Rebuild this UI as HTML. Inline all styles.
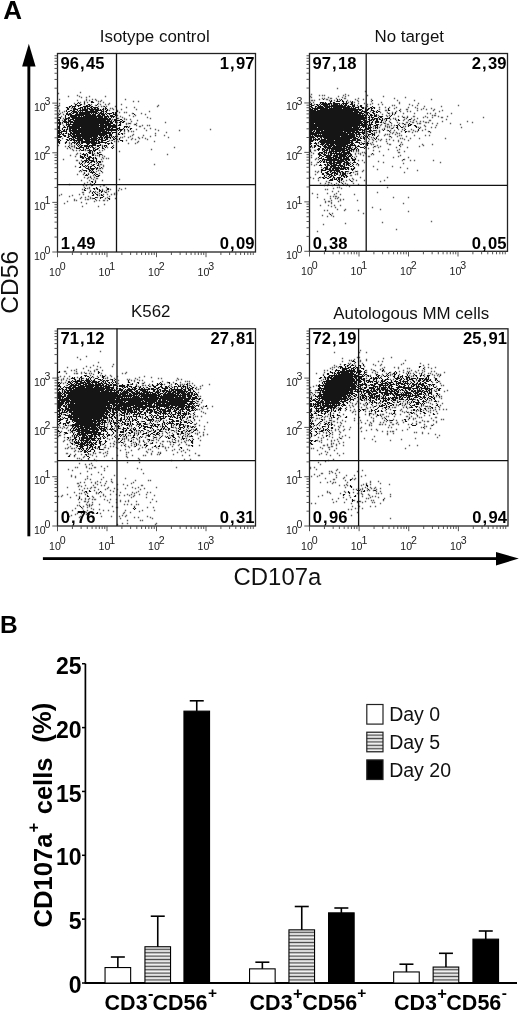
<!DOCTYPE html>
<html><head><meta charset="utf-8"><style>
html,body{margin:0;padding:0;background:#fff;width:520px;height:1013px;overflow:hidden}
svg{display:block;will-change:transform}
text{font-family:"Liberation Sans",sans-serif}
</style></head><body>
<svg width="520" height="1013" viewBox="0 0 520 1013">
<rect width="520" height="1013" fill="#fff"/>
<text x="3.30" y="19.20" font-size="26" font-weight="700" text-anchor="start" fill="#000" >A</text>
<rect x="27.4" y="60" width="2.9" height="476.3" fill="#000"/>
<path d="M28.85 43.8 L35.6 66.5 L22.1 66.5 Z" fill="#000"/>
<rect x="42.9" y="557.2" width="460" height="2.8" fill="#000"/>
<path d="M518.8 558.6 L496 551.9 L496 565.4 Z" fill="#000"/>
<text x="18.20" y="313.80" font-size="24.6" font-weight="400" text-anchor="start" fill="#111" transform="rotate(-90 18.2 313.8)">CD56</text>
<text x="233.60" y="585.00" font-size="23.9" font-weight="400" text-anchor="start" fill="#111" >CD107a</text>
<text x="99.80" y="42.00" font-size="16.9" font-weight="400" text-anchor="start" fill="#111" >Isotype control</text>
<path d="M91.5 101.5h0m1 0h0m-14 1h0m6 0h0m7 0h0m1 0h0m1 0h0m-16 1h0m2 0h0m5 0h0m-9 1h0m1 0h0m4 0h0m1 0h0m7 0h0m1 0h0m8 0h0m-26 1h0m4 0h0m2 0h0m1 0h0m1 0h0m1 0h0m6 0h0m1 0h0m2 0h0m1 0h0m6 0h0m-27 1h0m1 0h0m2 0h0m1 0h0m1 0h0m1 0h0m3 0h0m5 0h0m1 0h0m1 0h0m1 0h0m1 0h0m1 0h0m1 0h0m2 0h0m1 0h0m12 0h0m-38 1h0m1 0h0m2 0h0m3 0h0m2 0h0m6 0h0m1 0h0m1 0h0m2 0h0m1 0h0m2 0h0m3 0h0m1 0h0m2 0h0m1 0h0m1 0h0m1 0h0m1 0h0m8 0h0m-38 1h0m1 0h0m5 0h0m1 0h0m1 0h0m3 0h0m1 0h0m1 0h0m2 0h0m2 0h0m1 0h0m2 0h0m1 0h0m1 0h0m2 0h0m1 0h0m2 0h0m1 0h0m2 0h0m1 0h0m5 0h0m2 0h0m1 0h0m-39 1h0m1 0h0m5 0h0m1 0h0m1 0h0m1 0h0m1 0h0m3 0h0m2 0h0m1 0h0m1 0h0m1 0h0m1 0h0m1 0h0m2 0h0m1 0h0m1 0h0m1 0h0m1 0h0m1 0h0m1 0h0m1 0h0m1 0h0m1 0h0m2 0h0m2 0h0m1 0h0m2 0h0m2 0h0m-41 1h0m4 0h0m1 0h0m2 0h0m1 0h0m3 0h0m2 0h0m1 0h0m1 0h0m1 0h0m1 0h0m1 0h0m1 0h0m1 0h0m1 0h0m3 0h0m1 0h0m1 0h0m1 0h0m2 0h0m1 0h0m1 0h0m1 0h0m1 0h0m1 0h0m1 0h0m2 0h0m3 0h0m1 0h0m-41 1h0m2 0h0m1 0h0m3 0h0m1 0h0m1 0h0m1 0h0m1 0h0m2 0h0m2 0h0m2 0h0m3 0h0m1 0h0m1 0h0m1 0h0m1 0h0m1 0h0m1 0h0m1 0h0m1 0h0m1 0h0m1 0h0m1 0h0m1 0h0m4 0h0m1 0h0m1 0h0m2 0h0m1 0h0m11 0h0m-50 1h0m4 0h0m2 0h0m1 0h0m1 0h0m1 0h0m1 0h0m2 0h0m1 0h0m1 0h0m1 0h0m1 0h0m1 0h0m1 0h0m1 0h0m1 0h0m1 0h0m1 0h0m1 0h0m1 0h0m1 0h0m1 0h0m1 0h0m1 0h0m1 0h0m2 0h0m2 0h0m1 0h0m2 0h0m3 0h0m6 0h0m1 0h0m2 0h0m1 0h0m-50 1h0m1 0h0m2 0h0m1 0h0m2 0h0m1 0h0m3 0h0m1 0h0m2 0h0m1 0h0m1 0h0m1 0h0m1 0h0m1 0h0m1 0h0m1 0h0m1 0h0m1 0h0m1 0h0m2 0h0m2 0h0m2 0h0m1 0h0m1 0h0m2 0h0m1 0h0m1 0h0m1 0h0m1 0h0m2 0h0m2 0h0m1 0h0m1 0h0m1 0h0m1 0h0m2 0h0m2 0h0m18 0h0m-74 1h0m7 0h0m1 0h0m1 0h0m1 0h0m1 0h0m1 0h0m4 0h0m1 0h0m1 0h0m1 0h0m1 0h0m1 0h0m1 0h0m1 0h0m1 0h0m1 0h0m1 0h0m1 0h0m1 0h0m1 0h0m1 0h0m1 0h0m2 0h0m1 0h0m1 0h0m1 0h0m3 0h0m1 0h0m2 0h0m1 0h0m1 0h0m1 0h0m2 0h0m3 0h0m4 0h0m1 0h0m1 0h0m19 0h0m-69 1h0m3 0h0m2 0h0m1 0h0m1 0h0m1 0h0m1 0h0m1 0h0m1 0h0m1 0h0m1 0h0m1 0h0m1 0h0m1 0h0m1 0h0m1 0h0m2 0h0m1 0h0m1 0h0m1 0h0m1 0h0m1 0h0m1 0h0m1 0h0m1 0h0m1 0h0m1 0h0m2 0h0m1 0h0m1 0h0m1 0h0m2 0h0m1 0h0m1 0h0m3 0h0m3 0h0m1 0h0m1 0h0m3 0h0m-50 1h0m5 0h0m1 0h0m1 0h0m1 0h0m1 0h0m1 0h0m1 0h0m2 0h0m1 0h0m2 0h0m2 0h0m1 0h0m1 0h0m1 0h0m1 0h0m1 0h0m1 0h0m1 0h0m1 0h0m1 0h0m1 0h0m1 0h0m1 0h0m1 0h0m1 0h0m1 0h0m1 0h0m1 0h0m1 0h0m1 0h0m2 0h0m1 0h0m1 0h0m1 0h0m1 0h0m2 0h0m1 0h0m1 0h0m1 0h0m1 0h0m-55 1h0m1 0h0m5 0h0m3 0h0m1 0h0m2 0h0m1 0h0m1 0h0m1 0h0m1 0h0m1 0h0m1 0h0m1 0h0m1 0h0m1 0h0m1 0h0m1 0h0m1 0h0m1 0h0m1 0h0m1 0h0m1 0h0m1 0h0m1 0h0m1 0h0m1 0h0m1 0h0m1 0h0m1 0h0m1 0h0m1 0h0m2 0h0m1 0h0m1 0h0m1 0h0m1 0h0m2 0h0m1 0h0m1 0h0m2 0h0m3 0h0m2 0h0m-53 1h0m5 0h0m1 0h0m1 0h0m1 0h0m1 0h0m3 0h0m1 0h0m1 0h0m1 0h0m1 0h0m1 0h0m1 0h0m1 0h0m1 0h0m1 0h0m1 0h0m1 0h0m1 0h0m1 0h0m1 0h0m1 0h0m1 0h0m1 0h0m1 0h0m1 0h0m1 0h0m1 0h0m1 0h0m1 0h0m1 0h0m1 0h0m1 0h0m1 0h0m1 0h0m1 0h0m1 0h0m1 0h0m1 0h0m1 0h0m1 0h0m1 0h0m2 0h0m1 0h0m7 0h0m-59 1h0m1 0h0m5 0h0m1 0h0m1 0h0m2 0h0m2 0h0m1 0h0m1 0h0m1 0h0m2 0h0m1 0h0m1 0h0m1 0h0m1 0h0m1 0h0m1 0h0m1 0h0m1 0h0m1 0h0m1 0h0m1 0h0m1 0h0m1 0h0m1 0h0m1 0h0m1 0h0m1 0h0m1 0h0m1 0h0m1 0h0m1 0h0m1 0h0m1 0h0m1 0h0m1 0h0m1 0h0m1 0h0m1 0h0m1 0h0m1 0h0m1 0h0m1 0h0m1 0h0m1 0h0m1 0h0m4 0h0m1 0h0m1 0h0m4 0h0m1 0h0m-63 1h0m1 0h0m5 0h0m1 0h0m3 0h0m1 0h0m1 0h0m3 0h0m1 0h0m1 0h0m1 0h0m1 0h0m1 0h0m1 0h0m1 0h0m1 0h0m1 0h0m1 0h0m1 0h0m1 0h0m1 0h0m1 0h0m1 0h0m1 0h0m1 0h0m1 0h0m1 0h0m1 0h0m1 0h0m1 0h0m1 0h0m1 0h0m1 0h0m1 0h0m1 0h0m1 0h0m1 0h0m1 0h0m1 0h0m1 0h0m2 0h0m1 0h0m1 0h0m2 0h0m3 0h0m1 0h0m1 0h0m1 0h0m1 0h0m1 0h0m3 0h0m-63 1h0m4 0h0m1 0h0m1 0h0m1 0h0m2 0h0m1 0h0m1 0h0m1 0h0m1 0h0m2 0h0m1 0h0m1 0h0m1 0h0m1 0h0m1 0h0m1 0h0m1 0h0m1 0h0m1 0h0m1 0h0m1 0h0m1 0h0m1 0h0m1 0h0m1 0h0m1 0h0m1 0h0m1 0h0m1 0h0m1 0h0m1 0h0m1 0h0m1 0h0m1 0h0m1 0h0m1 0h0m1 0h0m1 0h0m1 0h0m1 0h0m1 0h0m1 0h0m1 0h0m1 0h0m1 0h0m1 0h0m1 0h0m2 0h0m2 0h0m5 0h0m1 0h0m2 0h0m1 0h0m-66 1h0m1 0h0m1 0h0m2 0h0m2 0h0m1 0h0m1 0h0m1 0h0m1 0h0m2 0h0m1 0h0m1 0h0m1 0h0m1 0h0m1 0h0m1 0h0m1 0h0m1 0h0m1 0h0m1 0h0m1 0h0m1 0h0m1 0h0m1 0h0m1 0h0m1 0h0m1 0h0m1 0h0m1 0h0m1 0h0m1 0h0m1 0h0m1 0h0m1 0h0m1 0h0m1 0h0m1 0h0m1 0h0m1 0h0m1 0h0m1 0h0m1 0h0m1 0h0m1 0h0m1 0h0m1 0h0m1 0h0m1 0h0m2 0h0m1 0h0m1 0h0m3 0h0m4 0h0m1 0h0m2 0h0m1 0h0m-65 1h0m1 0h0m1 0h0m6 0h0m2 0h0m2 0h0m3 0h0m1 0h0m1 0h0m1 0h0m1 0h0m1 0h0m1 0h0m1 0h0m1 0h0m1 0h0m1 0h0m1 0h0m1 0h0m1 0h0m1 0h0m1 0h0m1 0h0m1 0h0m1 0h0m1 0h0m1 0h0m1 0h0m1 0h0m1 0h0m1 0h0m1 0h0m1 0h0m1 0h0m1 0h0m1 0h0m1 0h0m1 0h0m1 0h0m1 0h0m1 0h0m1 0h0m1 0h0m1 0h0m1 0h0m1 0h0m4 0h0m4 0h0m9 0h0m-70 1h0m1 0h0m6 0h0m1 0h0m1 0h0m1 0h0m1 0h0m1 0h0m1 0h0m1 0h0m1 0h0m1 0h0m1 0h0m1 0h0m1 0h0m1 0h0m1 0h0m1 0h0m1 0h0m1 0h0m1 0h0m1 0h0m1 0h0m1 0h0m1 0h0m1 0h0m1 0h0m1 0h0m1 0h0m1 0h0m1 0h0m1 0h0m1 0h0m1 0h0m1 0h0m2 0h0m1 0h0m1 0h0m1 0h0m2 0h0m1 0h0m1 0h0m1 0h0m1 0h0m1 0h0m3 0h0m1 0h0m5 0h0m1 0h0m15 0h0m-76 1h0m7 0h0m2 0h0m1 0h0m3 0h0m1 0h0m1 0h0m1 0h0m1 0h0m1 0h0m1 0h0m1 0h0m1 0h0m1 0h0m1 0h0m1 0h0m1 0h0m1 0h0m1 0h0m1 0h0m1 0h0m1 0h0m1 0h0m1 0h0m1 0h0m1 0h0m1 0h0m1 0h0m1 0h0m1 0h0m1 0h0m1 0h0m1 0h0m1 0h0m1 0h0m1 0h0m1 0h0m1 0h0m1 0h0m1 0h0m1 0h0m1 0h0m1 0h0m1 0h0m1 0h0m1 0h0m1 0h0m1 0h0m1 0h0m2 0h0m1 0h0m1 0h0m-62 1h0m1 0h0m5 0h0m3 0h0m1 0h0m1 0h0m1 0h0m1 0h0m1 0h0m1 0h0m1 0h0m1 0h0m1 0h0m1 0h0m1 0h0m1 0h0m1 0h0m1 0h0m1 0h0m1 0h0m1 0h0m1 0h0m1 0h0m1 0h0m1 0h0m1 0h0m1 0h0m1 0h0m1 0h0m1 0h0m1 0h0m1 0h0m1 0h0m1 0h0m1 0h0m2 0h0m1 0h0m1 0h0m1 0h0m1 0h0m1 0h0m1 0h0m2 0h0m1 0h0m1 0h0m1 0h0m1 0h0m1 0h0m1 0h0m1 0h0m1 0h0m8 0h0m1 0h0m1 0h0m1 0h0m-69 1h0m1 0h0m4 0h0m1 0h0m1 0h0m2 0h0m2 0h0m1 0h0m1 0h0m1 0h0m1 0h0m1 0h0m1 0h0m1 0h0m1 0h0m1 0h0m1 0h0m2 0h0m1 0h0m1 0h0m1 0h0m1 0h0m1 0h0m1 0h0m1 0h0m1 0h0m1 0h0m1 0h0m1 0h0m1 0h0m1 0h0m1 0h0m1 0h0m1 0h0m1 0h0m1 0h0m1 0h0m1 0h0m1 0h0m1 0h0m1 0h0m1 0h0m1 0h0m2 0h0m1 0h0m1 0h0m2 0h0m1 0h0m1 0h0m1 0h0m4 0h0m5 0h0m2 0h0m2 0h0m-70 1h0m1 0h0m3 0h0m5 0h0m2 0h0m1 0h0m1 0h0m1 0h0m1 0h0m1 0h0m1 0h0m1 0h0m1 0h0m1 0h0m1 0h0m1 0h0m1 0h0m1 0h0m1 0h0m1 0h0m1 0h0m1 0h0m1 0h0m1 0h0m1 0h0m1 0h0m1 0h0m1 0h0m1 0h0m1 0h0m1 0h0m1 0h0m1 0h0m1 0h0m1 0h0m1 0h0m1 0h0m1 0h0m1 0h0m2 0h0m1 0h0m1 0h0m1 0h0m1 0h0m2 0h0m1 0h0m4 0h0m1 0h0m1 0h0m1 0h0m4 0h0m7 0h0m1 0h0m-72 1h0m3 0h0m2 0h0m2 0h0m1 0h0m2 0h0m1 0h0m2 0h0m1 0h0m1 0h0m1 0h0m1 0h0m2 0h0m1 0h0m1 0h0m1 0h0m1 0h0m1 0h0m1 0h0m1 0h0m1 0h0m1 0h0m1 0h0m1 0h0m1 0h0m1 0h0m1 0h0m1 0h0m1 0h0m1 0h0m1 0h0m1 0h0m1 0h0m1 0h0m1 0h0m1 0h0m1 0h0m1 0h0m1 0h0m1 0h0m1 0h0m1 0h0m1 0h0m1 0h0m1 0h0m1 0h0m1 0h0m1 0h0m1 0h0m1 0h0m1 0h0m1 0h0m2 0h0m1 0h0m1 0h0m1 0h0m2 0h0m6 0h0m-72 1h0m1 0h0m1 0h0m3 0h0m1 0h0m2 0h0m3 0h0m1 0h0m1 0h0m1 0h0m1 0h0m1 0h0m1 0h0m1 0h0m1 0h0m1 0h0m1 0h0m1 0h0m1 0h0m1 0h0m1 0h0m1 0h0m1 0h0m1 0h0m1 0h0m1 0h0m1 0h0m1 0h0m1 0h0m1 0h0m1 0h0m1 0h0m1 0h0m1 0h0m1 0h0m1 0h0m1 0h0m1 0h0m1 0h0m1 0h0m1 0h0m1 0h0m2 0h0m1 0h0m1 0h0m1 0h0m1 0h0m1 0h0m1 0h0m1 0h0m1 0h0m1 0h0m3 0h0m2 0h0m1 0h0m3 0h0m4 0h0m-70 1h0m1 0h0m2 0h0m1 0h0m1 0h0m1 0h0m1 0h0m1 0h0m3 0h0m1 0h0m2 0h0m1 0h0m1 0h0m1 0h0m1 0h0m1 0h0m1 0h0m1 0h0m1 0h0m1 0h0m1 0h0m1 0h0m1 0h0m1 0h0m1 0h0m1 0h0m1 0h0m1 0h0m1 0h0m1 0h0m1 0h0m1 0h0m1 0h0m1 0h0m1 0h0m1 0h0m1 0h0m1 0h0m1 0h0m1 0h0m1 0h0m1 0h0m1 0h0m1 0h0m1 0h0m2 0h0m3 0h0m5 0h0m4 0h0m-62 1h0m1 0h0m1 0h0m1 0h0m5 0h0m4 0h0m1 0h0m2 0h0m1 0h0m1 0h0m1 0h0m1 0h0m1 0h0m1 0h0m1 0h0m1 0h0m1 0h0m1 0h0m1 0h0m1 0h0m1 0h0m1 0h0m1 0h0m1 0h0m1 0h0m1 0h0m1 0h0m1 0h0m1 0h0m1 0h0m1 0h0m1 0h0m1 0h0m1 0h0m1 0h0m2 0h0m1 0h0m1 0h0m1 0h0m1 0h0m1 0h0m1 0h0m1 0h0m1 0h0m2 0h0m1 0h0m1 0h0m1 0h0m4 0h0m-61 1h0m1 0h0m2 0h0m2 0h0m2 0h0m1 0h0m2 0h0m2 0h0m1 0h0m1 0h0m1 0h0m1 0h0m1 0h0m1 0h0m1 0h0m1 0h0m1 0h0m2 0h0m1 0h0m1 0h0m1 0h0m1 0h0m1 0h0m1 0h0m1 0h0m1 0h0m1 0h0m1 0h0m1 0h0m1 0h0m1 0h0m1 0h0m1 0h0m1 0h0m1 0h0m1 0h0m1 0h0m1 0h0m1 0h0m1 0h0m1 0h0m1 0h0m1 0h0m1 0h0m1 0h0m1 0h0m1 0h0m2 0h0m6 0h0m3 0h0m1 0h0m-63 1h0m1 0h0m2 0h0m1 0h0m5 0h0m1 0h0m1 0h0m2 0h0m1 0h0m1 0h0m2 0h0m1 0h0m1 0h0m1 0h0m1 0h0m1 0h0m1 0h0m1 0h0m1 0h0m1 0h0m1 0h0m1 0h0m1 0h0m1 0h0m1 0h0m1 0h0m1 0h0m1 0h0m1 0h0m1 0h0m1 0h0m1 0h0m1 0h0m1 0h0m1 0h0m1 0h0m1 0h0m1 0h0m1 0h0m1 0h0m1 0h0m3 0h0m1 0h0m1 0h0m7 0h0m1 0h0m3 0h0m-64 1h0m1 0h0m4 0h0m1 0h0m1 0h0m3 0h0m2 0h0m1 0h0m2 0h0m1 0h0m1 0h0m1 0h0m1 0h0m1 0h0m1 0h0m1 0h0m1 0h0m1 0h0m1 0h0m1 0h0m1 0h0m1 0h0m1 0h0m1 0h0m1 0h0m1 0h0m1 0h0m1 0h0m1 0h0m1 0h0m1 0h0m1 0h0m1 0h0m2 0h0m1 0h0m1 0h0m1 0h0m1 0h0m1 0h0m2 0h0m1 0h0m2 0h0m1 0h0m1 0h0m5 0h0m-58 1h0m1 0h0m1 0h0m1 0h0m3 0h0m1 0h0m3 0h0m1 0h0m2 0h0m1 0h0m1 0h0m1 0h0m1 0h0m1 0h0m1 0h0m1 0h0m1 0h0m1 0h0m1 0h0m1 0h0m1 0h0m1 0h0m1 0h0m1 0h0m1 0h0m1 0h0m1 0h0m1 0h0m1 0h0m1 0h0m1 0h0m1 0h0m1 0h0m1 0h0m1 0h0m3 0h0m1 0h0m2 0h0m2 0h0m1 0h0m1 0h0m2 0h0m2 0h0m2 0h0m2 0h0m-57 1h0m1 0h0m1 0h0m7 0h0m1 0h0m4 0h0m1 0h0m1 0h0m1 0h0m2 0h0m1 0h0m1 0h0m1 0h0m2 0h0m1 0h0m1 0h0m1 0h0m1 0h0m1 0h0m1 0h0m1 0h0m1 0h0m1 0h0m2 0h0m1 0h0m1 0h0m1 0h0m2 0h0m1 0h0m1 0h0m1 0h0m1 0h0m2 0h0m1 0h0m1 0h0m1 0h0m1 0h0m1 0h0m1 0h0m2 0h0m2 0h0m-45 1h0m1 0h0m1 0h0m2 0h0m2 0h0m1 0h0m1 0h0m1 0h0m1 0h0m1 0h0m1 0h0m1 0h0m1 0h0m1 0h0m1 0h0m1 0h0m1 0h0m1 0h0m1 0h0m2 0h0m1 0h0m1 0h0m1 0h0m1 0h0m1 0h0m1 0h0m2 0h0m2 0h0m1 0h0m2 0h0m2 0h0m1 0h0m3 0h0m3 0h0m2 0h0m1 0h0m3 0h0m-61 1h0m1 0h0m7 0h0m1 0h0m2 0h0m2 0h0m1 0h0m1 0h0m1 0h0m3 0h0m1 0h0m1 0h0m1 0h0m1 0h0m1 0h0m2 0h0m1 0h0m1 0h0m1 0h0m1 0h0m1 0h0m1 0h0m1 0h0m1 0h0m1 0h0m1 0h0m1 0h0m1 0h0m2 0h0m1 0h0m1 0h0m1 0h0m1 0h0m3 0h0m1 0h0m1 0h0m6 0h0m1 0h0m5 0h0m-61 1h0m2 0h0m7 0h0m1 0h0m2 0h0m1 0h0m2 0h0m1 0h0m1 0h0m1 0h0m1 0h0m1 0h0m1 0h0m1 0h0m1 0h0m1 0h0m3 0h0m1 0h0m1 0h0m1 0h0m1 0h0m2 0h0m1 0h0m1 0h0m1 0h0m1 0h0m1 0h0m1 0h0m1 0h0m3 0h0m1 0h0m1 0h0m1 0h0m1 0h0m7 0h0m8 0h0m1 0h0m1 0h0m-64 1h0m1 0h0m7 0h0m8 0h0m2 0h0m2 0h0m1 0h0m2 0h0m1 0h0m1 0h0m1 0h0m1 0h0m1 0h0m1 0h0m1 0h0m1 0h0m1 0h0m1 0h0m1 0h0m1 0h0m1 0h0m2 0h0m2 0h0m1 0h0m2 0h0m1 0h0m5 0h0m1 0h0m14 0h0m-64 1h0m1 0h0m6 0h0m1 0h0m6 0h0m1 0h0m1 0h0m1 0h0m2 0h0m1 0h0m1 0h0m2 0h0m1 0h0m1 0h0m1 0h0m1 0h0m1 0h0m1 0h0m1 0h0m1 0h0m1 0h0m1 0h0m1 0h0m1 0h0m1 0h0m1 0h0m1 0h0m2 0h0m1 0h0m1 0h0m1 0h0m1 0h0m1 0h0m1 0h0m1 0h0m1 0h0m5 0h0m-52 1h0m6 0h0m6 0h0m3 0h0m2 0h0m1 0h0m2 0h0m2 0h0m1 0h0m4 0h0m1 0h0m1 0h0m1 0h0m2 0h0m1 0h0m1 0h0m1 0h0m1 0h0m1 0h0m1 0h0m1 0h0m1 0h0m6 0h0m2 0h0m1 0h0m1 0h0m2 0h0m1 0h0m-36 1h0m2 0h0m2 0h0m7 0h0m1 0h0m4 0h0m1 0h0m1 0h0m1 0h0m5 0h0m8 0h0m-31 1h0m2 0h0m2 0h0m1 0h0m2 0h0m1 0h0m1 0h0m1 0h0m2 0h0m1 0h0m1 0h0m1 0h0m1 0h0m1 0h0m1 0h0m2 0h0m1 0h0m1 0h0m1 0h0m4 0h0m1 0h0m1 0h0m-38 1h0m6 0h0m4 0h0m2 0h0m1 0h0m3 0h0m1 0h0m1 0h0m1 0h0m1 0h0m1 0h0m2 0h0m1 0h0m5 0h0m1 0h0m4 0h0m2 0h0m2 0h0m6 0h0m-43 1h0m7 0h0m3 0h0m1 0h0m1 0h0m1 0h0m1 0h0m3 0h0m2 0h0m2 0h0m2 0h0m1 0h0m6 0h0m3 0h0m3 0h0m6 0h0m2 0h0m-37 1h0m1 0h0m1 0h0m1 0h0m4 0h0m3 0h0m1 0h0m1 0h0m5 0h0m1 0h0m3 0h0m1 0h0m4 0h0m1 0h0m9 0h0m-32 1h0m3 0h0m2 0h0m4 0h0m4 0h0m2 0h0m1 0h0m1 0h0m-16 1h0m1 0h0m1 0h0m5 0h0m1 0h0m1 0h0m1 0h0m2 0h0m1 0h0m1 0h0m-6 1h0m1 0h0m2 0h0m2 0h0m-6 1h0m1 0h0m1 0h0m2 0h0m5 0h0m2 0h0m-16 1h0m3 0h0m3 0h0m1 0h0m2 0h0m5 0h0m1 0h0m-16 1h0m1 0h0m1 0h0m1 0h0m2 0h0m5 0h0m1 0h0m6 0h0m1 0h0m1 0h0m-21 1h0m4 0h0m1 0h0m2 0h0m5 0h0m1 0h0m6 0h0m-19 1h0m1 0h0m1 0h0m2 0h0m3 0h0m2 0h0m1 0h0m-10 1h0m1 0h0m1 0h0m1 0h0m2 0h0m3 0h0m1 0h0m1 0h0m1 0h0m2 0h0m2 0h0m-13 1h0m1 0h0m3 0h0m1 0h0m1 0h0m1 0h0m3 0h0m1 0h0m2 0h0m1 0h0m-10 1h0m2 0h0m1 0h0m4 0h0m3 0h0m-12 1h0m1 0h0m1 0h0m1 0h0m2 0h0m1 0h0m1 0h0m1 0h0m1 0h0m3 0h0m-14 1h0m1 0h0m2 0h0m1 0h0m2 0h0m3 0h0m1 0h0m1 0h0m1 0h0m2 0h0m2 0h0m1 0h0m1 0h0m-18 1h0m3 0h0m2 0h0m1 0h0m2 0h0m1 0h0m3 0h0m3 0h0m2 0h0m1 0h0m-21 1h0m2 0h0m8 0h0m9 0h0m-18 1h0m2 0h0m6 0h0m5 0h0m1 0h0m4 0h0m-16 1h0m3 0h0m2 0h0m5 0h0m1 0h0m4 0h0m1 0h0m-18 1h0m3 0h0m1 0h0m2 0h0m2 0h0m2 0h0m1 0h0m3 0h0m-15 1h0m1 0h0m5 0h0m3 0h0m2 0h0m5 0h0m2 0h0m4 0h0m-15 1h0m1 0h0m1 0h0m2 0h0m1 0h0m1 0h0m1 0h0m1 0h0m2 0h0m1 0h0m3 0h0m-12 1h0m1 0h0m2 0h0m1 0h0m1 0h0m3 0h0m-16 1h0m3 0h0m1 0h0m1 0h0m1 0h0m3 0h0m1 0h0m2 0h0m-6 1h0m3 0h0m2 0h0m2 0h0m8 0h0m-11 1h0m1 0h0m1 0h0m1 0h0m1 0h0m-10 1h0m8 0h0m3 0h0m-9 1h0m2 0h0m6 0h0m2 0h0m1 0h0m-12 1h0m1 0h0m1 0h0m8 0h0m3 0h0m1 0h0m-3 1h0m1 0h0m1 0h0m-8 1h0m1 4h0m1 0h0m3 0h0m-3 1h0m3 0h0m-1 1h0m-1 1h0m-1 1h0m4 2h0m-11 1h0m8 0h0m1 0h0m2 0h0m1 0h0m10 0h0m1 0h0m-24 1h0m10 0h0m3 0h0m2 0h0m8 0h0m1 0h0m-24 1h0m1 0h0m14 0h0m1 0h0m2 0h0m-12 1h0m3 0h0m6 0h0m2 0h0m1 0h0m-10 1h0m2 0h0m7 0h0m4 0h0m-13 1h0m3 0h0m21 0h0m-23 1h0m3 0h0m1 0h0m4 0h0m-9 1h0m1 0h0m4 0h0m4 0h0m1 0h0m1 1h0m-8 1h0m1 0h0m4 0h0m1 0h0m1 0h0m-9 1h0m1 0h0m6 0h0m8 0h0m1 0h0m-14 1h0m14 0h0" stroke="#151515" stroke-width="1.2" stroke-linecap="square" fill="none"/><path d="M80.5 92.5h0m-22 1h0m19 2h0m-9 1h0m11 0h0m10 0h0m16 0h0m-24 1h0m5 0h0m-27 2h0m27 0h0m6 0h0m3 0h0m30 0h0m-48 1h0m9 0h0m3 0h0m7 0h0m5 0h0m-17 1h0m14 0h0m2 0h0m33 0h0m5 0h0m-58 1h0m7 0h0m16 0h0m-44 1h0m15 0h0m24 0h0m11 0h0m-25 1h0m7 0h0m9 0h0m5 0h0m3 0h0m13 0h0m-62 1h0m36 0h0m63 0h0m-100 1h0m40 0h0m3 0h0m2 0h0m3 0h0m9 0h0m42 0h0m-31 1h0m8 0h0m-76 1h0m13 0h0m39 0h0m2 0h0m1 1h0m8 0h0m15 0h0m-77 1h0m50 0h0m8 0h0m-58 1h0m5 0h0m85 0h0m-87 1h0m57 0h0m5 0h0m2 0h0m-68 1h0m2 0h0m72 0h0m9 0h0m-78 1h0m82 0h0m-87 1h0m59 0h0m12 0h0m6 0h0m-74 1h0m59 0h0m13 0h0m-75 1h0m58 0h0m6 0h0m25 0h0m-84 1h0m55 0h0m6 0h0m26 0h0m-38 1h0m12 0h0m2 0h0m4 0h0m-68 1h0m75 0h0m-6 1h0m-14 1h0m48 0h0m-103 1h0m64 0h0m2 0h0m2 0h0m6 0h0m-10 1h0m8 0h0m-71 1h0m73 0h0m6 0h0m5 0h0m2 0h0m-20 1h0m10 0h0m1 0h0m4 2h0m6 0h0m-23 1h0m9 0h0m19 0h0m55 0h0m-64 1h0m12 0h0m21 0h0m-55 1h0m4 0h0m3 0h0m2 0h0m33 1h0m-42 1h0m31 0h0m-39 1h0m17 0h0m-1 1h0m11 0h0m12 0h0m9 0h0m-47 1h0m7 0h0m6 0h0m20 0h0m-30 1h0m2 0h0m6 0h0m10 0h0m4 0h0m26 0h0m-106 1h0m70 0h0m7 0h0m6 0h0m-28 1h0m14 0h0m4 0h0m12 0h0m-38 1h0m2 0h0m15 0h0m-12 1h0m2 0h0m2 0h0m20 0h0m16 0h0m-85 1h0m68 0h0m-68 1h0m59 0h0m7 0h0m-64 1h0m-13 1h0m11 0h0m5 0h0m28 0h0m11 0h0m-48 1h0m6 0h0m1 0h0m2 1h0m21 0h0m12 0h0m67 0h0m-107 1h0m3 0h0m2 1h0m32 0h0m47 0h0m-78 1h0m3 0h0m3 0h0m6 0h0m2 0h0m12 0h0m3 0h0m17 1h0m-19 1h0m-23 1h0m3 0h0m14 0h0m-18 1h0m91 0h0m-97 1h0m25 0h0m2 0h0m5 0h0m-27 1h0m24 0h0m5 0h0m-2 1h0m1 1h0m3 0h0m2 0h0m-45 1h0m38 0h0m-25 1h0m1 0h0m4 0h0m21 1h0m-23 1h0m5 1h0m12 0h0m-5 1h0m9 0h0m1 0h0m53 0h0m-51 1h0m-28 1h0m24 0h0m4 0h0m-4 2h0m3 0h0m-20 1h0m16 1h0m2 0h0m-21 1h0m2 0h0m15 0h0m-12 1h0m18 0h0m-14 1h0m11 0h0m-22 1h0m6 0h0m10 1h0m-3 1h0m-6 1h0m4 0h0m6 0h0m-7 1h0m4 0h0m5 0h0m1 0h0m-4 1h0m26 0h0m-38 1h0m8 0h0m6 0h0m7 0h0m-15 2h0m-3 1h0m6 0h0m-21 1h0m14 1h0m3 0h0m5 0h0m12 0h0m1 0h0m-4 1h0m-16 1h0m5 0h0m17 0h0m-19 1h0m2 0h0m30 0h0m6 0h0m-43 1h0m20 0h0m8 0h0m11 0h0m-31 1h0m16 0h0m12 0h0m-23 1h0m9 0h0m4 0h0m-26 1h0m1 0h0m6 0h0m8 0h0m9 0h0m10 0h0m-17 1h0m15 0h0m-53 1h0m18 0h0m4 0h0m20 0h0m4 0h0m4 0h0m3 0h0m2 0h0m-57 1h0m13 0h0m27 0h0m-30 1h0m19 0h0m21 0h0m-28 1h0m4 0h0m5 0h0m7 0h0m10 0h0m-27 1h0m10 0h0m2 0h0m13 0h0m10 0h0m-41 1h0m11 0h0m2 0h0m1 0h0m-14 1h0m2 0h0m20 0h0m3 0h0m4 0h0m1 0h0m3 0h0m-40 1h0m27 0h0m-13 1h0m-17 1h0m22 0h0m18 1h0m-22 2h0m16 0h0" stroke="#606060" stroke-width="1.35" stroke-linecap="square" fill="none"/>
<rect x="57.5" y="53.5" width="198.00" height="198.50" fill="none" stroke="#222" stroke-width="1.3"/>
<line x1="116.5" y1="53.5" x2="116.5" y2="252" stroke="#111" stroke-width="1.3"/>
<line x1="57.5" y1="184.7" x2="255.5" y2="184.7" stroke="#111" stroke-width="1.3"/>
<text x="60.50" y="68.60" font-size="16.6" font-weight="700" text-anchor="start" fill="#000" >96<tspan dx="1.1">,</tspan><tspan dx="1.3">45</tspan></text>
<text x="254.50" y="68.60" font-size="16.6" font-weight="700" text-anchor="end" fill="#000" >1<tspan dx="1.1">,</tspan><tspan dx="1.3">97</tspan></text>
<text x="60.70" y="249.40" font-size="16.6" font-weight="700" text-anchor="start" fill="#000" >1<tspan dx="1.1">,</tspan><tspan dx="1.3">49</tspan></text>
<text x="254.50" y="249.40" font-size="16.6" font-weight="700" text-anchor="end" fill="#000" >0<tspan dx="1.1">,</tspan><tspan dx="1.3">09</tspan></text>
<path d="M57.50 252.00v5.2M57.50 252.00h-5.2M72.40 252.00v3.0M57.50 237.06h-3.0M81.12 252.00v3.0M57.50 228.32h-3.0M87.30 252.00v3.0M57.50 222.12h-3.0M92.10 252.00v3.0M57.50 217.31h-3.0M96.02 252.00v3.0M57.50 213.38h-3.0M99.33 252.00v3.0M57.50 210.06h-3.0M102.20 252.00v3.0M57.50 207.18h-3.0M104.74 252.00v3.0M57.50 204.65h-3.0M107.00 252.00v5.2M57.50 202.38h-5.2M121.90 252.00v3.0M57.50 187.44h-3.0M130.62 252.00v3.0M57.50 178.70h-3.0M136.80 252.00v3.0M57.50 172.50h-3.0M141.60 252.00v3.0M57.50 167.69h-3.0M145.52 252.00v3.0M57.50 163.76h-3.0M148.83 252.00v3.0M57.50 160.44h-3.0M151.70 252.00v3.0M57.50 157.56h-3.0M154.24 252.00v3.0M57.50 155.02h-3.0M156.50 252.00v5.2M57.50 152.75h-5.2M171.40 252.00v3.0M57.50 137.81h-3.0M180.12 252.00v3.0M57.50 129.07h-3.0M186.30 252.00v3.0M57.50 122.87h-3.0M191.10 252.00v3.0M57.50 118.06h-3.0M195.02 252.00v3.0M57.50 114.13h-3.0M198.33 252.00v3.0M57.50 110.81h-3.0M201.20 252.00v3.0M57.50 107.93h-3.0M203.74 252.00v3.0M57.50 105.40h-3.0M206.00 252.00v5.2M57.50 103.12h-5.2M220.90 252.00v3.0M57.50 88.19h-3.0M229.62 252.00v3.0M57.50 79.45h-3.0M235.80 252.00v3.0M57.50 73.25h-3.0M240.60 252.00v3.0M57.50 68.44h-3.0M244.52 252.00v3.0M57.50 64.51h-3.0M247.83 252.00v3.0M57.50 61.19h-3.0M250.70 252.00v3.0M57.50 58.31h-3.0M253.24 252.00v3.0M57.50 55.77h-3.0" stroke="#444" stroke-width="0.9" fill="none"/>
<text x="60.90" y="275.50" font-size="10.6" text-anchor="end" fill="#222">10</text>
<text x="59.80" y="269.50" font-size="10.6" fill="#222">0</text>
<text x="45.70" y="259.50" font-size="10.6" text-anchor="end" fill="#222">10</text>
<text x="44.60" y="253.70" font-size="10.6" fill="#222">0</text>
<text x="110.40" y="275.50" font-size="10.6" text-anchor="end" fill="#222">10</text>
<text x="109.30" y="269.50" font-size="10.6" fill="#222">1</text>
<text x="45.70" y="209.88" font-size="10.6" text-anchor="end" fill="#222">10</text>
<text x="44.60" y="204.07" font-size="10.6" fill="#222">1</text>
<text x="159.90" y="275.50" font-size="10.6" text-anchor="end" fill="#222">10</text>
<text x="158.80" y="269.50" font-size="10.6" fill="#222">2</text>
<text x="45.70" y="160.25" font-size="10.6" text-anchor="end" fill="#222">10</text>
<text x="44.60" y="154.45" font-size="10.6" fill="#222">2</text>
<text x="209.40" y="275.50" font-size="10.6" text-anchor="end" fill="#222">10</text>
<text x="208.30" y="269.50" font-size="10.6" fill="#222">3</text>
<text x="45.70" y="110.62" font-size="10.6" text-anchor="end" fill="#222">10</text>
<text x="44.60" y="104.83" font-size="10.6" fill="#222">3</text>
<text x="374.50" y="41.80" font-size="16.9" font-weight="400" text-anchor="start" fill="#111" >No target</text>
<path d="M323.5 99.5h0m14 0h0m4 0h0m-10 1h0m6 0h0m3 0h0m2 0h0m30 0h0m-42 1h0m1 0h0m5 0h0m1 0h0m1 0h0m1 0h0m3 0h0m1 0h0m3 0h0m6 0h0m-32 1h0m1 0h0m1 0h0m1 0h0m2 0h0m5 0h0m3 0h0m1 0h0m9 0h0m3 0h0m5 0h0m1 0h0m-41 1h0m9 0h0m2 0h0m1 0h0m1 0h0m1 0h0m1 0h0m2 0h0m1 0h0m1 0h0m1 0h0m2 0h0m1 0h0m1 0h0m1 0h0m1 0h0m1 0h0m1 0h0m3 0h0m1 0h0m1 0h0m1 0h0m1 0h0m1 0h0m4 0h0m1 0h0m-42 1h0m1 0h0m5 0h0m1 0h0m2 0h0m2 0h0m1 0h0m1 0h0m1 0h0m1 0h0m1 0h0m1 0h0m1 0h0m1 0h0m2 0h0m2 0h0m1 0h0m1 0h0m1 0h0m1 0h0m2 0h0m2 0h0m2 0h0m2 0h0m1 0h0m4 0h0m1 0h0m1 0h0m2 0h0m-43 1h0m1 0h0m1 0h0m4 0h0m1 0h0m2 0h0m3 0h0m1 0h0m1 0h0m1 0h0m1 0h0m2 0h0m2 0h0m1 0h0m1 0h0m1 0h0m1 0h0m1 0h0m1 0h0m1 0h0m1 0h0m1 0h0m1 0h0m1 0h0m2 0h0m1 0h0m1 0h0m2 0h0m4 0h0m1 0h0m1 0h0m6 0h0m1 0h0m5 0h0m-56 1h0m1 0h0m4 0h0m1 0h0m2 0h0m1 0h0m1 0h0m1 0h0m1 0h0m2 0h0m1 0h0m1 0h0m1 0h0m1 0h0m1 0h0m1 0h0m1 0h0m1 0h0m1 0h0m1 0h0m1 0h0m1 0h0m1 0h0m1 0h0m1 0h0m1 0h0m1 0h0m1 0h0m1 0h0m1 0h0m1 0h0m2 0h0m1 0h0m1 0h0m1 0h0m2 0h0m1 0h0m1 0h0m4 0h0m2 0h0m1 0h0m11 0h0m-61 1h0m1 0h0m3 0h0m2 0h0m1 0h0m1 0h0m1 0h0m1 0h0m1 0h0m1 0h0m2 0h0m1 0h0m1 0h0m1 0h0m1 0h0m2 0h0m2 0h0m1 0h0m1 0h0m1 0h0m1 0h0m1 0h0m1 0h0m1 0h0m1 0h0m1 0h0m1 0h0m1 0h0m1 0h0m1 0h0m1 0h0m1 0h0m1 0h0m2 0h0m2 0h0m2 0h0m1 0h0m1 0h0m1 0h0m3 0h0m1 0h0m1 0h0m7 0h0m1 0h0m2 0h0m1 0h0m-64 1h0m2 0h0m1 0h0m1 0h0m1 0h0m1 0h0m1 0h0m1 0h0m1 0h0m1 0h0m1 0h0m1 0h0m1 0h0m1 0h0m1 0h0m1 0h0m1 0h0m2 0h0m1 0h0m1 0h0m1 0h0m1 0h0m1 0h0m1 0h0m1 0h0m1 0h0m1 0h0m1 0h0m1 0h0m1 0h0m2 0h0m1 0h0m1 0h0m1 0h0m1 0h0m1 0h0m1 0h0m1 0h0m1 0h0m1 0h0m1 0h0m1 0h0m1 0h0m3 0h0m4 0h0m1 0h0m2 0h0m3 0h0m1 0h0m2 0h0m1 0h0m2 0h0m14 0h0m-78 1h0m1 0h0m1 0h0m2 0h0m1 0h0m1 0h0m1 0h0m3 0h0m1 0h0m1 0h0m1 0h0m1 0h0m1 0h0m1 0h0m1 0h0m1 0h0m1 0h0m1 0h0m1 0h0m1 0h0m1 0h0m1 0h0m1 0h0m1 0h0m1 0h0m1 0h0m1 0h0m1 0h0m1 0h0m1 0h0m1 0h0m1 0h0m1 0h0m1 0h0m1 0h0m1 0h0m1 0h0m1 0h0m1 0h0m1 0h0m1 0h0m1 0h0m1 0h0m1 0h0m1 0h0m1 0h0m1 0h0m1 0h0m1 0h0m4 0h0m2 0h0m1 0h0m3 0h0m17 0h0m-78 1h0m1 0h0m1 0h0m1 0h0m1 0h0m1 0h0m2 0h0m1 0h0m1 0h0m1 0h0m1 0h0m1 0h0m1 0h0m1 0h0m1 0h0m1 0h0m1 0h0m1 0h0m1 0h0m1 0h0m1 0h0m1 0h0m1 0h0m1 0h0m1 0h0m1 0h0m1 0h0m1 0h0m1 0h0m1 0h0m1 0h0m1 0h0m1 0h0m1 0h0m1 0h0m1 0h0m1 0h0m1 0h0m1 0h0m1 0h0m1 0h0m1 0h0m1 0h0m1 0h0m1 0h0m1 0h0m1 0h0m2 0h0m1 0h0m2 0h0m3 0h0m1 0h0m1 0h0m4 0h0m1 0h0m1 0h0m4 0h0m11 0h0m1 0h0m10 0h0m-89 1h0m1 0h0m1 0h0m1 0h0m1 0h0m1 0h0m1 0h0m1 0h0m1 0h0m1 0h0m1 0h0m1 0h0m1 0h0m1 0h0m1 0h0m1 0h0m1 0h0m1 0h0m1 0h0m1 0h0m1 0h0m1 0h0m1 0h0m1 0h0m1 0h0m1 0h0m1 0h0m1 0h0m1 0h0m1 0h0m1 0h0m1 0h0m1 0h0m1 0h0m1 0h0m1 0h0m1 0h0m1 0h0m1 0h0m1 0h0m1 0h0m1 0h0m1 0h0m2 0h0m1 0h0m1 0h0m1 0h0m1 0h0m3 0h0m1 0h0m1 0h0m1 0h0m1 0h0m1 0h0m7 0h0m1 0h0m2 0h0m2 0h0m1 0h0m-69 1h0m1 0h0m1 0h0m1 0h0m1 0h0m1 0h0m1 0h0m1 0h0m1 0h0m1 0h0m1 0h0m1 0h0m1 0h0m1 0h0m1 0h0m1 0h0m1 0h0m1 0h0m1 0h0m1 0h0m1 0h0m1 0h0m1 0h0m1 0h0m1 0h0m1 0h0m1 0h0m1 0h0m1 0h0m1 0h0m1 0h0m1 0h0m1 0h0m1 0h0m1 0h0m1 0h0m1 0h0m1 0h0m1 0h0m1 0h0m1 0h0m1 0h0m1 0h0m1 0h0m1 0h0m1 0h0m1 0h0m1 0h0m1 0h0m1 0h0m1 0h0m1 0h0m3 0h0m1 0h0m1 0h0m1 0h0m1 0h0m4 0h0m1 0h0m3 0h0m1 0h0m18 0h0m-85 1h0m1 0h0m1 0h0m1 0h0m1 0h0m1 0h0m1 0h0m1 0h0m1 0h0m1 0h0m1 0h0m1 0h0m1 0h0m1 0h0m1 0h0m1 0h0m1 0h0m1 0h0m1 0h0m1 0h0m1 0h0m1 0h0m1 0h0m1 0h0m1 0h0m1 0h0m1 0h0m1 0h0m1 0h0m1 0h0m1 0h0m1 0h0m1 0h0m1 0h0m1 0h0m1 0h0m1 0h0m1 0h0m1 0h0m1 0h0m1 0h0m1 0h0m1 0h0m1 0h0m1 0h0m1 0h0m1 0h0m1 0h0m2 0h0m1 0h0m1 0h0m1 0h0m1 0h0m3 0h0m1 0h0m2 0h0m4 0h0m1 0h0m14 0h0m4 0h0m3 0h0m-85 1h0m1 0h0m1 0h0m1 0h0m1 0h0m1 0h0m1 0h0m1 0h0m1 0h0m1 0h0m1 0h0m1 0h0m1 0h0m1 0h0m1 0h0m1 0h0m1 0h0m1 0h0m1 0h0m1 0h0m1 0h0m1 0h0m1 0h0m1 0h0m1 0h0m1 0h0m1 0h0m1 0h0m1 0h0m1 0h0m1 0h0m1 0h0m1 0h0m1 0h0m1 0h0m1 0h0m1 0h0m1 0h0m1 0h0m1 0h0m1 0h0m1 0h0m1 0h0m1 0h0m1 0h0m1 0h0m1 0h0m1 0h0m1 0h0m1 0h0m1 0h0m2 0h0m2 0h0m3 0h0m3 0h0m1 0h0m3 0h0m2 0h0m16 0h0m-82 1h0m1 0h0m1 0h0m1 0h0m1 0h0m1 0h0m1 0h0m1 0h0m1 0h0m1 0h0m1 0h0m1 0h0m1 0h0m1 0h0m1 0h0m1 0h0m1 0h0m1 0h0m1 0h0m1 0h0m1 0h0m1 0h0m1 0h0m1 0h0m1 0h0m1 0h0m1 0h0m1 0h0m1 0h0m1 0h0m1 0h0m1 0h0m1 0h0m1 0h0m1 0h0m1 0h0m1 0h0m1 0h0m1 0h0m1 0h0m1 0h0m1 0h0m1 0h0m1 0h0m1 0h0m1 0h0m1 0h0m1 0h0m1 0h0m1 0h0m1 0h0m1 0h0m1 0h0m1 0h0m1 0h0m1 0h0m1 0h0m2 0h0m2 0h0m1 0h0m1 0h0m2 0h0m1 0h0m1 0h0m15 0h0m-81 1h0m1 0h0m1 0h0m1 0h0m1 0h0m1 0h0m1 0h0m1 0h0m1 0h0m1 0h0m1 0h0m1 0h0m1 0h0m1 0h0m1 0h0m1 0h0m1 0h0m1 0h0m1 0h0m1 0h0m1 0h0m1 0h0m1 0h0m1 0h0m1 0h0m1 0h0m1 0h0m1 0h0m1 0h0m1 0h0m1 0h0m1 0h0m1 0h0m1 0h0m1 0h0m1 0h0m1 0h0m1 0h0m1 0h0m1 0h0m1 0h0m1 0h0m1 0h0m1 0h0m1 0h0m1 0h0m1 0h0m1 0h0m1 0h0m1 0h0m1 0h0m1 0h0m1 0h0m1 0h0m2 0h0m4 0h0m2 0h0m3 0h0m1 0h0m1 0h0m3 0h0m1 0h0m1 0h0m1 0h0m8 0h0m-80 1h0m1 0h0m1 0h0m1 0h0m1 0h0m1 0h0m1 0h0m1 0h0m1 0h0m1 0h0m1 0h0m1 0h0m1 0h0m1 0h0m1 0h0m1 0h0m1 0h0m1 0h0m1 0h0m1 0h0m1 0h0m1 0h0m1 0h0m1 0h0m1 0h0m1 0h0m1 0h0m1 0h0m1 0h0m1 0h0m1 0h0m1 0h0m1 0h0m1 0h0m1 0h0m1 0h0m1 0h0m1 0h0m1 0h0m1 0h0m1 0h0m1 0h0m1 0h0m1 0h0m1 0h0m1 0h0m1 0h0m1 0h0m1 0h0m1 0h0m1 0h0m1 0h0m1 0h0m1 0h0m1 0h0m1 0h0m1 0h0m2 0h0m1 0h0m2 0h0m1 0h0m1 0h0m5 0h0m2 0h0m1 0h0m8 0h0m14 0h0m4 0h0m-97 1h0m1 0h0m1 0h0m1 0h0m1 0h0m1 0h0m1 0h0m1 0h0m1 0h0m1 0h0m1 0h0m1 0h0m1 0h0m1 0h0m1 0h0m1 0h0m1 0h0m1 0h0m1 0h0m1 0h0m1 0h0m1 0h0m1 0h0m1 0h0m1 0h0m1 0h0m1 0h0m1 0h0m1 0h0m1 0h0m1 0h0m1 0h0m1 0h0m1 0h0m1 0h0m1 0h0m1 0h0m1 0h0m1 0h0m1 0h0m1 0h0m1 0h0m1 0h0m1 0h0m1 0h0m1 0h0m1 0h0m1 0h0m1 0h0m1 0h0m1 0h0m1 0h0m1 0h0m1 0h0m1 0h0m1 0h0m1 0h0m3 0h0m3 0h0m2 0h0m1 0h0m1 0h0m1 0h0m2 0h0m3 0h0m3 0h0m1 0h0m1 0h0m1 0h0m1 0h0m-79 1h0m1 0h0m1 0h0m1 0h0m1 0h0m1 0h0m1 0h0m1 0h0m1 0h0m1 0h0m1 0h0m1 0h0m1 0h0m1 0h0m1 0h0m1 0h0m1 0h0m1 0h0m1 0h0m1 0h0m1 0h0m1 0h0m1 0h0m1 0h0m1 0h0m1 0h0m1 0h0m1 0h0m1 0h0m1 0h0m1 0h0m1 0h0m1 0h0m1 0h0m1 0h0m1 0h0m1 0h0m1 0h0m1 0h0m1 0h0m1 0h0m1 0h0m1 0h0m1 0h0m1 0h0m1 0h0m1 0h0m1 0h0m1 0h0m1 0h0m1 0h0m1 0h0m1 0h0m1 0h0m1 0h0m4 0h0m1 0h0m2 0h0m1 0h0m1 0h0m1 0h0m2 0h0m1 0h0m2 0h0m1 0h0m2 0h0m4 0h0m9 0h0m3 0h0m11 0h0m1 0h0m-100 1h0m1 0h0m1 0h0m1 0h0m1 0h0m1 0h0m1 0h0m1 0h0m1 0h0m1 0h0m1 0h0m1 0h0m1 0h0m1 0h0m1 0h0m1 0h0m1 0h0m1 0h0m1 0h0m1 0h0m1 0h0m1 0h0m1 0h0m1 0h0m1 0h0m1 0h0m1 0h0m1 0h0m1 0h0m1 0h0m1 0h0m1 0h0m1 0h0m1 0h0m1 0h0m1 0h0m1 0h0m1 0h0m1 0h0m1 0h0m1 0h0m1 0h0m1 0h0m1 0h0m1 0h0m1 0h0m1 0h0m1 0h0m1 0h0m1 0h0m1 0h0m3 0h0m1 0h0m1 0h0m1 0h0m3 0h0m1 0h0m1 0h0m2 0h0m3 0h0m1 0h0m4 0h0m1 0h0m4 0h0m12 0h0m1 0h0m-89 1h0m1 0h0m1 0h0m1 0h0m1 0h0m1 0h0m1 0h0m1 0h0m1 0h0m1 0h0m1 0h0m1 0h0m1 0h0m1 0h0m1 0h0m1 0h0m1 0h0m1 0h0m1 0h0m1 0h0m1 0h0m1 0h0m1 0h0m1 0h0m1 0h0m1 0h0m1 0h0m1 0h0m1 0h0m1 0h0m1 0h0m1 0h0m1 0h0m1 0h0m1 0h0m1 0h0m1 0h0m1 0h0m1 0h0m1 0h0m1 0h0m1 0h0m1 0h0m1 0h0m1 0h0m1 0h0m1 0h0m1 0h0m1 0h0m1 0h0m1 0h0m1 0h0m1 0h0m2 0h0m1 0h0m2 0h0m1 0h0m1 0h0m3 0h0m3 0h0m1 0h0m1 0h0m1 0h0m3 0h0m-71 1h0m1 0h0m1 0h0m1 0h0m1 0h0m1 0h0m1 0h0m1 0h0m1 0h0m1 0h0m1 0h0m1 0h0m1 0h0m1 0h0m1 0h0m1 0h0m1 0h0m1 0h0m1 0h0m1 0h0m1 0h0m1 0h0m1 0h0m1 0h0m1 0h0m1 0h0m1 0h0m1 0h0m1 0h0m1 0h0m1 0h0m1 0h0m1 0h0m1 0h0m1 0h0m1 0h0m1 0h0m1 0h0m1 0h0m1 0h0m1 0h0m1 0h0m1 0h0m1 0h0m1 0h0m1 0h0m1 0h0m1 0h0m1 0h0m1 0h0m1 0h0m1 0h0m2 0h0m1 0h0m1 0h0m1 0h0m1 0h0m2 0h0m2 0h0m1 0h0m3 0h0m1 0h0m1 0h0m1 0h0m2 0h0m1 0h0m9 0h0m-80 1h0m1 0h0m1 0h0m1 0h0m2 0h0m1 0h0m1 0h0m1 0h0m1 0h0m1 0h0m1 0h0m1 0h0m1 0h0m1 0h0m1 0h0m1 0h0m1 0h0m1 0h0m1 0h0m1 0h0m1 0h0m1 0h0m1 0h0m1 0h0m1 0h0m1 0h0m1 0h0m1 0h0m1 0h0m1 0h0m1 0h0m1 0h0m1 0h0m1 0h0m1 0h0m1 0h0m1 0h0m1 0h0m1 0h0m1 0h0m1 0h0m1 0h0m1 0h0m1 0h0m1 0h0m1 0h0m1 0h0m1 0h0m1 0h0m1 0h0m1 0h0m1 0h0m2 0h0m1 0h0m1 0h0m3 0h0m2 0h0m4 0h0m9 0h0m19 0h0m6 0h0m-99 1h0m1 0h0m1 0h0m1 0h0m1 0h0m1 0h0m1 0h0m1 0h0m1 0h0m1 0h0m1 0h0m1 0h0m1 0h0m1 0h0m1 0h0m1 0h0m1 0h0m1 0h0m1 0h0m1 0h0m1 0h0m1 0h0m1 0h0m1 0h0m1 0h0m1 0h0m1 0h0m1 0h0m1 0h0m1 0h0m1 0h0m1 0h0m1 0h0m1 0h0m1 0h0m1 0h0m1 0h0m1 0h0m1 0h0m1 0h0m1 0h0m1 0h0m1 0h0m1 0h0m1 0h0m1 0h0m1 0h0m1 0h0m1 0h0m1 0h0m2 0h0m1 0h0m1 0h0m1 0h0m1 0h0m2 0h0m2 0h0m1 0h0m1 0h0m1 0h0m4 0h0m1 0h0m1 0h0m20 0h0m6 0h0m4 0h0m2 0h0m1 0h0m-101 1h0m1 0h0m1 0h0m1 0h0m1 0h0m1 0h0m1 0h0m1 0h0m1 0h0m1 0h0m1 0h0m1 0h0m1 0h0m1 0h0m1 0h0m1 0h0m1 0h0m1 0h0m1 0h0m1 0h0m1 0h0m1 0h0m1 0h0m1 0h0m1 0h0m1 0h0m1 0h0m1 0h0m1 0h0m1 0h0m1 0h0m1 0h0m1 0h0m1 0h0m1 0h0m1 0h0m1 0h0m1 0h0m1 0h0m1 0h0m1 0h0m1 0h0m1 0h0m1 0h0m1 0h0m1 0h0m1 0h0m1 0h0m1 0h0m1 0h0m1 0h0m1 0h0m1 0h0m1 0h0m1 0h0m1 0h0m1 0h0m2 0h0m1 0h0m1 0h0m4 0h0m1 0h0m1 0h0m1 0h0m19 0h0m1 0h0m2 0h0m9 0h0m1 0h0m1 0h0m4 0h0m1 0h0m-105 1h0m1 0h0m1 0h0m1 0h0m1 0h0m1 0h0m1 0h0m1 0h0m1 0h0m1 0h0m1 0h0m1 0h0m1 0h0m1 0h0m1 0h0m1 0h0m1 0h0m1 0h0m1 0h0m1 0h0m1 0h0m1 0h0m1 0h0m1 0h0m1 0h0m1 0h0m1 0h0m1 0h0m1 0h0m1 0h0m1 0h0m1 0h0m1 0h0m1 0h0m1 0h0m1 0h0m1 0h0m1 0h0m1 0h0m1 0h0m1 0h0m1 0h0m1 0h0m1 0h0m1 0h0m1 0h0m1 0h0m1 0h0m2 0h0m3 0h0m1 0h0m1 0h0m1 0h0m1 0h0m2 0h0m2 0h0m5 0h0m2 0h0m20 0h0m3 0h0m8 0h0m7 0h0m1 0h0m-106 1h0m1 0h0m1 0h0m1 0h0m1 0h0m1 0h0m1 0h0m2 0h0m1 0h0m1 0h0m1 0h0m1 0h0m1 0h0m1 0h0m1 0h0m1 0h0m1 0h0m1 0h0m1 0h0m1 0h0m1 0h0m1 0h0m1 0h0m1 0h0m1 0h0m1 0h0m1 0h0m1 0h0m1 0h0m1 0h0m1 0h0m1 0h0m1 0h0m1 0h0m1 0h0m1 0h0m1 0h0m1 0h0m1 0h0m1 0h0m1 0h0m2 0h0m1 0h0m1 0h0m1 0h0m1 0h0m1 0h0m1 0h0m2 0h0m2 0h0m2 0h0m1 0h0m2 0h0m1 0h0m1 0h0m1 0h0m4 0h0m1 0h0m1 0h0m19 0h0m1 0h0m4 0h0m1 0h0m14 0h0m-106 1h0m1 0h0m1 0h0m1 0h0m1 0h0m1 0h0m1 0h0m1 0h0m1 0h0m1 0h0m1 0h0m1 0h0m1 0h0m1 0h0m1 0h0m1 0h0m1 0h0m1 0h0m1 0h0m1 0h0m1 0h0m1 0h0m1 0h0m1 0h0m1 0h0m1 0h0m1 0h0m1 0h0m1 0h0m1 0h0m1 0h0m1 0h0m1 0h0m1 0h0m1 0h0m1 0h0m1 0h0m1 0h0m1 0h0m1 0h0m1 0h0m1 0h0m1 0h0m1 0h0m1 0h0m1 0h0m1 0h0m1 0h0m1 0h0m2 0h0m5 0h0m1 0h0m1 0h0m1 0h0m1 0h0m1 0h0m5 0h0m2 0h0m15 0h0m5 0h0m22 0h0m-109 1h0m1 0h0m1 0h0m1 0h0m1 0h0m1 0h0m1 0h0m1 0h0m1 0h0m1 0h0m1 0h0m1 0h0m1 0h0m1 0h0m1 0h0m1 0h0m1 0h0m1 0h0m1 0h0m1 0h0m1 0h0m1 0h0m1 0h0m1 0h0m1 0h0m1 0h0m1 0h0m1 0h0m1 0h0m1 0h0m1 0h0m1 0h0m1 0h0m1 0h0m1 0h0m1 0h0m1 0h0m1 0h0m1 0h0m1 0h0m1 0h0m1 0h0m1 0h0m1 0h0m1 0h0m1 0h0m1 0h0m1 0h0m1 0h0m1 0h0m1 0h0m1 0h0m1 0h0m2 0h0m1 0h0m2 0h0m1 0h0m2 0h0m14 0h0m21 0h0m13 0h0m-108 1h0m1 0h0m1 0h0m2 0h0m2 0h0m1 0h0m1 0h0m1 0h0m1 0h0m1 0h0m1 0h0m2 0h0m1 0h0m1 0h0m1 0h0m1 0h0m1 0h0m1 0h0m1 0h0m1 0h0m1 0h0m1 0h0m1 0h0m1 0h0m1 0h0m1 0h0m1 0h0m1 0h0m1 0h0m1 0h0m1 0h0m1 0h0m1 0h0m1 0h0m1 0h0m1 0h0m1 0h0m1 0h0m1 0h0m1 0h0m1 0h0m1 0h0m1 0h0m1 0h0m1 0h0m2 0h0m1 0h0m2 0h0m1 0h0m1 0h0m5 0h0m1 0h0m1 0h0m2 0h0m1 0h0m1 0h0m8 0h0m5 0h0m16 0h0m14 0h0m-108 1h0m1 0h0m2 0h0m1 0h0m2 0h0m1 0h0m1 0h0m1 0h0m2 0h0m1 0h0m1 0h0m1 0h0m1 0h0m1 0h0m1 0h0m1 0h0m1 0h0m1 0h0m1 0h0m1 0h0m1 0h0m1 0h0m1 0h0m1 0h0m1 0h0m1 0h0m1 0h0m1 0h0m1 0h0m1 0h0m2 0h0m1 0h0m1 0h0m1 0h0m1 0h0m1 0h0m1 0h0m1 0h0m1 0h0m1 0h0m1 0h0m2 0h0m1 0h0m1 0h0m4 0h0m2 0h0m3 0h0m1 0h0m1 0h0m1 0h0m2 0h0m7 0h0m10 0h0m16 0h0m1 0h0m23 0h0m-119 1h0m1 0h0m1 0h0m1 0h0m2 0h0m1 0h0m1 0h0m1 0h0m1 0h0m1 0h0m1 0h0m1 0h0m1 0h0m1 0h0m1 0h0m1 0h0m1 0h0m1 0h0m1 0h0m1 0h0m1 0h0m1 0h0m1 0h0m1 0h0m1 0h0m1 0h0m1 0h0m1 0h0m1 0h0m1 0h0m1 0h0m1 0h0m1 0h0m1 0h0m1 0h0m2 0h0m1 0h0m1 0h0m1 0h0m2 0h0m1 0h0m1 0h0m1 0h0m1 0h0m1 0h0m1 0h0m1 0h0m1 0h0m1 0h0m1 0h0m1 0h0m1 0h0m5 0h0m1 0h0m35 0h0m-95 1h0m1 0h0m1 0h0m1 0h0m1 0h0m1 0h0m1 0h0m1 0h0m1 0h0m1 0h0m1 0h0m1 0h0m1 0h0m1 0h0m1 0h0m1 0h0m1 0h0m1 0h0m1 0h0m1 0h0m1 0h0m1 0h0m1 0h0m1 0h0m1 0h0m1 0h0m1 0h0m1 0h0m1 0h0m1 0h0m1 0h0m1 0h0m1 0h0m1 0h0m1 0h0m1 0h0m1 0h0m1 0h0m1 0h0m1 0h0m1 0h0m1 0h0m1 0h0m1 0h0m2 0h0m1 0h0m2 0h0m1 0h0m3 0h0m1 0h0m1 0h0m7 0h0m1 0h0m2 0h0m-64 1h0m1 0h0m1 0h0m1 0h0m1 0h0m1 0h0m1 0h0m2 0h0m2 0h0m2 0h0m1 0h0m1 0h0m1 0h0m1 0h0m1 0h0m1 0h0m1 0h0m1 0h0m1 0h0m1 0h0m1 0h0m1 0h0m1 0h0m1 0h0m1 0h0m1 0h0m1 0h0m1 0h0m1 0h0m1 0h0m1 0h0m1 0h0m1 0h0m1 0h0m1 0h0m2 0h0m1 0h0m1 0h0m1 0h0m1 0h0m1 0h0m2 0h0m1 0h0m1 0h0m1 0h0m1 0h0m3 0h0m5 0h0m1 0h0m1 0h0m2 0h0m1 0h0m1 0h0m-64 1h0m2 0h0m2 0h0m1 0h0m1 0h0m1 0h0m1 0h0m1 0h0m1 0h0m1 0h0m1 0h0m1 0h0m1 0h0m1 0h0m1 0h0m1 0h0m1 0h0m1 0h0m1 0h0m1 0h0m1 0h0m1 0h0m1 0h0m1 0h0m1 0h0m1 0h0m1 0h0m1 0h0m1 0h0m1 0h0m1 0h0m1 0h0m1 0h0m1 0h0m1 0h0m1 0h0m1 0h0m1 0h0m1 0h0m1 0h0m1 0h0m1 0h0m1 0h0m2 0h0m3 0h0m5 0h0m2 0h0m2 0h0m4 0h0m2 0h0m-64 1h0m1 0h0m1 0h0m1 0h0m2 0h0m1 0h0m1 0h0m1 0h0m1 0h0m1 0h0m1 0h0m1 0h0m1 0h0m1 0h0m1 0h0m1 0h0m1 0h0m1 0h0m1 0h0m1 0h0m1 0h0m1 0h0m1 0h0m1 0h0m1 0h0m1 0h0m1 0h0m1 0h0m1 0h0m2 0h0m1 0h0m1 0h0m1 0h0m1 0h0m1 0h0m1 0h0m1 0h0m1 0h0m1 0h0m1 0h0m1 0h0m1 0h0m1 0h0m2 0h0m1 0h0m2 0h0m4 0h0m2 0h0m2 0h0m10 0h0m13 0h0m-80 1h0m1 0h0m1 0h0m1 0h0m1 0h0m3 0h0m3 0h0m1 0h0m2 0h0m1 0h0m1 0h0m1 0h0m1 0h0m1 0h0m1 0h0m1 0h0m1 0h0m1 0h0m1 0h0m1 0h0m1 0h0m1 0h0m1 0h0m1 0h0m1 0h0m1 0h0m1 0h0m1 0h0m1 0h0m1 0h0m1 0h0m1 0h0m1 0h0m1 0h0m1 0h0m1 0h0m1 0h0m1 0h0m1 0h0m1 0h0m1 0h0m3 0h0m2 0h0m3 0h0m1 0h0m3 0h0m9 0h0m-66 1h0m1 0h0m2 0h0m2 0h0m3 0h0m1 0h0m2 0h0m3 0h0m1 0h0m1 0h0m1 0h0m1 0h0m1 0h0m1 0h0m1 0h0m1 0h0m1 0h0m1 0h0m1 0h0m1 0h0m1 0h0m1 0h0m1 0h0m1 0h0m1 0h0m1 0h0m1 0h0m1 0h0m1 0h0m1 0h0m1 0h0m1 0h0m1 0h0m1 0h0m1 0h0m2 0h0m1 0h0m1 0h0m1 0h0m1 0h0m3 0h0m1 0h0m2 0h0m1 0h0m4 0h0m6 0h0m2 0h0m-66 1h0m1 0h0m2 0h0m1 0h0m1 0h0m1 0h0m1 0h0m1 0h0m1 0h0m2 0h0m1 0h0m1 0h0m1 0h0m1 0h0m2 0h0m1 0h0m1 0h0m1 0h0m1 0h0m1 0h0m1 0h0m1 0h0m1 0h0m1 0h0m1 0h0m1 0h0m1 0h0m1 0h0m1 0h0m1 0h0m1 0h0m1 0h0m1 0h0m1 0h0m1 0h0m1 0h0m1 0h0m3 0h0m1 0h0m1 0h0m1 0h0m2 0h0m1 0h0m1 0h0m5 0h0m11 0h0m-65 1h0m1 0h0m1 0h0m1 0h0m2 0h0m2 0h0m3 0h0m1 0h0m1 0h0m1 0h0m1 0h0m1 0h0m1 0h0m1 0h0m1 0h0m1 0h0m1 0h0m1 0h0m1 0h0m1 0h0m2 0h0m1 0h0m1 0h0m1 0h0m1 0h0m1 0h0m1 0h0m1 0h0m1 0h0m1 0h0m1 0h0m1 0h0m1 0h0m1 0h0m1 0h0m1 0h0m1 0h0m1 0h0m1 0h0m1 0h0m1 0h0m2 0h0m1 0h0m1 0h0m1 0h0m-50 1h0m1 0h0m1 0h0m7 0h0m1 0h0m1 0h0m1 0h0m1 0h0m1 0h0m1 0h0m1 0h0m1 0h0m1 0h0m1 0h0m1 0h0m1 0h0m1 0h0m1 0h0m1 0h0m1 0h0m1 0h0m1 0h0m1 0h0m1 0h0m1 0h0m1 0h0m1 0h0m1 0h0m1 0h0m1 0h0m1 0h0m1 0h0m1 0h0m1 0h0m2 0h0m1 0h0m4 0h0m1 0h0m-47 1h0m5 0h0m3 0h0m2 0h0m1 0h0m1 0h0m1 0h0m1 0h0m1 0h0m1 0h0m1 0h0m1 0h0m1 0h0m1 0h0m1 0h0m1 0h0m1 0h0m1 0h0m1 0h0m1 0h0m1 0h0m1 0h0m1 0h0m1 0h0m1 0h0m1 0h0m1 0h0m1 0h0m1 0h0m1 0h0m1 0h0m1 0h0m1 0h0m1 0h0m1 0h0m1 0h0m3 0h0m1 0h0m1 0h0m1 0h0m1 0h0m8 0h0m-57 1h0m1 0h0m3 0h0m1 0h0m1 0h0m5 0h0m1 0h0m1 0h0m1 0h0m2 0h0m1 0h0m1 0h0m1 0h0m1 0h0m1 0h0m1 0h0m1 0h0m1 0h0m1 0h0m1 0h0m1 0h0m1 0h0m1 0h0m1 0h0m1 0h0m1 0h0m1 0h0m1 0h0m1 0h0m1 0h0m1 0h0m1 0h0m1 0h0m2 0h0m1 0h0m1 0h0m6 0h0m3 0h0m1 0h0m1 0h0m2 0h0m1 0h0m1 0h0m-58 1h0m6 0h0m4 0h0m1 0h0m1 0h0m1 0h0m2 0h0m1 0h0m1 0h0m1 0h0m2 0h0m1 0h0m1 0h0m1 0h0m2 0h0m1 0h0m1 0h0m1 0h0m1 0h0m1 0h0m1 0h0m1 0h0m1 0h0m1 0h0m1 0h0m1 0h0m1 0h0m3 0h0m1 0h0m1 0h0m2 0h0m6 0h0m1 0h0m2 0h0m3 0h0m1 0h0m-56 1h0m3 0h0m1 0h0m2 0h0m1 0h0m4 0h0m2 0h0m1 0h0m2 0h0m1 0h0m1 0h0m1 0h0m1 0h0m1 0h0m1 0h0m1 0h0m2 0h0m1 0h0m1 0h0m1 0h0m1 0h0m1 0h0m1 0h0m1 0h0m1 0h0m1 0h0m2 0h0m1 0h0m1 0h0m1 0h0m1 0h0m1 0h0m1 0h0m1 0h0m1 0h0m3 0h0m9 0h0m32 0h0m-89 1h0m1 0h0m3 0h0m1 0h0m3 0h0m1 0h0m1 0h0m3 0h0m1 0h0m1 0h0m1 0h0m2 0h0m1 0h0m1 0h0m1 0h0m2 0h0m1 0h0m1 0h0m1 0h0m1 0h0m1 0h0m1 0h0m1 0h0m1 0h0m1 0h0m1 0h0m1 0h0m1 0h0m1 0h0m1 0h0m2 0h0m1 0h0m5 0h0m2 0h0m1 0h0m1 0h0m5 0h0m10 0h0m-64 1h0m4 0h0m6 0h0m4 0h0m1 0h0m1 0h0m1 0h0m1 0h0m1 0h0m1 0h0m2 0h0m1 0h0m1 0h0m1 0h0m1 0h0m1 0h0m1 0h0m1 0h0m1 0h0m1 0h0m2 0h0m1 0h0m2 0h0m1 0h0m1 0h0m1 0h0m1 0h0m5 0h0m1 0h0m4 0h0m1 0h0m1 0h0m1 0h0m2 0h0m-47 1h0m1 0h0m3 0h0m1 0h0m2 0h0m2 0h0m1 0h0m1 0h0m1 0h0m1 0h0m1 0h0m1 0h0m1 0h0m1 0h0m1 0h0m1 0h0m1 0h0m1 0h0m1 0h0m1 0h0m1 0h0m1 0h0m1 0h0m1 0h0m1 0h0m2 0h0m1 0h0m1 0h0m1 0h0m3 0h0m1 0h0m2 0h0m7 0h0m-47 1h0m1 0h0m1 0h0m3 0h0m1 0h0m1 0h0m2 0h0m1 0h0m2 0h0m2 0h0m1 0h0m1 0h0m1 0h0m1 0h0m1 0h0m1 0h0m1 0h0m1 0h0m1 0h0m1 0h0m1 0h0m1 0h0m1 0h0m2 0h0m1 0h0m1 0h0m1 0h0m2 0h0m1 0h0m1 0h0m1 0h0m2 0h0m2 0h0m-48 1h0m8 0h0m4 0h0m2 0h0m1 0h0m1 0h0m1 0h0m2 0h0m2 0h0m1 0h0m1 0h0m2 0h0m1 0h0m1 0h0m1 0h0m1 0h0m1 0h0m1 0h0m1 0h0m1 0h0m1 0h0m1 0h0m1 0h0m1 0h0m2 0h0m1 0h0m1 0h0m2 0h0m3 0h0m2 0h0m-48 1h0m13 0h0m1 0h0m2 0h0m3 0h0m1 0h0m1 0h0m1 0h0m1 0h0m1 0h0m1 0h0m1 0h0m1 0h0m1 0h0m1 0h0m1 0h0m2 0h0m1 0h0m1 0h0m3 0h0m1 0h0m1 0h0m2 0h0m-32 1h0m1 0h0m1 0h0m1 0h0m2 0h0m1 0h0m1 0h0m2 0h0m1 0h0m1 0h0m1 0h0m2 0h0m2 0h0m1 0h0m3 0h0m2 0h0m1 0h0m1 0h0m1 0h0m1 0h0m1 0h0m1 0h0m1 0h0m1 0h0m-31 1h0m1 0h0m2 0h0m1 0h0m2 0h0m2 0h0m2 0h0m2 0h0m1 0h0m1 0h0m1 0h0m1 0h0m1 0h0m1 0h0m1 0h0m1 0h0m1 0h0m1 0h0m1 0h0m2 0h0m1 0h0m1 0h0m1 0h0m1 0h0m1 0h0m1 0h0m1 0h0m22 0h0m-54 1h0m1 0h0m1 0h0m3 0h0m1 0h0m1 0h0m3 0h0m2 0h0m1 0h0m3 0h0m2 0h0m1 0h0m1 0h0m1 0h0m1 0h0m1 0h0m1 0h0m1 0h0m1 0h0m1 0h0m1 0h0m2 0h0m2 0h0m1 0h0m-32 1h0m1 0h0m1 0h0m3 0h0m1 0h0m1 0h0m1 0h0m1 0h0m1 0h0m1 0h0m1 0h0m2 0h0m1 0h0m1 0h0m1 0h0m1 0h0m2 0h0m1 0h0m1 0h0m1 0h0m1 0h0m1 0h0m1 0h0m2 0h0m2 0h0m1 0h0m1 0h0m-32 1h0m3 0h0m1 0h0m3 0h0m1 0h0m1 0h0m1 0h0m1 0h0m3 0h0m1 0h0m1 0h0m1 0h0m1 0h0m2 0h0m1 0h0m1 0h0m1 0h0m1 0h0m1 0h0m1 0h0m1 0h0m2 0h0m1 0h0m1 0h0m2 0h0m-34 1h0m3 0h0m4 0h0m1 0h0m1 0h0m1 0h0m1 0h0m1 0h0m1 0h0m1 0h0m1 0h0m2 0h0m1 0h0m1 0h0m1 0h0m1 0h0m1 0h0m1 0h0m2 0h0m1 0h0m2 0h0m1 0h0m1 0h0m3 0h0m-32 1h0m1 0h0m1 0h0m2 0h0m4 0h0m1 0h0m1 0h0m1 0h0m1 0h0m2 0h0m1 0h0m1 0h0m1 0h0m2 0h0m1 0h0m1 0h0m1 0h0m2 0h0m1 0h0m1 0h0m1 0h0m1 0h0m1 0h0m3 0h0m1 0h0m3 0h0m-33 1h0m1 0h0m1 0h0m1 0h0m1 0h0m1 0h0m1 0h0m1 0h0m1 0h0m1 0h0m1 0h0m1 0h0m1 0h0m1 0h0m1 0h0m1 0h0m1 0h0m2 0h0m1 0h0m1 0h0m1 0h0m1 0h0m1 0h0m1 0h0m1 0h0m1 0h0m1 0h0m3 0h0m1 0h0m1 0h0m1 0h0m48 0h0m-83 1h0m2 0h0m2 0h0m2 0h0m1 0h0m1 0h0m1 0h0m1 0h0m1 0h0m1 0h0m1 0h0m1 0h0m1 0h0m1 0h0m1 0h0m1 0h0m1 0h0m1 0h0m1 0h0m1 0h0m1 0h0m2 0h0m1 0h0m2 0h0m1 0h0m3 0h0m1 0h0m1 0h0m-35 1h0m2 0h0m2 0h0m1 0h0m2 0h0m3 0h0m1 0h0m1 0h0m2 0h0m1 0h0m3 0h0m1 0h0m1 0h0m1 0h0m1 0h0m1 0h0m1 0h0m1 0h0m2 0h0m1 0h0m7 0h0m-36 1h0m2 0h0m3 0h0m1 0h0m2 0h0m1 0h0m1 0h0m1 0h0m1 0h0m1 0h0m2 0h0m1 0h0m1 0h0m1 0h0m1 0h0m1 0h0m1 0h0m1 0h0m1 0h0m3 0h0m1 0h0m1 0h0m1 0h0m1 0h0m5 0h0m1 0h0m1 0h0m-28 1h0m2 0h0m1 0h0m1 0h0m1 0h0m1 0h0m1 0h0m2 0h0m1 0h0m1 0h0m1 0h0m1 0h0m3 0h0m1 0h0m2 0h0m1 0h0m1 0h0m1 0h0m3 0h0m5 0h0m-37 1h0m4 0h0m1 0h0m2 0h0m1 0h0m2 0h0m1 0h0m2 0h0m1 0h0m1 0h0m1 0h0m3 0h0m1 0h0m3 0h0m1 0h0m2 0h0m1 0h0m1 0h0m2 0h0m3 0h0m5 0h0m-39 1h0m1 0h0m1 0h0m4 0h0m2 0h0m1 0h0m1 0h0m2 0h0m1 0h0m1 0h0m1 0h0m1 0h0m1 0h0m1 0h0m1 0h0m1 0h0m1 0h0m1 0h0m1 0h0m2 0h0m2 0h0m2 0h0m1 0h0m3 0h0m-26 1h0m1 0h0m3 0h0m1 0h0m1 0h0m1 0h0m1 0h0m1 0h0m3 0h0m2 0h0m1 0h0m1 0h0m1 0h0m1 0h0m6 0h0m1 0h0m2 0h0m-29 1h0m1 0h0m1 0h0m1 0h0m3 0h0m1 0h0m2 0h0m1 0h0m1 0h0m1 0h0m1 0h0m1 0h0m1 0h0m2 0h0m2 0h0m1 0h0m1 0h0m1 0h0m1 0h0m1 0h0m6 0h0m-31 1h0m2 0h0m1 0h0m1 0h0m2 0h0m1 0h0m2 0h0m1 0h0m1 0h0m1 0h0m1 0h0m1 0h0m1 0h0m1 0h0m1 0h0m1 0h0m1 0h0m1 0h0m1 0h0m1 0h0m2 0h0m1 0h0m3 0h0m2 0h0m1 0h0m-33 1h0m1 0h0m3 0h0m1 0h0m1 0h0m1 0h0m1 0h0m1 0h0m2 0h0m1 0h0m2 0h0m1 0h0m1 0h0m1 0h0m2 0h0m1 0h0m1 0h0m1 0h0m2 0h0m1 0h0m2 0h0m3 0h0m1 0h0m1 0h0m-32 1h0m1 0h0m1 0h0m1 0h0m1 0h0m4 0h0m1 0h0m1 0h0m1 0h0m1 0h0m1 0h0m1 0h0m1 0h0m1 0h0m1 0h0m1 0h0m13 0h0m-31 1h0m6 0h0m1 0h0m2 0h0m1 0h0m3 0h0m2 0h0m1 0h0m1 0h0m1 0h0m2 0h0m1 0h0m3 0h0m1 0h0m1 0h0m9 0h0m-35 1h0m4 0h0m1 0h0m1 0h0m3 0h0m2 0h0m1 0h0m1 0h0m1 0h0m2 0h0m2 0h0m1 0h0m2 0h0m1 0h0m2 0h0m5 0h0m1 0h0m-29 1h0m1 0h0m3 0h0m1 0h0m1 0h0m3 0h0m1 0h0m2 0h0m1 0h0m1 0h0m1 0h0m3 0h0m2 0h0m1 0h0m1 0h0m1 0h0m4 0h0m1 0h0m-28 1h0m1 0h0m4 0h0m1 0h0m1 0h0m1 0h0m1 0h0m3 0h0m2 0h0m1 0h0m3 0h0m2 0h0m1 0h0m1 0h0m1 0h0m-21 1h0m5 0h0m2 0h0m1 0h0m2 0h0m1 0h0m6 0h0m1 0h0m1 0h0m2 0h0m1 0h0m-22 1h0m4 0h0m2 0h0m1 0h0m2 0h0m8 0h0m2 0h0m1 0h0m2 0h0m1 0h0m-28 1h0m3 0h0m1 0h0m2 0h0m1 0h0m3 0h0m1 0h0m3 0h0m1 0h0m3 0h0m1 0h0m1 0h0m1 0h0m4 0h0m2 0h0m-23 1h0m1 0h0m3 0h0m1 0h0m4 0h0m2 0h0m2 0h0m2 0h0m1 0h0m2 0h0m1 0h0m-12 1h0m1 0h0m1 0h0m2 0h0m1 0h0m1 0h0m2 0h0m1 0h0m2 0h0m1 0h0m-13 1h0m1 0h0m1 0h0m1 0h0m5 0h0m2 0h0m2 0h0m9 0h0m-12 1h0m1 0h0m12 0h0m-12 1h0m3 1h0m-8 1h0m0 1h0m1 0h0m-5 29h0" stroke="#151515" stroke-width="1.2" stroke-linecap="square" fill="none"/><path d="M337.5 88.5h0m28 3h0m-54 3h0m34 0h0m-26 1h0m3 0h0m2 0h0m19 0h0m5 0h0m19 0h0m-57 1h0m28 0h0m7 0h0m38 0h0m-72 1h0m17 0h0m14 0h0m63 0h0m-83 1h0m2 0h0m6 0h0m1 0h0m5 0h0m8 0h0m1 0h0m13 0h0m36 0h0m-75 1h0m7 0h0m1 0h0m12 0h0m16 0h0m8 0h0m8 0h0m60 0h0m-120 1h0m1 0h0m2 0h0m15 0h0m5 0h0m13 0h0m10 0h0m40 0h0m17 0h0m-64 1h0m8 0h0m13 0h0m-61 1h0m3 0h0m35 0h0m6 0h0m27 0h0m18 0h0m-41 1h0m6 0h0m8 0h0m27 0h0m19 0h0m-104 1h0m53 0h0m3 0h0m8 0h0m4 0h0m27 0h0m-52 1h0m35 0h0m2 0h0m18 0h0m5 0h0m41 0h0m-91 1h0m57 0h0m17 0h0m-76 1h0m14 0h0m6 0h0m4 0h0m7 0h0m12 0h0m7 0h0m-21 1h0m23 0h0m6 0h0m8 0h0m-52 1h0m21 0h0m6 0h0m1 0h0m14 0h0m5 0h0m8 0h0m-49 1h0m1 0h0m31 0h0m16 0h0m9 0h0m-72 1h0m26 0h0m4 0h0m7 0h0m3 0h0m29 0h0m-59 1h0m7 0h0m5 0h0m-3 1h0m14 0h0m11 0h0m13 0h0m3 0h0m5 0h0m16 0h0m-69 1h0m12 0h0m-16 1h0m8 0h0m3 0h0m43 0h0m2 0h0m1 0h0m-48 1h0m11 0h0m4 0h0m5 0h0m6 0h0m1 0h0m11 0h0m13 0h0m9 0h0m-43 1h0m19 0h0m4 0h0m5 0h0m9 0h0m1 0h0m41 0h0m-90 1h0m2 0h0m11 0h0m5 0h0m6 0h0m-33 1h0m6 0h0m14 0h0m10 0h0m32 0h0m-50 1h0m7 0h0m5 0h0m5 0h0m16 0h0m1 0h0m-45 1h0m4 0h0m21 0h0m6 0h0m4 0h0m3 0h0m19 0h0m25 0h0m-84 1h0m14 0h0m9 0h0m1 0h0m5 0h0m1 0h0m12 0h0m1 0h0m2 0h0m44 0h0m-87 1h0m6 0h0m8 0h0m3 0h0m15 0h0m2 0h0m1 0h0m12 0h0m5 0h0m13 0h0m-69 1h0m6 0h0m1 0h0m17 0h0m55 0h0m-80 1h0m5 0h0m6 0h0m3 0h0m30 0h0m12 0h0m-63 1h0m12 0h0m2 0h0m2 0h0m14 0h0m2 0h0m20 0h0m-46 1h0m8 0h0m2 0h0m4 0h0m25 0h0m2 0h0m11 0h0m4 0h0m26 0h0m-88 1h0m11 0h0m7 0h0m13 0h0m-22 1h0m16 0h0m4 0h0m9 0h0m14 0h0m-49 1h0m3 0h0m8 0h0m3 0h0m4 0h0m19 0h0m9 0h0m-56 1h0m35 0h0m7 0h0m1 0h0m6 0h0m2 0h0m11 0h0m-54 1h0m2 0h0m3 0h0m11 0h0m3 0h0m3 0h0m16 0h0m18 0h0m-63 1h0m25 0h0m5 0h0m2 0h0m-14 1h0m2 0h0m2 0h0m6 0h0m-17 1h0m6 0h0m15 0h0m2 0h0m13 0h0m11 0h0m4 0h0m-68 1h0m8 0h0m20 0h0m8 0h0m9 0h0m-35 1h0m2 0h0m18 0h0m9 1h0m2 0h0m8 0h0m9 0h0m26 0h0m-76 1h0m3 0h0m6 0h0m3 0h0m5 0h0m3 0h0m15 0h0m-31 1h0m7 0h0m13 0h0m5 0h0m10 0h0m-44 1h0m4 0h0m8 0h0m10 0h0m12 0h0m-37 1h0m11 0h0m29 0h0m-83 1h0m52 0h0m17 0h0m-16 1h0m2 0h0m16 0h0m1 0h0m10 0h0m2 0h0m20 0h0m10 0h0m-55 1h0m46 0h0m-48 1h0m5 0h0m20 0h0m19 0h0m-107 1h0m40 0h0m21 0h0m5 0h0m18 0h0m11 0h0m-39 1h0m-58 1h0m78 0h0m11 0h0m-85 1h0m1 0h0m58 0h0m24 0h0m-44 1h0m3 0h0m2 0h0m21 0h0m25 0h0m-93 1h0m51 0h0m2 0h0m34 0h0m1 0h0m-86 1h0m42 0h0m3 0h0m2 0h0m5 0h0m-10 1h0m5 0h0m11 0h0m2 0h0m-62 1h0m52 0h0m20 0h0m17 0h0m-44 1h0m12 0h0m1 0h0m29 0h0m-87 1h0m43 0h0m39 0h0m15 0h0m-92 1h0m-1 1h0m3 0h0m86 0h0m-46 1h0m4 0h0m40 0h0m8 0h0m4 0h0m19 0h0m-55 1h0m-67 1h0m6 0h0m33 0h0m14 0h0m19 0h0m57 0h0m-37 1h0m-92 1h0m5 0h0m40 0h0m-42 1h0m44 0h0m15 1h0m19 0h0m-71 1h0m79 0h0m7 1h0m-30 1h0m-14 1h0m54 0h0m-102 1h0m3 0h0m30 0h0m7 0h0m2 0h0m5 0h0m-45 1h0m36 0h0m51 0h0m-57 1h0m10 0h0m-42 1h0m40 0h0m2 0h0m-31 1h0m13 0h0m11 0h0m1 0h0m-41 2h0m10 0h0m40 0h0m27 0h0m-74 1h0m5 0h0m34 0h0m-3 1h0m4 0h0m-35 1h0m28 0h0m10 0h0m8 0h0m20 0h0m-58 1h0m17 0h0m9 0h0m28 0h0m-52 1h0m1 0h0m12 0h0m-21 1h0m5 0h0m6 0h0m5 0h0m9 0h0m8 0h0m-25 1h0m10 0h0m5 0h0m4 0h0m11 0h0m-34 1h0m3 0h0m5 0h0m7 0h0m7 0h0m3 1h0m-12 1h0m2 0h0m48 0h0m-54 1h0m8 0h0m-16 1h0m2 0h0m5 2h0m6 0h0m39 1h0m-65 1h0m15 0h0m9 0h0m-19 1h0m17 0h0m6 0h0m14 0h0m-24 2h0m3 0h0m2 0h0m1 0h0m-19 1h0m21 0h0m55 0h0m15 0h0m-78 1h0m5 0h0m2 0h0m-13 1h0m16 0h0m3 0h0m-12 1h0m9 0h0m17 0h0m-32 1h0m3 0h0m1 0h0m9 0h0m-13 1h0m6 0h0m0 1h0m72 0h0m-83 2h0m8 0h0m6 0h0m6 0h0m-9 1h0m4 1h0m37 0h0m-35 2h0m8 0h0m35 0h0m-56 1h0m3 0h0m17 0h0m14 0h0m50 1h0m-79 2h0m3 0h0m31 0h0m-41 2h0m9 0h0m-4 1h0m6 0h0m98 5h0m-49 1h0m-37 1h0m-22 1h0m73 5h0m-79 2h0" stroke="#606060" stroke-width="1.35" stroke-linecap="square" fill="none"/>
<rect x="309.5" y="53.5" width="198.00" height="197.80" fill="none" stroke="#222" stroke-width="1.3"/>
<line x1="366.2" y1="53.5" x2="366.2" y2="251.3" stroke="#111" stroke-width="1.3"/>
<line x1="309.5" y1="185.4" x2="507.5" y2="185.4" stroke="#111" stroke-width="1.3"/>
<text x="312.50" y="68.60" font-size="16.6" font-weight="700" text-anchor="start" fill="#000" >97<tspan dx="1.1">,</tspan><tspan dx="1.3">18</tspan></text>
<text x="506.50" y="68.60" font-size="16.6" font-weight="700" text-anchor="end" fill="#000" >2<tspan dx="1.1">,</tspan><tspan dx="1.3">39</tspan></text>
<text x="312.70" y="248.70" font-size="16.6" font-weight="700" text-anchor="start" fill="#000" >0<tspan dx="1.1">,</tspan><tspan dx="1.3">38</tspan></text>
<text x="506.50" y="248.70" font-size="16.6" font-weight="700" text-anchor="end" fill="#000" >0<tspan dx="1.1">,</tspan><tspan dx="1.3">05</tspan></text>
<path d="M309.50 251.30v5.2M309.50 251.30h-5.2M324.40 251.30v3.0M309.50 236.41h-3.0M333.12 251.30v3.0M309.50 227.71h-3.0M339.30 251.30v3.0M309.50 221.53h-3.0M344.10 251.30v3.0M309.50 216.74h-3.0M348.02 251.30v3.0M309.50 212.82h-3.0M351.33 251.30v3.0M309.50 209.51h-3.0M354.20 251.30v3.0M309.50 206.64h-3.0M356.74 251.30v3.0M309.50 204.11h-3.0M359.00 251.30v5.2M309.50 201.85h-5.2M373.90 251.30v3.0M309.50 186.96h-3.0M382.62 251.30v3.0M309.50 178.26h-3.0M388.80 251.30v3.0M309.50 172.08h-3.0M393.60 251.30v3.0M309.50 167.29h-3.0M397.52 251.30v3.0M309.50 163.37h-3.0M400.83 251.30v3.0M309.50 160.06h-3.0M403.70 251.30v3.0M309.50 157.19h-3.0M406.24 251.30v3.0M309.50 154.66h-3.0M408.50 251.30v5.2M309.50 152.40h-5.2M423.40 251.30v3.0M309.50 137.51h-3.0M432.12 251.30v3.0M309.50 128.81h-3.0M438.30 251.30v3.0M309.50 122.63h-3.0M443.10 251.30v3.0M309.50 117.84h-3.0M447.02 251.30v3.0M309.50 113.92h-3.0M450.33 251.30v3.0M309.50 110.61h-3.0M453.20 251.30v3.0M309.50 107.74h-3.0M455.74 251.30v3.0M309.50 105.21h-3.0M458.00 251.30v5.2M309.50 102.95h-5.2M472.90 251.30v3.0M309.50 88.06h-3.0M481.62 251.30v3.0M309.50 79.36h-3.0M487.80 251.30v3.0M309.50 73.18h-3.0M492.60 251.30v3.0M309.50 68.39h-3.0M496.52 251.30v3.0M309.50 64.47h-3.0M499.83 251.30v3.0M309.50 61.16h-3.0M502.70 251.30v3.0M309.50 58.29h-3.0M505.24 251.30v3.0M309.50 55.76h-3.0" stroke="#444" stroke-width="0.9" fill="none"/>
<text x="312.90" y="274.80" font-size="10.6" text-anchor="end" fill="#222">10</text>
<text x="311.80" y="268.80" font-size="10.6" fill="#222">0</text>
<text x="297.70" y="258.80" font-size="10.6" text-anchor="end" fill="#222">10</text>
<text x="296.60" y="253.00" font-size="10.6" fill="#222">0</text>
<text x="362.40" y="274.80" font-size="10.6" text-anchor="end" fill="#222">10</text>
<text x="361.30" y="268.80" font-size="10.6" fill="#222">1</text>
<text x="297.70" y="209.35" font-size="10.6" text-anchor="end" fill="#222">10</text>
<text x="296.60" y="203.55" font-size="10.6" fill="#222">1</text>
<text x="411.90" y="274.80" font-size="10.6" text-anchor="end" fill="#222">10</text>
<text x="410.80" y="268.80" font-size="10.6" fill="#222">2</text>
<text x="297.70" y="159.90" font-size="10.6" text-anchor="end" fill="#222">10</text>
<text x="296.60" y="154.10" font-size="10.6" fill="#222">2</text>
<text x="461.40" y="274.80" font-size="10.6" text-anchor="end" fill="#222">10</text>
<text x="460.30" y="268.80" font-size="10.6" fill="#222">3</text>
<text x="297.70" y="110.45" font-size="10.6" text-anchor="end" fill="#222">10</text>
<text x="296.60" y="104.65" font-size="10.6" fill="#222">3</text>
<text x="131.00" y="317.30" font-size="16.9" font-weight="400" text-anchor="start" fill="#111" >K562</text>
<path d="M59.5 371.5h0m39 0h0m-40 1h0m1 0h0m39 0h0m1 0h0m-14 1h0m13 0h0m-14 2h0m1 0h0m1 0h0m16 0h0m-21 1h0m4 0h0m2 0h0m1 0h0m4 0h0m10 0h0m1 0h0m1 0h0m-32 1h0m2 0h0m6 0h0m1 0h0m8 0h0m2 0h0m7 0h0m4 0h0m1 0h0m-32 1h0m1 0h0m1 0h0m1 0h0m5 0h0m2 0h0m1 0h0m4 0h0m2 0h0m2 0h0m5 0h0m1 0h0m1 0h0m6 0h0m-29 1h0m1 0h0m4 0h0m2 0h0m5 0h0m1 0h0m1 0h0m2 0h0m4 0h0m4 0h0m1 0h0m1 0h0m2 0h0m9 0h0m1 0h0m3 0h0m-43 1h0m3 0h0m2 0h0m1 0h0m1 0h0m2 0h0m1 0h0m1 0h0m2 0h0m1 0h0m1 0h0m1 0h0m1 0h0m2 0h0m2 0h0m1 0h0m6 0h0m1 0h0m2 0h0m1 0h0m2 0h0m1 0h0m1 0h0m4 0h0m2 0h0m14 0h0m-60 1h0m1 0h0m2 0h0m2 0h0m1 0h0m1 0h0m1 0h0m1 0h0m1 0h0m1 0h0m1 0h0m1 0h0m3 0h0m2 0h0m1 0h0m1 0h0m1 0h0m1 0h0m2 0h0m1 0h0m1 0h0m1 0h0m1 0h0m2 0h0m1 0h0m3 0h0m1 0h0m2 0h0m2 0h0m5 0h0m3 0h0m13 0h0m-70 1h0m1 0h0m9 0h0m1 0h0m1 0h0m2 0h0m3 0h0m1 0h0m1 0h0m3 0h0m1 0h0m1 0h0m1 0h0m1 0h0m1 0h0m2 0h0m1 0h0m1 0h0m2 0h0m1 0h0m1 0h0m1 0h0m1 0h0m1 0h0m1 0h0m1 0h0m3 0h0m2 0h0m2 0h0m3 0h0m1 0h0m2 0h0m2 0h0m2 0h0m13 0h0m1 0h0m8 0h0m1 0h0m22 0h0m8 0h0m1 0h0m-111 1h0m2 0h0m7 0h0m3 0h0m1 0h0m3 0h0m2 0h0m1 0h0m1 0h0m1 0h0m1 0h0m1 0h0m1 0h0m1 0h0m2 0h0m1 0h0m1 0h0m1 0h0m1 0h0m1 0h0m2 0h0m3 0h0m1 0h0m2 0h0m1 0h0m1 0h0m1 0h0m1 0h0m2 0h0m1 0h0m1 0h0m3 0h0m3 0h0m4 0h0m16 0h0m6 0h0m5 0h0m14 0h0m2 0h0m2 0h0m8 0h0m6 0h0m1 0h0m11 0h0m-128 1h0m9 0h0m1 0h0m2 0h0m1 0h0m1 0h0m2 0h0m1 0h0m2 0h0m1 0h0m1 0h0m3 0h0m1 0h0m1 0h0m1 0h0m2 0h0m1 0h0m1 0h0m1 0h0m1 0h0m1 0h0m2 0h0m1 0h0m1 0h0m1 0h0m1 0h0m1 0h0m2 0h0m1 0h0m3 0h0m1 0h0m1 0h0m2 0h0m1 0h0m2 0h0m1 0h0m1 0h0m7 0h0m5 0h0m1 0h0m3 0h0m1 0h0m20 0h0m5 0h0m1 0h0m2 0h0m1 0h0m1 0h0m13 0h0m2 0h0m9 0h0m1 0h0m-129 1h0m1 0h0m8 0h0m3 0h0m1 0h0m1 0h0m1 0h0m1 0h0m1 0h0m1 0h0m1 0h0m1 0h0m2 0h0m1 0h0m1 0h0m1 0h0m2 0h0m1 0h0m1 0h0m1 0h0m1 0h0m1 0h0m1 0h0m1 0h0m1 0h0m1 0h0m1 0h0m1 0h0m1 0h0m1 0h0m1 0h0m1 0h0m1 0h0m1 0h0m1 0h0m2 0h0m1 0h0m2 0h0m1 0h0m1 0h0m1 0h0m2 0h0m1 0h0m1 0h0m1 0h0m3 0h0m1 0h0m1 0h0m1 0h0m1 0h0m1 0h0m3 0h0m1 0h0m8 0h0m12 0h0m4 0h0m1 0h0m3 0h0m1 0h0m4 0h0m17 0h0m2 0h0m3 0h0m4 0h0m3 0h0m-132 1h0m1 0h0m1 0h0m4 0h0m5 0h0m1 0h0m1 0h0m2 0h0m1 0h0m1 0h0m3 0h0m1 0h0m1 0h0m1 0h0m1 0h0m1 0h0m1 0h0m1 0h0m1 0h0m1 0h0m1 0h0m1 0h0m1 0h0m1 0h0m1 0h0m1 0h0m2 0h0m1 0h0m1 0h0m1 0h0m2 0h0m1 0h0m2 0h0m1 0h0m1 0h0m1 0h0m1 0h0m1 0h0m1 0h0m4 0h0m4 0h0m2 0h0m1 0h0m1 0h0m1 0h0m1 0h0m1 0h0m2 0h0m1 0h0m2 0h0m1 0h0m1 0h0m4 0h0m1 0h0m4 0h0m9 0h0m4 0h0m1 0h0m1 0h0m5 0h0m1 0h0m4 0h0m1 0h0m2 0h0m6 0h0m1 0h0m1 0h0m2 0h0m1 0h0m1 0h0m2 0h0m1 0h0m1 0h0m1 0h0m2 0h0m4 0h0m-131 1h0m3 0h0m2 0h0m1 0h0m1 0h0m1 0h0m1 0h0m1 0h0m2 0h0m1 0h0m1 0h0m1 0h0m1 0h0m1 0h0m1 0h0m1 0h0m1 0h0m1 0h0m1 0h0m1 0h0m1 0h0m2 0h0m1 0h0m1 0h0m1 0h0m1 0h0m1 0h0m1 0h0m2 0h0m1 0h0m1 0h0m1 0h0m1 0h0m1 0h0m1 0h0m1 0h0m1 0h0m1 0h0m2 0h0m1 0h0m1 0h0m1 0h0m1 0h0m1 0h0m1 0h0m1 0h0m1 0h0m3 0h0m6 0h0m2 0h0m1 0h0m2 0h0m4 0h0m2 0h0m1 0h0m1 0h0m4 0h0m1 0h0m3 0h0m4 0h0m7 0h0m1 0h0m3 0h0m1 0h0m2 0h0m1 0h0m3 0h0m1 0h0m1 0h0m2 0h0m3 0h0m2 0h0m3 0h0m4 0h0m2 0h0m2 0h0m2 0h0m2 0h0m3 0h0m1 0h0m-134 1h0m2 0h0m1 0h0m4 0h0m2 0h0m1 0h0m1 0h0m1 0h0m1 0h0m1 0h0m2 0h0m1 0h0m1 0h0m1 0h0m1 0h0m1 0h0m1 0h0m1 0h0m1 0h0m1 0h0m1 0h0m1 0h0m1 0h0m1 0h0m1 0h0m1 0h0m1 0h0m1 0h0m1 0h0m1 0h0m1 0h0m1 0h0m1 0h0m1 0h0m1 0h0m1 0h0m1 0h0m1 0h0m1 0h0m1 0h0m1 0h0m1 0h0m1 0h0m1 0h0m1 0h0m2 0h0m1 0h0m1 0h0m3 0h0m1 0h0m2 0h0m1 0h0m3 0h0m5 0h0m1 0h0m3 0h0m2 0h0m1 0h0m1 0h0m3 0h0m2 0h0m1 0h0m2 0h0m4 0h0m1 0h0m2 0h0m1 0h0m1 0h0m3 0h0m1 0h0m1 0h0m4 0h0m1 0h0m1 0h0m1 0h0m1 0h0m1 0h0m3 0h0m1 0h0m3 0h0m3 0h0m4 0h0m1 0h0m3 0h0m2 0h0m1 0h0m2 0h0m1 0h0m1 0h0m3 0h0m-137 1h0m1 0h0m1 0h0m2 0h0m1 0h0m2 0h0m1 0h0m3 0h0m1 0h0m1 0h0m2 0h0m1 0h0m1 0h0m1 0h0m1 0h0m1 0h0m1 0h0m1 0h0m1 0h0m1 0h0m1 0h0m1 0h0m1 0h0m1 0h0m1 0h0m1 0h0m1 0h0m1 0h0m1 0h0m1 0h0m1 0h0m1 0h0m1 0h0m1 0h0m1 0h0m1 0h0m1 0h0m1 0h0m1 0h0m1 0h0m1 0h0m1 0h0m2 0h0m1 0h0m1 0h0m1 0h0m1 0h0m1 0h0m1 0h0m2 0h0m2 0h0m3 0h0m1 0h0m1 0h0m1 0h0m3 0h0m2 0h0m1 0h0m1 0h0m1 0h0m1 0h0m1 0h0m1 0h0m1 0h0m1 0h0m3 0h0m1 0h0m1 0h0m1 0h0m1 0h0m1 0h0m1 0h0m1 0h0m1 0h0m1 0h0m1 0h0m1 0h0m2 0h0m1 0h0m1 0h0m1 0h0m1 0h0m2 0h0m2 0h0m1 0h0m4 0h0m1 0h0m4 0h0m2 0h0m1 0h0m1 0h0m1 0h0m1 0h0m1 0h0m1 0h0m1 0h0m1 0h0m1 0h0m1 0h0m2 0h0m1 0h0m1 0h0m3 0h0m1 0h0m1 0h0m2 0h0m-134 1h0m4 0h0m2 0h0m2 0h0m1 0h0m1 0h0m1 0h0m1 0h0m1 0h0m1 0h0m1 0h0m1 0h0m1 0h0m1 0h0m1 0h0m1 0h0m1 0h0m1 0h0m1 0h0m1 0h0m1 0h0m1 0h0m1 0h0m1 0h0m1 0h0m1 0h0m1 0h0m1 0h0m1 0h0m1 0h0m1 0h0m1 0h0m1 0h0m1 0h0m1 0h0m1 0h0m1 0h0m1 0h0m1 0h0m1 0h0m1 0h0m2 0h0m1 0h0m1 0h0m1 0h0m1 0h0m1 0h0m1 0h0m1 0h0m1 0h0m1 0h0m1 0h0m3 0h0m1 0h0m1 0h0m1 0h0m1 0h0m2 0h0m2 0h0m1 0h0m1 0h0m1 0h0m1 0h0m1 0h0m3 0h0m2 0h0m1 0h0m3 0h0m1 0h0m1 0h0m1 0h0m1 0h0m1 0h0m2 0h0m6 0h0m1 0h0m3 0h0m1 0h0m2 0h0m2 0h0m1 0h0m1 0h0m1 0h0m1 0h0m1 0h0m2 0h0m2 0h0m1 0h0m1 0h0m2 0h0m1 0h0m1 0h0m1 0h0m1 0h0m1 0h0m1 0h0m1 0h0m2 0h0m1 0h0m3 0h0m1 0h0m1 0h0m3 0h0m-134 1h0m3 0h0m2 0h0m1 0h0m2 0h0m1 0h0m2 0h0m1 0h0m1 0h0m1 0h0m1 0h0m1 0h0m1 0h0m1 0h0m1 0h0m1 0h0m1 0h0m1 0h0m1 0h0m1 0h0m1 0h0m1 0h0m1 0h0m1 0h0m1 0h0m1 0h0m1 0h0m1 0h0m1 0h0m1 0h0m1 0h0m1 0h0m1 0h0m1 0h0m1 0h0m1 0h0m2 0h0m1 0h0m1 0h0m1 0h0m1 0h0m1 0h0m1 0h0m1 0h0m2 0h0m1 0h0m3 0h0m2 0h0m1 0h0m1 0h0m3 0h0m2 0h0m1 0h0m1 0h0m1 0h0m1 0h0m2 0h0m1 0h0m1 0h0m1 0h0m3 0h0m1 0h0m1 0h0m2 0h0m3 0h0m1 0h0m1 0h0m1 0h0m1 0h0m1 0h0m2 0h0m4 0h0m1 0h0m2 0h0m1 0h0m1 0h0m2 0h0m2 0h0m1 0h0m1 0h0m2 0h0m1 0h0m1 0h0m1 0h0m1 0h0m1 0h0m2 0h0m1 0h0m1 0h0m2 0h0m1 0h0m1 0h0m1 0h0m1 0h0m1 0h0m1 0h0m1 0h0m1 0h0m1 0h0m1 0h0m3 0h0m3 0h0m1 0h0m-136 1h0m1 0h0m1 0h0m2 0h0m2 0h0m1 0h0m1 0h0m1 0h0m1 0h0m1 0h0m1 0h0m1 0h0m1 0h0m1 0h0m1 0h0m1 0h0m1 0h0m1 0h0m1 0h0m1 0h0m1 0h0m1 0h0m1 0h0m1 0h0m1 0h0m1 0h0m1 0h0m1 0h0m1 0h0m1 0h0m1 0h0m1 0h0m1 0h0m1 0h0m1 0h0m1 0h0m1 0h0m1 0h0m1 0h0m1 0h0m1 0h0m1 0h0m1 0h0m1 0h0m1 0h0m1 0h0m1 0h0m1 0h0m1 0h0m1 0h0m1 0h0m1 0h0m1 0h0m1 0h0m1 0h0m1 0h0m1 0h0m1 0h0m1 0h0m2 0h0m2 0h0m1 0h0m1 0h0m1 0h0m1 0h0m1 0h0m1 0h0m3 0h0m1 0h0m1 0h0m1 0h0m2 0h0m1 0h0m1 0h0m1 0h0m2 0h0m2 0h0m1 0h0m1 0h0m1 0h0m1 0h0m1 0h0m1 0h0m1 0h0m1 0h0m1 0h0m3 0h0m1 0h0m1 0h0m1 0h0m1 0h0m4 0h0m2 0h0m1 0h0m2 0h0m1 0h0m1 0h0m2 0h0m1 0h0m1 0h0m1 0h0m2 0h0m1 0h0m1 0h0m1 0h0m1 0h0m1 0h0m1 0h0m1 0h0m2 0h0m2 0h0m1 0h0m1 0h0m1 0h0m1 0h0m3 0h0m-137 1h0m1 0h0m1 0h0m1 0h0m2 0h0m1 0h0m2 0h0m1 0h0m1 0h0m1 0h0m1 0h0m1 0h0m1 0h0m1 0h0m1 0h0m1 0h0m1 0h0m1 0h0m1 0h0m1 0h0m1 0h0m1 0h0m1 0h0m1 0h0m1 0h0m1 0h0m1 0h0m1 0h0m1 0h0m1 0h0m1 0h0m1 0h0m1 0h0m1 0h0m1 0h0m1 0h0m1 0h0m1 0h0m1 0h0m1 0h0m1 0h0m1 0h0m1 0h0m1 0h0m1 0h0m1 0h0m1 0h0m1 0h0m1 0h0m1 0h0m1 0h0m1 0h0m1 0h0m1 0h0m1 0h0m1 0h0m1 0h0m2 0h0m2 0h0m1 0h0m1 0h0m1 0h0m1 0h0m1 0h0m1 0h0m1 0h0m2 0h0m1 0h0m2 0h0m1 0h0m1 0h0m1 0h0m1 0h0m1 0h0m1 0h0m1 0h0m1 0h0m1 0h0m1 0h0m1 0h0m1 0h0m2 0h0m1 0h0m1 0h0m2 0h0m2 0h0m1 0h0m1 0h0m1 0h0m2 0h0m1 0h0m2 0h0m1 0h0m1 0h0m2 0h0m1 0h0m2 0h0m1 0h0m1 0h0m1 0h0m1 0h0m1 0h0m1 0h0m2 0h0m1 0h0m1 0h0m1 0h0m1 0h0m2 0h0m1 0h0m1 0h0m1 0h0m1 0h0m2 0h0m1 0h0m1 0h0m2 0h0m1 0h0m2 0h0m2 0h0m-138 1h0m1 0h0m1 0h0m2 0h0m2 0h0m1 0h0m3 0h0m1 0h0m1 0h0m1 0h0m1 0h0m1 0h0m1 0h0m1 0h0m1 0h0m1 0h0m1 0h0m1 0h0m1 0h0m1 0h0m1 0h0m1 0h0m1 0h0m1 0h0m1 0h0m1 0h0m1 0h0m1 0h0m1 0h0m1 0h0m1 0h0m1 0h0m1 0h0m1 0h0m1 0h0m1 0h0m1 0h0m1 0h0m1 0h0m1 0h0m1 0h0m1 0h0m1 0h0m1 0h0m1 0h0m1 0h0m1 0h0m1 0h0m1 0h0m1 0h0m1 0h0m1 0h0m1 0h0m1 0h0m1 0h0m1 0h0m2 0h0m1 0h0m1 0h0m1 0h0m1 0h0m1 0h0m1 0h0m2 0h0m2 0h0m1 0h0m1 0h0m2 0h0m1 0h0m1 0h0m1 0h0m1 0h0m2 0h0m1 0h0m1 0h0m1 0h0m1 0h0m1 0h0m1 0h0m1 0h0m1 0h0m1 0h0m1 0h0m1 0h0m1 0h0m1 0h0m1 0h0m1 0h0m1 0h0m1 0h0m2 0h0m1 0h0m1 0h0m3 0h0m1 0h0m1 0h0m1 0h0m1 0h0m1 0h0m1 0h0m1 0h0m1 0h0m1 0h0m1 0h0m1 0h0m1 0h0m2 0h0m1 0h0m2 0h0m2 0h0m1 0h0m1 0h0m1 0h0m1 0h0m1 0h0m1 0h0m1 0h0m2 0h0m1 0h0m2 0h0m1 0h0m1 0h0m1 0h0m-139 1h0m1 0h0m1 0h0m1 0h0m3 0h0m1 0h0m2 0h0m1 0h0m1 0h0m1 0h0m1 0h0m1 0h0m1 0h0m1 0h0m1 0h0m1 0h0m1 0h0m1 0h0m1 0h0m1 0h0m1 0h0m1 0h0m1 0h0m1 0h0m1 0h0m1 0h0m1 0h0m1 0h0m1 0h0m1 0h0m1 0h0m1 0h0m1 0h0m1 0h0m1 0h0m1 0h0m1 0h0m1 0h0m1 0h0m1 0h0m1 0h0m1 0h0m1 0h0m1 0h0m1 0h0m1 0h0m1 0h0m1 0h0m1 0h0m1 0h0m1 0h0m1 0h0m1 0h0m1 0h0m1 0h0m1 0h0m1 0h0m1 0h0m1 0h0m1 0h0m2 0h0m1 0h0m1 0h0m1 0h0m1 0h0m1 0h0m1 0h0m1 0h0m1 0h0m1 0h0m1 0h0m1 0h0m1 0h0m2 0h0m2 0h0m1 0h0m2 0h0m1 0h0m1 0h0m1 0h0m1 0h0m1 0h0m1 0h0m1 0h0m1 0h0m1 0h0m1 0h0m1 0h0m1 0h0m1 0h0m1 0h0m1 0h0m1 0h0m1 0h0m1 0h0m2 0h0m2 0h0m1 0h0m1 0h0m1 0h0m1 0h0m1 0h0m1 0h0m1 0h0m1 0h0m1 0h0m1 0h0m1 0h0m1 0h0m1 0h0m1 0h0m1 0h0m1 0h0m1 0h0m1 0h0m1 0h0m1 0h0m1 0h0m1 0h0m2 0h0m1 0h0m1 0h0m1 0h0m1 0h0m2 0h0m1 0h0m3 0h0m-139 1h0m1 0h0m1 0h0m1 0h0m1 0h0m1 0h0m1 0h0m1 0h0m2 0h0m1 0h0m1 0h0m1 0h0m1 0h0m1 0h0m1 0h0m1 0h0m1 0h0m1 0h0m1 0h0m1 0h0m1 0h0m1 0h0m1 0h0m1 0h0m1 0h0m1 0h0m1 0h0m1 0h0m1 0h0m1 0h0m1 0h0m1 0h0m1 0h0m1 0h0m1 0h0m1 0h0m1 0h0m1 0h0m1 0h0m1 0h0m1 0h0m1 0h0m1 0h0m1 0h0m1 0h0m1 0h0m1 0h0m1 0h0m1 0h0m1 0h0m1 0h0m1 0h0m1 0h0m1 0h0m1 0h0m1 0h0m1 0h0m1 0h0m1 0h0m1 0h0m1 0h0m1 0h0m1 0h0m1 0h0m1 0h0m1 0h0m1 0h0m1 0h0m1 0h0m1 0h0m1 0h0m1 0h0m1 0h0m2 0h0m1 0h0m1 0h0m1 0h0m1 0h0m1 0h0m2 0h0m1 0h0m1 0h0m1 0h0m1 0h0m1 0h0m1 0h0m1 0h0m1 0h0m1 0h0m1 0h0m1 0h0m1 0h0m1 0h0m1 0h0m1 0h0m1 0h0m2 0h0m1 0h0m1 0h0m1 0h0m1 0h0m1 0h0m1 0h0m1 0h0m1 0h0m1 0h0m1 0h0m1 0h0m1 0h0m1 0h0m1 0h0m1 0h0m1 0h0m1 0h0m1 0h0m1 0h0m2 0h0m1 0h0m2 0h0m1 0h0m1 0h0m1 0h0m2 0h0m1 0h0m1 0h0m1 0h0m1 0h0m4 0h0m1 0h0m-138 1h0m1 0h0m1 0h0m2 0h0m1 0h0m3 0h0m1 0h0m1 0h0m1 0h0m1 0h0m1 0h0m1 0h0m1 0h0m1 0h0m1 0h0m1 0h0m1 0h0m1 0h0m1 0h0m1 0h0m1 0h0m1 0h0m1 0h0m1 0h0m1 0h0m1 0h0m1 0h0m1 0h0m1 0h0m1 0h0m1 0h0m1 0h0m1 0h0m1 0h0m1 0h0m1 0h0m1 0h0m1 0h0m1 0h0m1 0h0m1 0h0m1 0h0m1 0h0m1 0h0m1 0h0m1 0h0m1 0h0m1 0h0m1 0h0m1 0h0m1 0h0m1 0h0m1 0h0m1 0h0m1 0h0m2 0h0m1 0h0m1 0h0m1 0h0m1 0h0m1 0h0m2 0h0m2 0h0m2 0h0m2 0h0m2 0h0m1 0h0m1 0h0m1 0h0m1 0h0m1 0h0m1 0h0m1 0h0m2 0h0m2 0h0m1 0h0m1 0h0m1 0h0m1 0h0m2 0h0m1 0h0m1 0h0m1 0h0m1 0h0m1 0h0m1 0h0m1 0h0m1 0h0m1 0h0m2 0h0m1 0h0m1 0h0m1 0h0m1 0h0m1 0h0m1 0h0m1 0h0m1 0h0m1 0h0m1 0h0m1 0h0m1 0h0m1 0h0m2 0h0m1 0h0m1 0h0m1 0h0m1 0h0m1 0h0m1 0h0m1 0h0m1 0h0m1 0h0m1 0h0m3 0h0m1 0h0m1 0h0m2 0h0m1 0h0m1 0h0m1 0h0m1 0h0m-138 1h0m1 0h0m1 0h0m2 0h0m2 0h0m1 0h0m1 0h0m1 0h0m1 0h0m1 0h0m1 0h0m1 0h0m1 0h0m1 0h0m1 0h0m1 0h0m1 0h0m1 0h0m1 0h0m1 0h0m1 0h0m1 0h0m1 0h0m1 0h0m1 0h0m1 0h0m1 0h0m1 0h0m1 0h0m1 0h0m1 0h0m1 0h0m1 0h0m1 0h0m1 0h0m1 0h0m1 0h0m1 0h0m1 0h0m1 0h0m1 0h0m1 0h0m1 0h0m1 0h0m1 0h0m1 0h0m1 0h0m1 0h0m1 0h0m1 0h0m1 0h0m1 0h0m1 0h0m1 0h0m1 0h0m1 0h0m1 0h0m1 0h0m1 0h0m1 0h0m2 0h0m1 0h0m1 0h0m1 0h0m1 0h0m1 0h0m1 0h0m1 0h0m1 0h0m1 0h0m1 0h0m1 0h0m1 0h0m1 0h0m1 0h0m1 0h0m1 0h0m1 0h0m1 0h0m1 0h0m1 0h0m1 0h0m1 0h0m1 0h0m1 0h0m1 0h0m1 0h0m1 0h0m1 0h0m1 0h0m1 0h0m1 0h0m1 0h0m1 0h0m1 0h0m1 0h0m1 0h0m1 0h0m1 0h0m1 0h0m1 0h0m1 0h0m1 0h0m1 0h0m1 0h0m1 0h0m1 0h0m1 0h0m1 0h0m1 0h0m1 0h0m1 0h0m1 0h0m1 0h0m1 0h0m1 0h0m1 0h0m1 0h0m1 0h0m1 0h0m1 0h0m1 0h0m1 0h0m1 0h0m1 0h0m1 0h0m1 0h0m1 0h0m1 0h0m1 0h0m2 0h0m1 0h0m1 0h0m1 0h0m1 0h0m1 0h0m2 0h0m1 0h0m-141 1h0m1 0h0m1 0h0m1 0h0m1 0h0m1 0h0m1 0h0m1 0h0m1 0h0m1 0h0m2 0h0m1 0h0m1 0h0m1 0h0m1 0h0m1 0h0m1 0h0m1 0h0m1 0h0m1 0h0m1 0h0m1 0h0m1 0h0m1 0h0m1 0h0m1 0h0m1 0h0m1 0h0m1 0h0m1 0h0m1 0h0m1 0h0m1 0h0m1 0h0m1 0h0m1 0h0m1 0h0m1 0h0m1 0h0m1 0h0m1 0h0m1 0h0m1 0h0m1 0h0m1 0h0m1 0h0m1 0h0m1 0h0m1 0h0m1 0h0m1 0h0m1 0h0m1 0h0m1 0h0m1 0h0m2 0h0m1 0h0m1 0h0m1 0h0m1 0h0m1 0h0m1 0h0m1 0h0m1 0h0m1 0h0m1 0h0m1 0h0m1 0h0m1 0h0m1 0h0m1 0h0m1 0h0m1 0h0m1 0h0m1 0h0m1 0h0m1 0h0m1 0h0m1 0h0m1 0h0m1 0h0m1 0h0m1 0h0m1 0h0m1 0h0m1 0h0m1 0h0m1 0h0m1 0h0m1 0h0m1 0h0m1 0h0m1 0h0m1 0h0m1 0h0m1 0h0m1 0h0m2 0h0m1 0h0m2 0h0m1 0h0m1 0h0m1 0h0m1 0h0m1 0h0m1 0h0m1 0h0m1 0h0m1 0h0m1 0h0m1 0h0m1 0h0m1 0h0m1 0h0m1 0h0m1 0h0m1 0h0m1 0h0m1 0h0m1 0h0m2 0h0m1 0h0m1 0h0m1 0h0m1 0h0m1 0h0m2 0h0m1 0h0m1 0h0m1 0h0m4 0h0m1 0h0m-141 1h0m1 0h0m1 0h0m1 0h0m1 0h0m1 0h0m1 0h0m1 0h0m1 0h0m1 0h0m1 0h0m1 0h0m2 0h0m1 0h0m1 0h0m1 0h0m1 0h0m1 0h0m1 0h0m1 0h0m1 0h0m1 0h0m1 0h0m1 0h0m1 0h0m1 0h0m1 0h0m1 0h0m1 0h0m1 0h0m1 0h0m1 0h0m1 0h0m1 0h0m1 0h0m1 0h0m1 0h0m1 0h0m1 0h0m1 0h0m1 0h0m1 0h0m1 0h0m1 0h0m1 0h0m1 0h0m1 0h0m1 0h0m1 0h0m1 0h0m1 0h0m1 0h0m1 0h0m1 0h0m1 0h0m1 0h0m1 0h0m1 0h0m1 0h0m1 0h0m1 0h0m1 0h0m1 0h0m1 0h0m1 0h0m1 0h0m1 0h0m1 0h0m1 0h0m1 0h0m1 0h0m1 0h0m1 0h0m1 0h0m1 0h0m1 0h0m1 0h0m1 0h0m1 0h0m1 0h0m1 0h0m1 0h0m1 0h0m1 0h0m2 0h0m1 0h0m1 0h0m1 0h0m1 0h0m1 0h0m1 0h0m1 0h0m1 0h0m1 0h0m1 0h0m1 0h0m1 0h0m2 0h0m1 0h0m1 0h0m2 0h0m1 0h0m1 0h0m1 0h0m2 0h0m1 0h0m1 0h0m1 0h0m1 0h0m1 0h0m1 0h0m1 0h0m1 0h0m1 0h0m1 0h0m1 0h0m1 0h0m1 0h0m1 0h0m1 0h0m1 0h0m1 0h0m1 0h0m1 0h0m1 0h0m1 0h0m4 0h0m-134 1h0m1 0h0m2 0h0m1 0h0m1 0h0m1 0h0m2 0h0m1 0h0m1 0h0m1 0h0m1 0h0m1 0h0m1 0h0m1 0h0m1 0h0m1 0h0m1 0h0m1 0h0m1 0h0m1 0h0m1 0h0m1 0h0m1 0h0m1 0h0m1 0h0m1 0h0m1 0h0m1 0h0m1 0h0m1 0h0m1 0h0m1 0h0m1 0h0m1 0h0m1 0h0m1 0h0m1 0h0m1 0h0m1 0h0m1 0h0m1 0h0m1 0h0m1 0h0m1 0h0m1 0h0m1 0h0m1 0h0m1 0h0m2 0h0m1 0h0m1 0h0m1 0h0m1 0h0m1 0h0m1 0h0m1 0h0m1 0h0m1 0h0m1 0h0m1 0h0m1 0h0m1 0h0m2 0h0m1 0h0m3 0h0m1 0h0m1 0h0m1 0h0m1 0h0m1 0h0m1 0h0m1 0h0m1 0h0m1 0h0m1 0h0m1 0h0m1 0h0m2 0h0m1 0h0m2 0h0m1 0h0m1 0h0m1 0h0m1 0h0m1 0h0m1 0h0m1 0h0m1 0h0m1 0h0m1 0h0m1 0h0m2 0h0m1 0h0m1 0h0m1 0h0m1 0h0m1 0h0m1 0h0m1 0h0m1 0h0m1 0h0m2 0h0m1 0h0m1 0h0m1 0h0m1 0h0m1 0h0m1 0h0m1 0h0m1 0h0m1 0h0m1 0h0m1 0h0m1 0h0m1 0h0m1 0h0m1 0h0m1 0h0m1 0h0m1 0h0m1 0h0m1 0h0m1 0h0m1 0h0m1 0h0m1 0h0m1 0h0m3 0h0m-139 1h0m1 0h0m1 0h0m1 0h0m1 0h0m1 0h0m2 0h0m1 0h0m1 0h0m1 0h0m2 0h0m1 0h0m1 0h0m1 0h0m1 0h0m1 0h0m1 0h0m1 0h0m1 0h0m1 0h0m1 0h0m1 0h0m1 0h0m1 0h0m1 0h0m1 0h0m1 0h0m1 0h0m1 0h0m1 0h0m1 0h0m1 0h0m1 0h0m1 0h0m1 0h0m1 0h0m1 0h0m1 0h0m1 0h0m1 0h0m1 0h0m1 0h0m1 0h0m1 0h0m1 0h0m1 0h0m1 0h0m1 0h0m1 0h0m1 0h0m1 0h0m1 0h0m1 0h0m1 0h0m1 0h0m1 0h0m1 0h0m1 0h0m1 0h0m1 0h0m1 0h0m1 0h0m1 0h0m1 0h0m1 0h0m2 0h0m1 0h0m1 0h0m1 0h0m1 0h0m1 0h0m1 0h0m1 0h0m1 0h0m1 0h0m1 0h0m1 0h0m1 0h0m1 0h0m1 0h0m1 0h0m1 0h0m1 0h0m1 0h0m1 0h0m1 0h0m2 0h0m1 0h0m1 0h0m1 0h0m1 0h0m1 0h0m1 0h0m2 0h0m1 0h0m1 0h0m1 0h0m1 0h0m1 0h0m1 0h0m1 0h0m1 0h0m1 0h0m1 0h0m1 0h0m1 0h0m1 0h0m1 0h0m1 0h0m1 0h0m1 0h0m1 0h0m1 0h0m1 0h0m1 0h0m1 0h0m1 0h0m1 0h0m1 0h0m1 0h0m1 0h0m1 0h0m1 0h0m1 0h0m4 0h0m1 0h0m1 0h0m3 0h0m-137 1h0m1 0h0m1 0h0m1 0h0m1 0h0m1 0h0m2 0h0m1 0h0m2 0h0m2 0h0m1 0h0m1 0h0m1 0h0m2 0h0m1 0h0m1 0h0m1 0h0m1 0h0m1 0h0m1 0h0m1 0h0m1 0h0m1 0h0m1 0h0m1 0h0m1 0h0m1 0h0m1 0h0m1 0h0m1 0h0m1 0h0m1 0h0m1 0h0m1 0h0m1 0h0m1 0h0m1 0h0m1 0h0m1 0h0m1 0h0m1 0h0m1 0h0m1 0h0m1 0h0m1 0h0m1 0h0m1 0h0m1 0h0m1 0h0m1 0h0m1 0h0m1 0h0m1 0h0m2 0h0m1 0h0m2 0h0m1 0h0m1 0h0m1 0h0m1 0h0m1 0h0m1 0h0m1 0h0m1 0h0m1 0h0m1 0h0m1 0h0m1 0h0m1 0h0m1 0h0m1 0h0m1 0h0m1 0h0m1 0h0m1 0h0m1 0h0m1 0h0m1 0h0m1 0h0m1 0h0m1 0h0m1 0h0m1 0h0m1 0h0m1 0h0m1 0h0m1 0h0m1 0h0m1 0h0m2 0h0m1 0h0m1 0h0m1 0h0m1 0h0m1 0h0m1 0h0m2 0h0m1 0h0m1 0h0m2 0h0m1 0h0m1 0h0m1 0h0m1 0h0m1 0h0m1 0h0m1 0h0m1 0h0m1 0h0m1 0h0m1 0h0m1 0h0m1 0h0m1 0h0m1 0h0m1 0h0m1 0h0m1 0h0m1 0h0m1 0h0m1 0h0m2 0h0m1 0h0m1 0h0m1 0h0m1 0h0m1 0h0m2 0h0m-138 1h0m1 0h0m1 0h0m1 0h0m1 0h0m3 0h0m2 0h0m1 0h0m1 0h0m1 0h0m1 0h0m1 0h0m1 0h0m1 0h0m1 0h0m1 0h0m1 0h0m1 0h0m1 0h0m1 0h0m1 0h0m1 0h0m1 0h0m1 0h0m1 0h0m1 0h0m1 0h0m1 0h0m1 0h0m1 0h0m1 0h0m1 0h0m1 0h0m1 0h0m1 0h0m1 0h0m1 0h0m1 0h0m1 0h0m1 0h0m1 0h0m1 0h0m1 0h0m1 0h0m1 0h0m1 0h0m1 0h0m1 0h0m1 0h0m3 0h0m1 0h0m1 0h0m1 0h0m1 0h0m2 0h0m1 0h0m1 0h0m1 0h0m1 0h0m1 0h0m1 0h0m1 0h0m1 0h0m1 0h0m1 0h0m1 0h0m1 0h0m1 0h0m1 0h0m1 0h0m1 0h0m1 0h0m1 0h0m1 0h0m1 0h0m1 0h0m1 0h0m1 0h0m1 0h0m1 0h0m1 0h0m1 0h0m1 0h0m2 0h0m1 0h0m1 0h0m1 0h0m3 0h0m2 0h0m1 0h0m1 0h0m1 0h0m1 0h0m1 0h0m1 0h0m1 0h0m1 0h0m1 0h0m1 0h0m1 0h0m1 0h0m1 0h0m1 0h0m1 0h0m1 0h0m1 0h0m1 0h0m1 0h0m1 0h0m1 0h0m1 0h0m1 0h0m1 0h0m1 0h0m1 0h0m1 0h0m1 0h0m3 0h0m1 0h0m1 0h0m1 0h0m1 0h0m2 0h0m-135 1h0m1 0h0m1 0h0m1 0h0m2 0h0m1 0h0m2 0h0m2 0h0m1 0h0m1 0h0m1 0h0m1 0h0m1 0h0m1 0h0m1 0h0m1 0h0m1 0h0m1 0h0m1 0h0m1 0h0m1 0h0m1 0h0m1 0h0m1 0h0m1 0h0m1 0h0m1 0h0m1 0h0m1 0h0m1 0h0m1 0h0m1 0h0m1 0h0m1 0h0m1 0h0m1 0h0m1 0h0m1 0h0m1 0h0m1 0h0m1 0h0m1 0h0m1 0h0m1 0h0m1 0h0m1 0h0m1 0h0m1 0h0m1 0h0m1 0h0m1 0h0m2 0h0m1 0h0m1 0h0m1 0h0m1 0h0m1 0h0m1 0h0m1 0h0m1 0h0m1 0h0m1 0h0m1 0h0m1 0h0m1 0h0m1 0h0m1 0h0m1 0h0m1 0h0m1 0h0m1 0h0m1 0h0m2 0h0m1 0h0m1 0h0m1 0h0m1 0h0m1 0h0m1 0h0m1 0h0m3 0h0m1 0h0m1 0h0m1 0h0m1 0h0m1 0h0m1 0h0m2 0h0m1 0h0m2 0h0m1 0h0m1 0h0m1 0h0m1 0h0m1 0h0m1 0h0m1 0h0m1 0h0m1 0h0m1 0h0m1 0h0m1 0h0m1 0h0m2 0h0m1 0h0m1 0h0m1 0h0m1 0h0m1 0h0m1 0h0m1 0h0m1 0h0m1 0h0m1 0h0m1 0h0m1 0h0m1 0h0m1 0h0m1 0h0m2 0h0m1 0h0m3 0h0m2 0h0m2 0h0m1 0h0m1 0h0m8 0h0m-148 1h0m1 0h0m1 0h0m3 0h0m1 0h0m1 0h0m1 0h0m2 0h0m1 0h0m1 0h0m1 0h0m1 0h0m1 0h0m1 0h0m1 0h0m1 0h0m1 0h0m1 0h0m1 0h0m1 0h0m1 0h0m1 0h0m1 0h0m1 0h0m1 0h0m1 0h0m1 0h0m1 0h0m1 0h0m1 0h0m1 0h0m1 0h0m1 0h0m1 0h0m1 0h0m1 0h0m1 0h0m1 0h0m1 0h0m1 0h0m1 0h0m1 0h0m1 0h0m1 0h0m1 0h0m2 0h0m1 0h0m1 0h0m2 0h0m2 0h0m1 0h0m2 0h0m1 0h0m1 0h0m1 0h0m1 0h0m1 0h0m2 0h0m1 0h0m1 0h0m1 0h0m1 0h0m1 0h0m1 0h0m1 0h0m3 0h0m1 0h0m1 0h0m1 0h0m1 0h0m1 0h0m1 0h0m1 0h0m1 0h0m1 0h0m1 0h0m1 0h0m1 0h0m1 0h0m1 0h0m1 0h0m1 0h0m1 0h0m1 0h0m1 0h0m1 0h0m1 0h0m1 0h0m1 0h0m1 0h0m2 0h0m1 0h0m1 0h0m1 0h0m1 0h0m1 0h0m1 0h0m1 0h0m1 0h0m1 0h0m2 0h0m1 0h0m1 0h0m3 0h0m1 0h0m2 0h0m1 0h0m1 0h0m1 0h0m1 0h0m1 0h0m1 0h0m2 0h0m1 0h0m1 0h0m1 0h0m1 0h0m1 0h0m1 0h0m1 0h0m2 0h0m3 0h0m7 0h0m1 0h0m-148 1h0m1 0h0m1 0h0m5 0h0m1 0h0m2 0h0m1 0h0m1 0h0m1 0h0m1 0h0m1 0h0m1 0h0m1 0h0m1 0h0m1 0h0m1 0h0m1 0h0m1 0h0m1 0h0m1 0h0m1 0h0m1 0h0m1 0h0m1 0h0m1 0h0m1 0h0m1 0h0m1 0h0m1 0h0m1 0h0m1 0h0m1 0h0m1 0h0m1 0h0m1 0h0m1 0h0m1 0h0m1 0h0m1 0h0m1 0h0m1 0h0m1 0h0m1 0h0m1 0h0m1 0h0m1 0h0m1 0h0m1 0h0m1 0h0m2 0h0m2 0h0m1 0h0m1 0h0m1 0h0m1 0h0m2 0h0m1 0h0m1 0h0m1 0h0m1 0h0m1 0h0m2 0h0m2 0h0m1 0h0m1 0h0m1 0h0m1 0h0m1 0h0m1 0h0m2 0h0m1 0h0m1 0h0m1 0h0m1 0h0m1 0h0m1 0h0m1 0h0m1 0h0m3 0h0m1 0h0m1 0h0m1 0h0m1 0h0m1 0h0m2 0h0m1 0h0m1 0h0m1 0h0m5 0h0m2 0h0m1 0h0m1 0h0m1 0h0m1 0h0m1 0h0m1 0h0m1 0h0m1 0h0m1 0h0m2 0h0m1 0h0m1 0h0m1 0h0m1 0h0m1 0h0m1 0h0m2 0h0m1 0h0m1 0h0m1 0h0m1 0h0m2 0h0m1 0h0m1 0h0m1 0h0m-136 1h0m1 0h0m2 0h0m1 0h0m3 0h0m1 0h0m1 0h0m1 0h0m2 0h0m1 0h0m1 0h0m1 0h0m1 0h0m1 0h0m1 0h0m1 0h0m1 0h0m1 0h0m1 0h0m1 0h0m1 0h0m1 0h0m1 0h0m1 0h0m1 0h0m1 0h0m1 0h0m1 0h0m1 0h0m1 0h0m1 0h0m1 0h0m1 0h0m1 0h0m1 0h0m1 0h0m1 0h0m1 0h0m1 0h0m1 0h0m1 0h0m1 0h0m1 0h0m1 0h0m1 0h0m1 0h0m1 0h0m1 0h0m1 0h0m1 0h0m1 0h0m1 0h0m1 0h0m1 0h0m1 0h0m1 0h0m1 0h0m1 0h0m1 0h0m1 0h0m1 0h0m1 0h0m1 0h0m1 0h0m1 0h0m2 0h0m1 0h0m1 0h0m1 0h0m2 0h0m2 0h0m1 0h0m1 0h0m1 0h0m1 0h0m3 0h0m1 0h0m1 0h0m1 0h0m2 0h0m2 0h0m4 0h0m3 0h0m1 0h0m1 0h0m1 0h0m2 0h0m4 0h0m1 0h0m1 0h0m1 0h0m2 0h0m1 0h0m2 0h0m2 0h0m1 0h0m1 0h0m1 0h0m3 0h0m1 0h0m1 0h0m2 0h0m1 0h0m2 0h0m3 0h0m1 0h0m1 0h0m2 0h0m-136 1h0m1 0h0m2 0h0m1 0h0m2 0h0m1 0h0m1 0h0m1 0h0m1 0h0m1 0h0m1 0h0m1 0h0m1 0h0m1 0h0m1 0h0m1 0h0m1 0h0m1 0h0m1 0h0m1 0h0m1 0h0m1 0h0m1 0h0m1 0h0m1 0h0m1 0h0m1 0h0m1 0h0m1 0h0m1 0h0m1 0h0m1 0h0m1 0h0m1 0h0m1 0h0m1 0h0m1 0h0m1 0h0m1 0h0m1 0h0m1 0h0m1 0h0m1 0h0m1 0h0m1 0h0m1 0h0m2 0h0m1 0h0m1 0h0m2 0h0m1 0h0m1 0h0m1 0h0m1 0h0m1 0h0m1 0h0m1 0h0m2 0h0m1 0h0m1 0h0m1 0h0m1 0h0m1 0h0m1 0h0m1 0h0m1 0h0m1 0h0m1 0h0m2 0h0m1 0h0m1 0h0m1 0h0m1 0h0m1 0h0m1 0h0m2 0h0m1 0h0m1 0h0m1 0h0m3 0h0m1 0h0m1 0h0m1 0h0m1 0h0m2 0h0m1 0h0m1 0h0m2 0h0m2 0h0m1 0h0m1 0h0m1 0h0m1 0h0m1 0h0m1 0h0m3 0h0m1 0h0m1 0h0m2 0h0m2 0h0m2 0h0m1 0h0m1 0h0m2 0h0m1 0h0m1 0h0m1 0h0m1 0h0m2 0h0m1 0h0m1 0h0m1 0h0m3 0h0m2 0h0m2 0h0m-138 1h0m1 0h0m1 0h0m2 0h0m2 0h0m1 0h0m2 0h0m1 0h0m1 0h0m1 0h0m1 0h0m1 0h0m1 0h0m1 0h0m1 0h0m1 0h0m1 0h0m1 0h0m1 0h0m1 0h0m1 0h0m1 0h0m1 0h0m1 0h0m1 0h0m1 0h0m1 0h0m1 0h0m1 0h0m1 0h0m1 0h0m1 0h0m1 0h0m1 0h0m1 0h0m1 0h0m1 0h0m1 0h0m1 0h0m1 0h0m1 0h0m1 0h0m1 0h0m1 0h0m1 0h0m1 0h0m1 0h0m2 0h0m1 0h0m2 0h0m1 0h0m2 0h0m1 0h0m2 0h0m1 0h0m1 0h0m2 0h0m1 0h0m1 0h0m1 0h0m2 0h0m1 0h0m1 0h0m1 0h0m1 0h0m1 0h0m2 0h0m2 0h0m2 0h0m1 0h0m4 0h0m3 0h0m1 0h0m1 0h0m1 0h0m1 0h0m1 0h0m1 0h0m2 0h0m3 0h0m1 0h0m2 0h0m2 0h0m1 0h0m1 0h0m1 0h0m2 0h0m1 0h0m1 0h0m1 0h0m4 0h0m1 0h0m1 0h0m3 0h0m1 0h0m2 0h0m5 0h0m1 0h0m1 0h0m2 0h0m1 0h0m1 0h0m2 0h0m-137 1h0m1 0h0m3 0h0m2 0h0m2 0h0m1 0h0m2 0h0m1 0h0m1 0h0m2 0h0m1 0h0m1 0h0m1 0h0m1 0h0m1 0h0m1 0h0m1 0h0m1 0h0m1 0h0m1 0h0m1 0h0m1 0h0m1 0h0m1 0h0m1 0h0m1 0h0m1 0h0m1 0h0m1 0h0m1 0h0m1 0h0m1 0h0m1 0h0m1 0h0m1 0h0m1 0h0m1 0h0m1 0h0m1 0h0m1 0h0m1 0h0m1 0h0m1 0h0m1 0h0m1 0h0m2 0h0m2 0h0m1 0h0m3 0h0m1 0h0m3 0h0m1 0h0m3 0h0m1 0h0m2 0h0m1 0h0m1 0h0m1 0h0m1 0h0m1 0h0m2 0h0m1 0h0m1 0h0m3 0h0m1 0h0m1 0h0m1 0h0m4 0h0m1 0h0m3 0h0m1 0h0m1 0h0m2 0h0m1 0h0m1 0h0m3 0h0m1 0h0m1 0h0m2 0h0m1 0h0m1 0h0m1 0h0m1 0h0m1 0h0m1 0h0m1 0h0m3 0h0m1 0h0m1 0h0m3 0h0m2 0h0m2 0h0m1 0h0m3 0h0m3 0h0m1 0h0m-131 1h0m2 0h0m1 0h0m1 0h0m1 0h0m1 0h0m1 0h0m3 0h0m1 0h0m1 0h0m1 0h0m1 0h0m1 0h0m1 0h0m1 0h0m1 0h0m1 0h0m1 0h0m1 0h0m1 0h0m1 0h0m1 0h0m1 0h0m1 0h0m1 0h0m1 0h0m1 0h0m1 0h0m1 0h0m1 0h0m1 0h0m1 0h0m1 0h0m1 0h0m1 0h0m1 0h0m1 0h0m1 0h0m1 0h0m1 0h0m1 0h0m1 0h0m1 0h0m2 0h0m1 0h0m1 0h0m1 0h0m3 0h0m1 0h0m1 0h0m1 0h0m1 0h0m1 0h0m4 0h0m1 0h0m1 0h0m1 0h0m1 0h0m2 0h0m1 0h0m2 0h0m1 0h0m1 0h0m1 0h0m1 0h0m1 0h0m1 0h0m2 0h0m2 0h0m1 0h0m3 0h0m1 0h0m2 0h0m2 0h0m1 0h0m1 0h0m3 0h0m1 0h0m1 0h0m1 0h0m1 0h0m2 0h0m1 0h0m2 0h0m1 0h0m1 0h0m4 0h0m2 0h0m4 0h0m1 0h0m2 0h0m1 0h0m1 0h0m4 0h0m2 0h0m2 0h0m-129 1h0m1 0h0m1 0h0m10 0h0m1 0h0m1 0h0m1 0h0m1 0h0m1 0h0m1 0h0m1 0h0m1 0h0m1 0h0m1 0h0m1 0h0m1 0h0m1 0h0m1 0h0m1 0h0m1 0h0m1 0h0m1 0h0m1 0h0m1 0h0m1 0h0m1 0h0m1 0h0m1 0h0m1 0h0m1 0h0m1 0h0m1 0h0m1 0h0m1 0h0m1 0h0m1 0h0m1 0h0m1 0h0m1 0h0m1 0h0m3 0h0m3 0h0m1 0h0m2 0h0m6 0h0m1 0h0m1 0h0m2 0h0m1 0h0m2 0h0m2 0h0m3 0h0m3 0h0m1 0h0m1 0h0m1 0h0m4 0h0m1 0h0m4 0h0m1 0h0m5 0h0m1 0h0m2 0h0m1 0h0m1 0h0m2 0h0m1 0h0m1 0h0m1 0h0m1 0h0m2 0h0m1 0h0m2 0h0m4 0h0m2 0h0m1 0h0m1 0h0m1 0h0m2 0h0m1 0h0m1 0h0m1 0h0m1 0h0m2 0h0m1 0h0m4 0h0m-135 1h0m1 0h0m2 0h0m3 0h0m1 0h0m4 0h0m2 0h0m1 0h0m1 0h0m1 0h0m1 0h0m1 0h0m1 0h0m1 0h0m1 0h0m1 0h0m1 0h0m1 0h0m1 0h0m1 0h0m1 0h0m1 0h0m1 0h0m1 0h0m1 0h0m1 0h0m1 0h0m1 0h0m1 0h0m1 0h0m1 0h0m1 0h0m1 0h0m1 0h0m1 0h0m1 0h0m1 0h0m1 0h0m1 0h0m2 0h0m1 0h0m1 0h0m2 0h0m2 0h0m1 0h0m1 0h0m1 0h0m3 0h0m3 0h0m1 0h0m3 0h0m2 0h0m1 0h0m6 0h0m1 0h0m1 0h0m1 0h0m1 0h0m2 0h0m2 0h0m1 0h0m1 0h0m2 0h0m6 0h0m6 0h0m3 0h0m3 0h0m2 0h0m2 0h0m3 0h0m2 0h0m1 0h0m1 0h0m1 0h0m3 0h0m2 0h0m3 0h0m1 0h0m1 0h0m1 0h0m2 0h0m6 0h0m-135 1h0m1 0h0m5 0h0m1 0h0m1 0h0m1 0h0m1 0h0m1 0h0m1 0h0m2 0h0m1 0h0m1 0h0m1 0h0m1 0h0m1 0h0m1 0h0m1 0h0m1 0h0m1 0h0m1 0h0m1 0h0m1 0h0m1 0h0m1 0h0m1 0h0m1 0h0m1 0h0m1 0h0m1 0h0m1 0h0m1 0h0m1 0h0m1 0h0m1 0h0m1 0h0m1 0h0m1 0h0m1 0h0m1 0h0m1 0h0m1 0h0m2 0h0m2 0h0m1 0h0m3 0h0m1 0h0m3 0h0m1 0h0m4 0h0m1 0h0m1 0h0m1 0h0m9 0h0m3 0h0m3 0h0m6 0h0m5 0h0m2 0h0m2 0h0m1 0h0m2 0h0m1 0h0m5 0h0m5 0h0m3 0h0m2 0h0m4 0h0m1 0h0m1 0h0m2 0h0m1 0h0m1 0h0m2 0h0m-127 1h0m1 0h0m1 0h0m8 0h0m1 0h0m1 0h0m1 0h0m1 0h0m1 0h0m1 0h0m1 0h0m1 0h0m1 0h0m1 0h0m1 0h0m1 0h0m1 0h0m1 0h0m1 0h0m1 0h0m1 0h0m1 0h0m1 0h0m1 0h0m1 0h0m1 0h0m1 0h0m1 0h0m1 0h0m1 0h0m1 0h0m1 0h0m1 0h0m1 0h0m1 0h0m1 0h0m1 0h0m1 0h0m1 0h0m1 0h0m1 0h0m1 0h0m3 0h0m2 0h0m1 0h0m2 0h0m3 0h0m7 0h0m4 0h0m2 0h0m1 0h0m2 0h0m1 0h0m1 0h0m1 0h0m2 0h0m1 0h0m1 0h0m6 0h0m1 0h0m4 0h0m2 0h0m3 0h0m3 0h0m1 0h0m1 0h0m1 0h0m1 0h0m2 0h0m1 0h0m2 0h0m1 0h0m1 0h0m1 0h0m2 0h0m1 0h0m3 0h0m3 0h0m2 0h0m2 0h0m5 0h0m1 0h0m-132 1h0m1 0h0m5 0h0m4 0h0m1 0h0m1 0h0m1 0h0m1 0h0m1 0h0m1 0h0m1 0h0m1 0h0m1 0h0m1 0h0m1 0h0m1 0h0m1 0h0m1 0h0m1 0h0m1 0h0m1 0h0m1 0h0m1 0h0m1 0h0m1 0h0m1 0h0m1 0h0m1 0h0m1 0h0m1 0h0m1 0h0m1 0h0m1 0h0m1 0h0m1 0h0m1 0h0m1 0h0m2 0h0m1 0h0m1 0h0m1 0h0m1 0h0m2 0h0m1 0h0m1 0h0m3 0h0m1 0h0m2 0h0m4 0h0m3 0h0m3 0h0m2 0h0m2 0h0m5 0h0m4 0h0m2 0h0m3 0h0m2 0h0m4 0h0m2 0h0m2 0h0m1 0h0m3 0h0m1 0h0m3 0h0m2 0h0m5 0h0m2 0h0m2 0h0m1 0h0m2 0h0m2 0h0m1 0h0m2 0h0m1 0h0m1 0h0m5 0h0m1 0h0m-130 1h0m3 0h0m2 0h0m1 0h0m1 0h0m3 0h0m1 0h0m2 0h0m1 0h0m1 0h0m1 0h0m1 0h0m2 0h0m1 0h0m1 0h0m1 0h0m1 0h0m1 0h0m1 0h0m1 0h0m1 0h0m1 0h0m1 0h0m1 0h0m1 0h0m1 0h0m1 0h0m1 0h0m1 0h0m1 0h0m1 0h0m1 0h0m1 0h0m1 0h0m1 0h0m2 0h0m1 0h0m1 0h0m1 0h0m1 0h0m4 0h0m1 0h0m3 0h0m2 0h0m3 0h0m1 0h0m3 0h0m3 0h0m2 0h0m3 0h0m4 0h0m8 0h0m1 0h0m3 0h0m4 0h0m4 0h0m1 0h0m1 0h0m2 0h0m1 0h0m1 0h0m1 0h0m1 0h0m5 0h0m7 0h0m1 0h0m3 0h0m2 0h0m5 0h0m6 0h0m-135 1h0m1 0h0m1 0h0m1 0h0m1 0h0m5 0h0m3 0h0m1 0h0m1 0h0m1 0h0m1 0h0m1 0h0m1 0h0m1 0h0m1 0h0m1 0h0m1 0h0m1 0h0m1 0h0m1 0h0m1 0h0m1 0h0m1 0h0m1 0h0m1 0h0m1 0h0m1 0h0m1 0h0m2 0h0m1 0h0m1 0h0m1 0h0m1 0h0m1 0h0m1 0h0m2 0h0m1 0h0m1 0h0m4 0h0m5 0h0m5 0h0m3 0h0m1 0h0m2 0h0m1 0h0m2 0h0m2 0h0m1 0h0m3 0h0m2 0h0m1 0h0m2 0h0m9 0h0m2 0h0m1 0h0m1 0h0m1 0h0m1 0h0m1 0h0m7 0h0m1 0h0m8 0h0m1 0h0m1 0h0m1 0h0m8 0h0m1 0h0m13 0h0m-135 1h0m1 0h0m6 0h0m1 0h0m5 0h0m1 0h0m1 0h0m1 0h0m1 0h0m1 0h0m1 0h0m1 0h0m1 0h0m1 0h0m1 0h0m1 0h0m1 0h0m1 0h0m1 0h0m1 0h0m1 0h0m1 0h0m1 0h0m1 0h0m1 0h0m1 0h0m1 0h0m1 0h0m2 0h0m1 0h0m1 0h0m1 0h0m1 0h0m1 0h0m1 0h0m1 0h0m1 0h0m4 0h0m2 0h0m2 0h0m3 0h0m2 0h0m1 0h0m1 0h0m1 0h0m4 0h0m4 0h0m3 0h0m1 0h0m2 0h0m1 0h0m11 0h0m1 0h0m1 0h0m1 0h0m1 0h0m2 0h0m7 0h0m12 0h0m1 0h0m3 0h0m1 0h0m1 0h0m3 0h0m-123 1h0m1 0h0m7 0h0m3 0h0m3 0h0m2 0h0m1 0h0m1 0h0m1 0h0m1 0h0m1 0h0m1 0h0m1 0h0m1 0h0m1 0h0m1 0h0m1 0h0m1 0h0m1 0h0m1 0h0m1 0h0m1 0h0m1 0h0m1 0h0m1 0h0m1 0h0m1 0h0m1 0h0m1 0h0m1 0h0m1 0h0m1 0h0m2 0h0m2 0h0m1 0h0m4 0h0m2 0h0m2 0h0m4 0h0m3 0h0m2 0h0m3 0h0m3 0h0m2 0h0m2 0h0m5 0h0m1 0h0m4 0h0m1 0h0m1 0h0m6 0h0m2 0h0m7 0h0m4 0h0m6 0h0m2 0h0m1 0h0m1 0h0m1 0h0m2 0h0m1 0h0m1 0h0m2 0h0m4 0h0m1 0h0m1 0h0m5 0h0m-131 1h0m6 0h0m1 0h0m1 0h0m1 0h0m4 0h0m3 0h0m1 0h0m1 0h0m1 0h0m1 0h0m1 0h0m1 0h0m1 0h0m1 0h0m1 0h0m1 0h0m1 0h0m1 0h0m1 0h0m1 0h0m1 0h0m1 0h0m2 0h0m1 0h0m1 0h0m2 0h0m1 0h0m2 0h0m1 0h0m1 0h0m1 0h0m1 0h0m1 0h0m4 0h0m3 0h0m1 0h0m1 0h0m3 0h0m4 0h0m1 0h0m1 0h0m6 0h0m6 0h0m2 0h0m7 0h0m5 0h0m13 0h0m1 0h0m3 0h0m2 0h0m1 0h0m2 0h0m8 0h0m1 0h0m3 0h0m1 0h0m1 0h0m2 0h0m1 0h0m3 0h0m-133 1h0m1 0h0m3 0h0m1 0h0m1 0h0m2 0h0m1 0h0m7 0h0m1 0h0m1 0h0m1 0h0m1 0h0m1 0h0m1 0h0m1 0h0m1 0h0m1 0h0m1 0h0m1 0h0m1 0h0m1 0h0m1 0h0m1 0h0m1 0h0m1 0h0m1 0h0m1 0h0m1 0h0m2 0h0m1 0h0m1 0h0m1 0h0m2 0h0m2 0h0m6 0h0m1 0h0m3 0h0m1 0h0m1 0h0m1 0h0m4 0h0m3 0h0m1 0h0m2 0h0m1 0h0m2 0h0m2 0h0m5 0h0m2 0h0m1 0h0m3 0h0m1 0h0m1 0h0m6 0h0m2 0h0m9 0h0m2 0h0m2 0h0m2 0h0m1 0h0m1 0h0m1 0h0m1 0h0m1 0h0m3 0h0m1 0h0m1 0h0m2 0h0m7 0h0m3 0h0m1 0h0m-133 1h0m5 0h0m2 0h0m7 0h0m1 0h0m1 0h0m1 0h0m1 0h0m1 0h0m1 0h0m1 0h0m1 0h0m1 0h0m1 0h0m1 0h0m1 0h0m1 0h0m1 0h0m1 0h0m1 0h0m1 0h0m1 0h0m1 0h0m1 0h0m1 0h0m1 0h0m1 0h0m1 0h0m1 0h0m1 0h0m1 0h0m2 0h0m1 0h0m2 0h0m6 0h0m4 0h0m8 0h0m2 0h0m1 0h0m2 0h0m1 0h0m2 0h0m2 0h0m1 0h0m4 0h0m1 0h0m1 0h0m1 0h0m4 0h0m1 0h0m1 0h0m6 0h0m2 0h0m1 0h0m2 0h0m1 0h0m1 0h0m3 0h0m2 0h0m3 0h0m4 0h0m3 0h0m2 0h0m1 0h0m2 0h0m1 0h0m1 0h0m1 0h0m1 0h0m12 0h0m-130 1h0m1 0h0m5 0h0m1 0h0m1 0h0m1 0h0m1 0h0m1 0h0m1 0h0m1 0h0m2 0h0m1 0h0m1 0h0m1 0h0m1 0h0m1 0h0m1 0h0m1 0h0m1 0h0m1 0h0m1 0h0m1 0h0m1 0h0m1 0h0m1 0h0m1 0h0m1 0h0m1 0h0m1 0h0m1 0h0m5 0h0m7 0h0m4 0h0m3 0h0m8 0h0m1 0h0m2 0h0m2 0h0m8 0h0m2 0h0m2 0h0m7 0h0m1 0h0m1 0h0m2 0h0m1 0h0m3 0h0m4 0h0m3 0h0m6 0h0m5 0h0m3 0h0m1 0h0m3 0h0m4 0h0m1 0h0m-116 1h0m1 0h0m2 0h0m1 0h0m1 0h0m1 0h0m1 0h0m1 0h0m1 0h0m1 0h0m2 0h0m1 0h0m1 0h0m1 0h0m1 0h0m1 0h0m1 0h0m1 0h0m1 0h0m1 0h0m1 0h0m1 0h0m2 0h0m2 0h0m1 0h0m1 0h0m1 0h0m1 0h0m1 0h0m7 0h0m1 0h0m5 0h0m1 0h0m1 0h0m19 0h0m3 0h0m2 0h0m1 0h0m1 0h0m1 0h0m1 0h0m4 0h0m2 0h0m2 0h0m1 0h0m1 0h0m5 0h0m1 0h0m2 0h0m1 0h0m5 0h0m8 0h0m4 0h0m1 0h0m3 0h0m1 0h0m4 0h0m1 0h0m-121 1h0m2 0h0m1 0h0m2 0h0m1 0h0m2 0h0m1 0h0m1 0h0m1 0h0m1 0h0m1 0h0m1 0h0m1 0h0m1 0h0m1 0h0m2 0h0m1 0h0m1 0h0m1 0h0m1 0h0m1 0h0m2 0h0m1 0h0m2 0h0m3 0h0m1 0h0m1 0h0m5 0h0m7 0h0m5 0h0m4 0h0m7 0h0m5 0h0m1 0h0m4 0h0m1 0h0m2 0h0m1 0h0m1 0h0m1 0h0m1 0h0m6 0h0m5 0h0m2 0h0m3 0h0m4 0h0m1 0h0m7 0h0m1 0h0m1 0h0m1 0h0m2 0h0m3 0h0m4 0h0m1 0h0m2 0h0m-123 1h0m2 0h0m1 0h0m2 0h0m2 0h0m1 0h0m1 0h0m1 0h0m1 0h0m1 0h0m2 0h0m1 0h0m1 0h0m1 0h0m1 0h0m1 0h0m1 0h0m1 0h0m1 0h0m1 0h0m1 0h0m1 0h0m1 0h0m2 0h0m1 0h0m1 0h0m1 0h0m1 0h0m1 0h0m2 0h0m4 0h0m2 0h0m6 0h0m1 0h0m4 0h0m1 0h0m1 0h0m2 0h0m1 0h0m5 0h0m2 0h0m4 0h0m4 0h0m1 0h0m6 0h0m2 0h0m9 0h0m2 0h0m1 0h0m4 0h0m1 0h0m9 0h0m2 0h0m3 0h0m13 0h0m-126 1h0m3 0h0m2 0h0m1 0h0m1 0h0m1 0h0m1 0h0m2 0h0m1 0h0m1 0h0m1 0h0m1 0h0m1 0h0m1 0h0m2 0h0m1 0h0m1 0h0m1 0h0m1 0h0m1 0h0m1 0h0m1 0h0m1 0h0m1 0h0m2 0h0m1 0h0m2 0h0m1 0h0m1 0h0m4 0h0m1 0h0m1 0h0m1 0h0m1 0h0m4 0h0m5 0h0m1 0h0m3 0h0m4 0h0m3 0h0m1 0h0m1 0h0m9 0h0m1 0h0m8 0h0m5 0h0m2 0h0m1 0h0m2 0h0m2 0h0m3 0h0m1 0h0m10 0h0m1 0h0m15 0h0m1 0h0m-138 1h0m12 0h0m2 0h0m1 0h0m1 0h0m1 0h0m2 0h0m1 0h0m1 0h0m1 0h0m1 0h0m1 0h0m1 0h0m1 0h0m1 0h0m1 0h0m1 0h0m1 0h0m1 0h0m3 0h0m1 0h0m1 0h0m2 0h0m1 0h0m1 0h0m3 0h0m1 0h0m1 0h0m1 0h0m1 0h0m6 0h0m3 0h0m1 0h0m8 0h0m2 0h0m1 0h0m3 0h0m1 0h0m1 0h0m3 0h0m2 0h0m3 0h0m2 0h0m1 0h0m6 0h0m5 0h0m2 0h0m4 0h0m1 0h0m8 0h0m4 0h0m1 0h0m5 0h0m5 0h0m4 0h0m2 0h0m1 0h0m4 0h0m1 0h0m-137 1h0m1 0h0m12 0h0m1 0h0m4 0h0m1 0h0m1 0h0m1 0h0m2 0h0m1 0h0m1 0h0m1 0h0m1 0h0m1 0h0m1 0h0m1 0h0m1 0h0m1 0h0m1 0h0m1 0h0m1 0h0m1 0h0m1 0h0m1 0h0m1 0h0m4 0h0m2 0h0m2 0h0m1 0h0m6 0h0m3 0h0m5 0h0m1 0h0m1 0h0m1 0h0m2 0h0m6 0h0m1 0h0m8 0h0m9 0h0m1 0h0m4 0h0m1 0h0m4 0h0m1 0h0m1 0h0m17 0h0m1 0h0m2 0h0m1 0h0m4 0h0m2 0h0m1 0h0m4 0h0m-133 1h0m4 0h0m1 0h0m1 0h0m6 0h0m6 0h0m1 0h0m1 0h0m1 0h0m1 0h0m1 0h0m2 0h0m1 0h0m1 0h0m1 0h0m1 0h0m1 0h0m1 0h0m1 0h0m1 0h0m1 0h0m1 0h0m1 0h0m1 0h0m1 0h0m1 0h0m1 0h0m7 0h0m6 0h0m7 0h0m1 0h0m1 0h0m1 0h0m5 0h0m1 0h0m2 0h0m1 0h0m14 0h0m7 0h0m1 0h0m3 0h0m1 0h0m8 0h0m15 0h0m1 0h0m10 0h0m-127 1h0m1 0h0m1 0h0m6 0h0m4 0h0m1 0h0m1 0h0m2 0h0m1 0h0m1 0h0m1 0h0m1 0h0m1 0h0m1 0h0m1 0h0m1 0h0m1 0h0m1 0h0m2 0h0m1 0h0m1 0h0m1 0h0m2 0h0m1 0h0m1 0h0m3 0h0m4 0h0m6 0h0m16 0h0m1 0h0m4 0h0m4 0h0m5 0h0m1 0h0m1 0h0m1 0h0m5 0h0m1 0h0m4 0h0m1 0h0m2 0h0m18 0h0m1 0h0m3 0h0m1 0h0m1 0h0m-110 1h0m2 0h0m2 0h0m1 0h0m1 0h0m1 0h0m1 0h0m1 0h0m1 0h0m1 0h0m1 0h0m2 0h0m4 0h0m1 0h0m1 0h0m1 0h0m1 0h0m1 0h0m1 0h0m1 0h0m1 0h0m1 0h0m1 0h0m1 0h0m1 0h0m3 0h0m2 0h0m1 0h0m3 0h0m7 0h0m1 0h0m2 0h0m3 0h0m9 0h0m4 0h0m4 0h0m1 0h0m5 0h0m2 0h0m3 0h0m1 0h0m2 0h0m1 0h0m1 0h0m15 0h0m4 0h0m1 0h0m10 0h0m-129 1h0m13 0h0m2 0h0m2 0h0m1 0h0m2 0h0m1 0h0m2 0h0m1 0h0m1 0h0m1 0h0m1 0h0m2 0h0m1 0h0m1 0h0m1 0h0m1 0h0m2 0h0m1 0h0m3 0h0m1 0h0m4 0h0m4 0h0m1 0h0m1 0h0m10 0h0m2 0h0m4 0h0m8 0h0m1 0h0m13 0h0m1 0h0m1 0h0m6 0h0m16 0h0m1 0h0m1 0h0m14 0h0m4 0h0m-117 1h0m2 0h0m2 0h0m4 0h0m1 0h0m1 0h0m2 0h0m1 0h0m2 0h0m1 0h0m1 0h0m1 0h0m2 0h0m1 0h0m1 0h0m3 0h0m3 0h0m2 0h0m3 0h0m7 0h0m6 0h0m4 0h0m2 0h0m7 0h0m7 0h0m8 0h0m1 0h0m12 0h0m6 0h0m5 0h0m1 0h0m9 0h0m8 0h0m1 0h0m1 0h0m-125 1h0m1 0h0m6 0h0m1 0h0m1 0h0m3 0h0m2 0h0m1 0h0m1 0h0m1 0h0m1 0h0m1 0h0m1 0h0m2 0h0m1 0h0m1 0h0m3 0h0m2 0h0m4 0h0m3 0h0m2 0h0m10 0h0m11 0h0m6 0h0m1 0h0m1 0h0m5 0h0m2 0h0m13 0h0m1 0h0m5 0h0m6 0h0m2 0h0m5 0h0m1 0h0m8 0h0m-114 1h0m6 0h0m1 0h0m4 0h0m2 0h0m1 0h0m1 0h0m1 0h0m1 0h0m1 0h0m1 0h0m1 0h0m1 0h0m1 0h0m1 0h0m1 0h0m1 0h0m1 0h0m1 0h0m2 0h0m1 0h0m1 0h0m1 0h0m3 0h0m1 0h0m14 0h0m1 0h0m49 0h0m1 0h0m6 0h0m7 0h0m1 0h0m1 0h0m-112 1h0m1 0h0m2 0h0m1 0h0m3 0h0m2 0h0m1 0h0m1 0h0m3 0h0m1 0h0m1 0h0m1 0h0m2 0h0m1 0h0m1 0h0m1 0h0m4 0h0m2 0h0m18 0h0m4 0h0m26 0h0m1 0h0m25 0h0m9 0h0m6 0h0m4 0h0m-121 1h0m3 0h0m3 0h0m2 0h0m1 0h0m1 0h0m1 0h0m1 0h0m1 0h0m1 0h0m1 0h0m1 0h0m2 0h0m2 0h0m1 0h0m1 0h0m1 0h0m2 0h0m2 0h0m6 0h0m16 0h0m10 0h0m18 0h0m3 0h0m38 0h0m2 0h0m-118 1h0m2 0h0m2 0h0m3 0h0m2 0h0m2 0h0m1 0h0m1 0h0m2 0h0m1 0h0m6 0h0m3 0h0m1 0h0m1 0h0m4 0h0m1 0h0m14 0h0m10 0h0m1 0h0m8 0h0m4 0h0m48 0h0m1 0h0m-118 1h0m1 0h0m1 0h0m1 0h0m1 0h0m1 0h0m2 0h0m1 0h0m2 0h0m1 0h0m1 0h0m1 0h0m1 0h0m1 0h0m1 0h0m1 0h0m2 0h0m2 0h0m1 0h0m3 0h0m1 0h0m5 0h0m14 0h0m2 0h0m1 0h0m30 0h0m21 0h0m1 0h0m17 0h0m1 0h0m-121 1h0m1 0h0m3 0h0m1 0h0m1 0h0m1 0h0m2 0h0m1 0h0m1 0h0m1 0h0m1 0h0m1 0h0m2 0h0m2 0h0m2 0h0m1 0h0m2 0h0m1 0h0m4 0h0m1 0h0m4 0h0m32 0h0m15 0h0m1 0h0m40 0h0m-120 1h0m6 0h0m1 0h0m1 0h0m1 0h0m1 0h0m1 0h0m1 0h0m2 0h0m1 0h0m1 0h0m2 0h0m1 0h0m1 0h0m1 0h0m2 0h0m1 0h0m4 0h0m3 0h0m33 0h0m8 0h0m1 0h0m-69 1h0m1 0h0m3 0h0m1 0h0m1 0h0m2 0h0m1 0h0m1 0h0m1 0h0m2 0h0m1 0h0m1 0h0m2 0h0m7 0h0m24 0h0m12 0h0m8 0h0m2 0h0m1 0h0m8 0h0m4 0h0m32 0h0m1 0h0m-115 1h0m2 0h0m1 0h0m1 0h0m1 0h0m1 0h0m4 0h0m3 0h0m1 0h0m1 0h0m3 0h0m3 0h0m1 0h0m36 0h0m11 0h0m8 0h0m1 0h0m3 0h0m1 0h0m33 0h0m-112 1h0m1 0h0m1 0h0m5 0h0m2 0h0m1 0h0m2 0h0m2 0h0m1 0h0m3 0h0m1 0h0m81 0h0m1 0h0m-103 1h0m1 0h0m1 0h0m2 0h0m1 0h0m3 0h0m1 0h0m2 0h0m3 0h0m3 0h0m4 0h0m82 0h0m-102 1h0m2 0h0m2 0h0m3 0h0m2 0h0m3 0h0m1 0h0m1 0h0m6 0h0m1 0h0m1 0h0m1 0h0m-20 1h0m2 0h0m1 0h0m2 0h0m3 0h0m4 0h0m-13 1h0m3 0h0m1 0h0m1 0h0m2 0h0m1 0h0m1 0h0m4 0h0m-10 1h0m1 0h0m2 0h0m6 0h0m-5 1h0m72 0h0m-75 1h0m1 0h0m-17 1h0m5 0h0m12 0h0m-18 1h0m1 0h0m18 0h0m1 0h0m1 1h0m-1 1h0m1 32h0m-4 1h0m1 0h0m3 0h0m1 0h0m10 0h0m-14 1h0m13 0h0m-12 3h0m0 1h0m1 0h0m-9 1h0m0 1h0m10 7h0m-9 1h0m1 1h0m53 0h0m-1 1h0m2 0h0m-1 1h0m-37 3h0m-10 1h0m9 0h0m1 0h0" stroke="#151515" stroke-width="1.2" stroke-linecap="square" fill="none"/><path d="M100.5 351.5h0m-14 5h0m-9 1h0m3 2h0m18 3h0m15 2h0m-20 1h0m-7 1h0m11 0h0m15 0h0m-45 1h0m23 0h0m10 0h0m-17 1h0m-7 1h0m20 0h0m1 0h0m-26 1h0m3 0h0m14 0h0m6 0h0m8 0h0m-38 1h0m1 0h0m11 0h0m14 0h0m4 0h0m-13 1h0m3 0h0m42 0h0m-60 1h0m8 0h0m2 0h0m1 0h0m4 0h0m5 0h0m3 0h0m2 0h0m10 0h0m21 0h0m3 0h0m-32 1h0m-3 1h0m10 0h0m5 0h0m5 0h0m-50 1h0m4 0h0m5 0h0m28 0h0m14 0h0m6 0h0m27 0h0m-86 1h0m19 0h0m16 0h0m14 0h0m32 0h0m12 0h0m-88 1h0m4 0h0m16 0h0m22 0h0m2 0h0m7 0h0m21 0h0m23 0h0m3 0h0m16 0h0m-119 1h0m3 0h0m2 0h0m6 0h0m41 0h0m17 0h0m2 0h0m8 0h0m41 0h0m3 0h0m-120 1h0m5 0h0m52 0h0m13 0h0m3 0h0m5 0h0m3 0h0m34 0h0m-42 1h0m18 0h0m10 0h0m23 0h0m2 0h0m2 0h0m-128 1h0m4 0h0m79 0h0m23 0h0m6 0h0m7 0h0m-117 1h0m55 0h0m24 0h0m47 0h0m3 0h0m-62 1h0m6 0h0m13 0h0m15 0h0m7 0h0m9 0h0m2 0h0m2 0h0m25 0h0m-143 1h0m76 0h0m1 0h0m2 0h0m24 0h0m20 0h0m5 0h0m8 0h0m-64 1h0m12 0h0m21 0h0m29 0h0m-54 1h0m50 0h0m4 1h0m-4 1h0m2 0h0m0 3h0m0 4h0m2 0h0m-4 4h0m6 0h0m-4 1h0m3 1h0m-4 1h0m2 1h0m4 2h0m9 0h0m-11 1h0m1 1h0m5 0h0m-10 1h0m2 0h0m2 2h0m-7 1h0m9 0h0m-136 1h0m52 0h0m86 0h0m-142 1h0m66 0h0m61 0h0m-71 1h0m30 0h0m44 0h0m-67 1h0m16 0h0m53 0h0m2 0h0m4 0h0m-139 1h0m125 0h0m6 0h0m-51 1h0m-33 1h0m77 0h0m-79 1h0m49 0h0m2 0h0m5 0h0m3 0h0m17 0h0m5 0h0m2 0h0m4 0h0m5 0h0m-72 1h0m14 0h0m14 0h0m-47 1h0m49 0h0m50 0h0m-88 1h0m30 0h0m47 0h0m-89 1h0m40 0h0m47 0h0m-135 1h0m9 0h0m2 0h0m51 0h0m15 0h0m37 0h0m12 0h0m14 0h0m-136 1h0m44 0h0m8 0h0m14 0h0m2 0h0m29 0h0m30 0h0m5 0h0m9 0h0m-146 1h0m2 0h0m4 0h0m3 0h0m106 0h0m2 0h0m-113 1h0m4 0h0m48 0h0m6 0h0m11 0h0m45 0h0m12 0h0m-81 1h0m50 0h0m9 0h0m20 0h0m5 0h0m2 0h0m11 0h0m-136 1h0m49 0h0m21 0h0m9 0h0m4 0h0m20 0h0m5 0h0m8 0h0m13 0h0m-136 1h0m75 0h0m7 0h0m19 0h0m3 0h0m9 0h0m-104 1h0m4 0h0m43 0h0m17 0h0m4 0h0m2 0h0m8 0h0m21 0h0m7 0h0m9 0h0m6 0h0m8 0h0m4 0h0m-144 1h0m67 0h0m10 0h0m26 0h0m5 0h0m5 0h0m15 0h0m2 0h0m6 0h0m2 0h0m-133 1h0m59 0h0m57 0h0m5 0h0m12 0h0m6 0h0m4 0h0m-147 1h0m51 0h0m4 0h0m13 0h0m2 0h0m7 0h0m9 0h0m13 0h0m3 0h0m7 0h0m14 0h0m20 0h0m-145 1h0m14 0h0m45 0h0m6 0h0m19 0h0m11 0h0m12 0h0m13 0h0m7 0h0m2 0h0m2 0h0m11 0h0m-136 1h0m6 0h0m75 0h0m11 0h0m14 0h0m9 0h0m-72 1h0m5 0h0m4 0h0m6 0h0m2 0h0m2 0h0m5 0h0m5 0h0m3 0h0m14 0h0m6 0h0m27 0h0m6 0h0m6 0h0m-131 1h0m3 0h0m39 0h0m15 0h0m4 0h0m5 0h0m4 0h0m10 0h0m9 0h0m16 0h0m9 0h0m-117 1h0m5 0h0m48 0h0m11 0h0m11 0h0m4 0h0m8 0h0m2 0h0m5 0h0m17 0h0m3 0h0m8 0h0m2 0h0m12 0h0m-137 1h0m9 0h0m42 0h0m10 0h0m24 0h0m14 0h0m1 0h0m4 0h0m2 0h0m3 0h0m6 0h0m6 0h0m-114 1h0m46 0h0m2 0h0m15 0h0m2 0h0m4 0h0m5 0h0m12 0h0m14 0h0m5 0h0m6 0h0m4 0h0m-75 1h0m3 0h0m10 0h0m8 0h0m15 0h0m4 0h0m10 0h0m-93 1h0m7 0h0m28 0h0m12 0h0m11 0h0m9 0h0m4 0h0m24 0h0m8 0h0m3 0h0m6 0h0m7 0h0m-81 1h0m16 0h0m10 0h0m9 0h0m38 0h0m10 0h0m1 0h0m10 0h0m-129 1h0m40 0h0m3 0h0m12 0h0m3 0h0m6 0h0m28 0h0m1 0h0m9 0h0m-104 1h0m8 0h0m28 0h0m1 0h0m11 0h0m13 0h0m13 0h0m3 0h0m7 0h0m4 0h0m9 0h0m3 0h0m-103 1h0m2 0h0m4 0h0m1 0h0m2 0h0m23 0h0m11 0h0m9 0h0m22 0h0m19 0h0m7 0h0m-62 1h0m22 0h0m13 0h0m10 0h0m2 0h0m24 0h0m5 0h0m8 0h0m-112 1h0m45 0h0m11 0h0m35 0h0m6 0h0m11 0h0m6 0h0m-115 1h0m4 0h0m2 0h0m27 0h0m39 0h0m6 0h0m29 0h0m-82 1h0m1 0h0m5 0h0m21 0h0m2 0h0m19 0h0m11 0h0m2 0h0m17 0h0m8 0h0m-119 1h0m1 0h0m26 0h0m2 0h0m8 0h0m4 0h0m44 0h0m44 0h0m-125 1h0m5 0h0m6 0h0m7 0h0m2 0h0m36 0h0m25 0h0m6 0h0m2 0h0m14 0h0m-81 1h0m14 0h0m11 0h0m15 0h0m11 0h0m2 0h0m37 0h0m7 0h0m9 0h0m1 0h0m-125 1h0m10 0h0m12 0h0m8 0h0m22 0h0m-43 1h0m44 0h0m-50 1h0m2 0h0m33 0h0m26 0h0m-57 1h0m7 0h0m6 0h0m45 0h0m45 0h0m6 0h0m-94 1h0m75 0h0m-44 2h0m12 0h0m-60 1h0m12 0h0m-6 1h0m4 0h0m3 1h0m-6 1h0m15 0h0m6 0h0m-32 1h0m2 0h0m9 0h0m8 0h0m1 0h0m81 0h0m-87 1h0m2 0h0m13 0h0m33 0h0m-69 1h0m73 0h0m-69 1h0m32 0h0m-17 1h0m11 1h0m-18 1h0m63 0h0m-52 1h0m10 0h0m-30 1h0m43 0h0m-43 1h0m4 0h0m12 0h0m-12 1h0m28 0h0m-16 1h0m38 0h0m-40 1h0m5 0h0m11 0h0m10 0h0m24 1h0m13 0h0m2 0h0m-53 1h0m9 0h0m5 0h0m-31 1h0m4 0h0m7 0h0m4 0h0m5 0h0m12 0h0m21 0h0m-56 1h0m1 0h0m17 0h0m10 0h0m26 0h0m-34 1h0m20 0h0m6 0h0m-44 1h0m6 0h0m8 0h0m8 0h0m3 0h0m23 0h0m14 0h0m1 0h0m-64 1h0m3 0h0m-14 1h0m24 0h0m3 0h0m1 0h0m13 0h0m24 0h0m6 0h0m18 0h0m-72 1h0m3 0h0m3 0h0m17 0h0m7 0h0m11 0h0m10 0h0m9 0h0m-65 1h0m19 0h0m7 0h0m12 0h0m23 0h0m-58 1h0m12 0h0m16 0h0m3 1h0m25 0h0m-64 1h0m10 0h0m12 0h0m5 0h0m19 0h0m12 0h0m4 0h0m11 0h0m3 0h0m-71 1h0m2 0h0m6 0h0m9 0h0m2 0h0m36 0h0m-67 1h0m18 0h0m18 0h0m7 0h0m6 0h0m11 0h0m4 0h0m8 0h0m7 0h0m-84 1h0m14 0h0m27 0h0m16 0h0m5 0h0m5 0h0m5 0h0m20 0h0m-96 1h0m3 0h0m18 0h0m13 0h0m8 0h0m5 0h0m28 0h0m-63 1h0m23 0h0m38 0h0m15 0h0m-61 1h0m4 0h0m-11 1h0m3 0h0m4 0h0m3 0h0m4 0h0m2 0h0m1 0h0m9 0h0m6 0h0m6 0h0m36 0h0m-45 1h0m13 0h0m8 0h0m-44 1h0m1 0h0m3 0h0m32 0h0m5 0h0m3 0h0m8 0h0m20 0h0m-77 1h0m8 0h0m5 0h0m17 0h0m7 0h0m34 0h0m-64 2h0m3 0h0m3 0h0m7 0h0m25 0h0m3 0h0m4 0h0m5 0h0m2 0h0m-61 1h0m2 0h0m8 0h0m4 0h0m-8 1h0m6 0h0m23 0h0m22 0h0m-47 1h0m29 0h0m1 0h0m30 0h0m6 0h0m-78 1h0m7 0h0m9 0h0m2 1h0m6 0h0m-27 1h0m11 0h0m4 0h0m16 0h0m5 0h0m17 0h0m17 0h0m12 0h0m-88 1h0m47 0h0m26 0h0m-53 1h0m5 0h0m33 0h0m6 0h0m-53 1h0m4 0h0m19 0h0m23 0h0m-48 1h0m11 0h0m3 0h0m-18 1h0m51 0h0m4 0h0m-57 1h0m11 0h0m21 0h0m10 0h0m8 0h0m6 0h0m22 0h0m-68 1h0m55 0h0m4 0h0m12 0h0m-63 1h0m33 0h0m32 0h0m-25 2h0m13 0h0m2 0h0m-20 3h0m5 0h0m29 0h0m-39 1h0m38 0h0" stroke="#606060" stroke-width="1.35" stroke-linecap="square" fill="none"/>
<rect x="57.5" y="328.8" width="198.00" height="197.20" fill="none" stroke="#222" stroke-width="1.3"/>
<line x1="117" y1="328.8" x2="117" y2="526" stroke="#111" stroke-width="1.3"/>
<line x1="57.5" y1="460.7" x2="255.5" y2="460.7" stroke="#111" stroke-width="1.3"/>
<text x="60.50" y="343.90" font-size="16.6" font-weight="700" text-anchor="start" fill="#000" >71<tspan dx="1.1">,</tspan><tspan dx="1.3">12</tspan></text>
<text x="254.50" y="343.90" font-size="16.6" font-weight="700" text-anchor="end" fill="#000" >27<tspan dx="1.1">,</tspan><tspan dx="1.3">81</tspan></text>
<text x="60.70" y="523.40" font-size="16.6" font-weight="700" text-anchor="start" fill="#000" >0<tspan dx="1.1">,</tspan><tspan dx="1.3">76</tspan></text>
<text x="254.50" y="523.40" font-size="16.6" font-weight="700" text-anchor="end" fill="#000" >0<tspan dx="1.1">,</tspan><tspan dx="1.3">31</tspan></text>
<path d="M57.50 526.00v5.2M57.50 526.00h-5.2M72.40 526.00v3.0M57.50 511.16h-3.0M81.12 526.00v3.0M57.50 502.48h-3.0M87.30 526.00v3.0M57.50 496.32h-3.0M92.10 526.00v3.0M57.50 491.54h-3.0M96.02 526.00v3.0M57.50 487.64h-3.0M99.33 526.00v3.0M57.50 484.34h-3.0M102.20 526.00v3.0M57.50 481.48h-3.0M104.74 526.00v3.0M57.50 478.96h-3.0M107.00 526.00v5.2M57.50 476.70h-5.2M121.90 526.00v3.0M57.50 461.86h-3.0M130.62 526.00v3.0M57.50 453.18h-3.0M136.80 526.00v3.0M57.50 447.02h-3.0M141.60 526.00v3.0M57.50 442.24h-3.0M145.52 526.00v3.0M57.50 438.34h-3.0M148.83 526.00v3.0M57.50 435.04h-3.0M151.70 526.00v3.0M57.50 432.18h-3.0M154.24 526.00v3.0M57.50 429.66h-3.0M156.50 526.00v5.2M57.50 427.40h-5.2M171.40 526.00v3.0M57.50 412.56h-3.0M180.12 526.00v3.0M57.50 403.88h-3.0M186.30 526.00v3.0M57.50 397.72h-3.0M191.10 526.00v3.0M57.50 392.94h-3.0M195.02 526.00v3.0M57.50 389.04h-3.0M198.33 526.00v3.0M57.50 385.74h-3.0M201.20 526.00v3.0M57.50 382.88h-3.0M203.74 526.00v3.0M57.50 380.36h-3.0M206.00 526.00v5.2M57.50 378.10h-5.2M220.90 526.00v3.0M57.50 363.26h-3.0M229.62 526.00v3.0M57.50 354.58h-3.0M235.80 526.00v3.0M57.50 348.42h-3.0M240.60 526.00v3.0M57.50 343.64h-3.0M244.52 526.00v3.0M57.50 339.74h-3.0M247.83 526.00v3.0M57.50 336.44h-3.0M250.70 526.00v3.0M57.50 333.58h-3.0M253.24 526.00v3.0M57.50 331.06h-3.0" stroke="#444" stroke-width="0.9" fill="none"/>
<text x="60.90" y="549.50" font-size="10.6" text-anchor="end" fill="#222">10</text>
<text x="59.80" y="543.50" font-size="10.6" fill="#222">0</text>
<text x="45.70" y="533.50" font-size="10.6" text-anchor="end" fill="#222">10</text>
<text x="44.60" y="527.70" font-size="10.6" fill="#222">0</text>
<text x="110.40" y="549.50" font-size="10.6" text-anchor="end" fill="#222">10</text>
<text x="109.30" y="543.50" font-size="10.6" fill="#222">1</text>
<text x="45.70" y="484.20" font-size="10.6" text-anchor="end" fill="#222">10</text>
<text x="44.60" y="478.40" font-size="10.6" fill="#222">1</text>
<text x="159.90" y="549.50" font-size="10.6" text-anchor="end" fill="#222">10</text>
<text x="158.80" y="543.50" font-size="10.6" fill="#222">2</text>
<text x="45.70" y="434.90" font-size="10.6" text-anchor="end" fill="#222">10</text>
<text x="44.60" y="429.10" font-size="10.6" fill="#222">2</text>
<text x="209.40" y="549.50" font-size="10.6" text-anchor="end" fill="#222">10</text>
<text x="208.30" y="543.50" font-size="10.6" fill="#222">3</text>
<text x="45.70" y="385.60" font-size="10.6" text-anchor="end" fill="#222">10</text>
<text x="44.60" y="379.80" font-size="10.6" fill="#222">3</text>
<text x="333.30" y="318.50" font-size="16.9" font-weight="400" text-anchor="start" fill="#111" >Autologous MM cells</text>
<path d="M353.5 360.5h0m-1 1h0m1 0h0m1 0h0m1 1h0m-11 2h0m1 0h0m4 0h0m3 0h0m11 0h0m-19 1h0m3 0h0m1 0h0m3 0h0m1 0h0m1 0h0m6 0h0m1 0h0m3 0h0m-24 1h0m1 0h0m1 0h0m4 0h0m2 0h0m3 0h0m5 0h0m5 0h0m59 0h0m1 0h0m-80 1h0m1 0h0m1 0h0m3 0h0m3 0h0m1 0h0m1 0h0m3 0h0m1 0h0m2 0h0m1 0h0m1 0h0m2 0h0m59 0h0m-79 1h0m2 0h0m1 0h0m1 0h0m1 0h0m1 0h0m1 0h0m1 0h0m3 0h0m1 0h0m1 0h0m2 0h0m2 0h0m1 0h0m3 0h0m1 0h0m1 0h0m60 0h0m-87 1h0m6 0h0m1 0h0m1 0h0m1 0h0m1 0h0m3 0h0m2 0h0m2 0h0m1 0h0m3 0h0m1 0h0m5 0h0m20 0h0m-48 1h0m1 0h0m1 0h0m1 0h0m1 0h0m3 0h0m1 0h0m1 0h0m2 0h0m1 0h0m1 0h0m1 0h0m1 0h0m1 0h0m1 0h0m1 0h0m1 0h0m3 0h0m1 0h0m1 0h0m1 0h0m5 0h0m9 0h0m8 0h0m1 0h0m-53 1h0m5 0h0m3 0h0m2 0h0m1 0h0m1 0h0m1 0h0m1 0h0m1 0h0m1 0h0m1 0h0m1 0h0m1 0h0m1 0h0m1 0h0m1 0h0m1 0h0m1 0h0m1 0h0m2 0h0m1 0h0m1 0h0m1 0h0m1 0h0m3 0h0m18 0h0m13 0h0m-65 1h0m1 0h0m1 0h0m2 0h0m3 0h0m1 0h0m1 0h0m1 0h0m1 0h0m1 0h0m1 0h0m1 0h0m1 0h0m1 0h0m1 0h0m1 0h0m2 0h0m1 0h0m1 0h0m2 0h0m2 0h0m1 0h0m1 0h0m1 0h0m1 0h0m4 0h0m1 0h0m24 0h0m5 0h0m2 0h0m12 0h0m-81 1h0m1 0h0m4 0h0m2 0h0m1 0h0m2 0h0m1 0h0m1 0h0m2 0h0m1 0h0m1 0h0m1 0h0m1 0h0m1 0h0m1 0h0m1 0h0m1 0h0m1 0h0m1 0h0m1 0h0m1 0h0m3 0h0m2 0h0m1 0h0m5 0h0m24 0h0m5 0h0m1 0h0m2 0h0m12 0h0m13 0h0m-94 1h0m1 0h0m6 0h0m2 0h0m2 0h0m1 0h0m1 0h0m1 0h0m1 0h0m1 0h0m1 0h0m1 0h0m1 0h0m1 0h0m1 0h0m1 0h0m1 0h0m1 0h0m1 0h0m1 0h0m1 0h0m1 0h0m3 0h0m1 0h0m1 0h0m1 0h0m2 0h0m2 0h0m1 0h0m10 0h0m1 0h0m10 0h0m7 0h0m1 0h0m12 0h0m7 0h0m7 0h0m-98 1h0m6 0h0m1 0h0m1 0h0m1 0h0m1 0h0m1 0h0m1 0h0m1 0h0m1 0h0m1 0h0m1 0h0m1 0h0m1 0h0m1 0h0m1 0h0m1 0h0m1 0h0m1 0h0m1 0h0m1 0h0m1 0h0m1 0h0m1 0h0m1 0h0m2 0h0m1 0h0m1 0h0m1 0h0m5 0h0m2 0h0m3 0h0m1 0h0m8 0h0m2 0h0m1 0h0m4 0h0m3 0h0m2 0h0m6 0h0m4 0h0m4 0h0m5 0h0m6 0h0m2 0h0m1 0h0m4 0h0m1 0h0m2 0h0m4 0h0m1 0h0m1 0h0m11 0h0m-116 1h0m4 0h0m1 0h0m2 0h0m1 0h0m2 0h0m1 0h0m1 0h0m1 0h0m1 0h0m1 0h0m1 0h0m1 0h0m1 0h0m1 0h0m1 0h0m1 0h0m1 0h0m1 0h0m1 0h0m1 0h0m1 0h0m1 0h0m1 0h0m1 0h0m1 0h0m1 0h0m1 0h0m1 0h0m2 0h0m1 0h0m1 0h0m1 0h0m1 0h0m5 0h0m2 0h0m7 0h0m1 0h0m6 0h0m1 0h0m2 0h0m6 0h0m1 0h0m4 0h0m2 0h0m1 0h0m1 0h0m3 0h0m1 0h0m2 0h0m8 0h0m4 0h0m7 0h0m1 0h0m-108 1h0m1 0h0m3 0h0m1 0h0m2 0h0m1 0h0m1 0h0m1 0h0m1 0h0m2 0h0m1 0h0m1 0h0m1 0h0m1 0h0m1 0h0m1 0h0m1 0h0m1 0h0m1 0h0m1 0h0m1 0h0m1 0h0m1 0h0m1 0h0m1 0h0m1 0h0m1 0h0m1 0h0m1 0h0m2 0h0m1 0h0m1 0h0m2 0h0m1 0h0m1 0h0m1 0h0m10 0h0m2 0h0m2 0h0m1 0h0m2 0h0m2 0h0m8 0h0m6 0h0m3 0h0m1 0h0m2 0h0m2 0h0m4 0h0m1 0h0m1 0h0m1 0h0m8 0h0m9 0h0m2 0h0m-109 1h0m1 0h0m5 0h0m2 0h0m1 0h0m2 0h0m1 0h0m1 0h0m1 0h0m1 0h0m1 0h0m1 0h0m1 0h0m1 0h0m1 0h0m1 0h0m1 0h0m1 0h0m1 0h0m1 0h0m1 0h0m1 0h0m1 0h0m1 0h0m1 0h0m1 0h0m1 0h0m1 0h0m1 0h0m2 0h0m1 0h0m2 0h0m1 0h0m1 0h0m1 0h0m2 0h0m1 0h0m6 0h0m1 0h0m2 0h0m1 0h0m1 0h0m1 0h0m1 0h0m2 0h0m2 0h0m6 0h0m8 0h0m1 0h0m1 0h0m1 0h0m1 0h0m2 0h0m2 0h0m3 0h0m1 0h0m2 0h0m2 0h0m1 0h0m1 0h0m1 0h0m1 0h0m2 0h0m2 0h0m1 0h0m1 0h0m1 0h0m1 0h0m2 0h0m1 0h0m2 0h0m7 0h0m1 0h0m-111 1h0m2 0h0m1 0h0m3 0h0m1 0h0m1 0h0m1 0h0m1 0h0m1 0h0m1 0h0m1 0h0m1 0h0m1 0h0m1 0h0m1 0h0m1 0h0m1 0h0m1 0h0m1 0h0m1 0h0m1 0h0m1 0h0m1 0h0m1 0h0m1 0h0m1 0h0m1 0h0m2 0h0m1 0h0m1 0h0m1 0h0m2 0h0m1 0h0m1 0h0m1 0h0m5 0h0m4 0h0m1 0h0m2 0h0m6 0h0m3 0h0m1 0h0m1 0h0m1 0h0m8 0h0m1 0h0m3 0h0m1 0h0m3 0h0m2 0h0m1 0h0m2 0h0m1 0h0m1 0h0m1 0h0m4 0h0m3 0h0m1 0h0m2 0h0m2 0h0m1 0h0m1 0h0m1 0h0m1 0h0m2 0h0m5 0h0m1 0h0m-110 1h0m1 0h0m1 0h0m1 0h0m1 0h0m1 0h0m1 0h0m1 0h0m1 0h0m1 0h0m1 0h0m1 0h0m1 0h0m1 0h0m1 0h0m1 0h0m1 0h0m1 0h0m1 0h0m1 0h0m1 0h0m1 0h0m1 0h0m1 0h0m1 0h0m1 0h0m1 0h0m1 0h0m1 0h0m2 0h0m1 0h0m2 0h0m1 0h0m3 0h0m1 0h0m2 0h0m1 0h0m1 0h0m1 0h0m4 0h0m3 0h0m5 0h0m1 0h0m2 0h0m1 0h0m6 0h0m4 0h0m4 0h0m1 0h0m3 0h0m4 0h0m1 0h0m4 0h0m1 0h0m5 0h0m1 0h0m1 0h0m3 0h0m1 0h0m2 0h0m1 0h0m2 0h0m1 0h0m5 0h0m2 0h0m-114 1h0m1 0h0m1 0h0m1 0h0m1 0h0m1 0h0m1 0h0m1 0h0m1 0h0m1 0h0m1 0h0m1 0h0m1 0h0m1 0h0m1 0h0m1 0h0m1 0h0m1 0h0m1 0h0m1 0h0m1 0h0m1 0h0m1 0h0m1 0h0m1 0h0m1 0h0m1 0h0m1 0h0m1 0h0m1 0h0m1 0h0m1 0h0m1 0h0m1 0h0m3 0h0m1 0h0m1 0h0m3 0h0m2 0h0m2 0h0m1 0h0m1 0h0m1 0h0m1 0h0m2 0h0m1 0h0m1 0h0m5 0h0m1 0h0m1 0h0m1 0h0m3 0h0m4 0h0m3 0h0m1 0h0m1 0h0m1 0h0m3 0h0m2 0h0m1 0h0m1 0h0m1 0h0m1 0h0m1 0h0m6 0h0m1 0h0m4 0h0m1 0h0m3 0h0m1 0h0m3 0h0m1 0h0m1 0h0m3 0h0m7 0h0m-116 1h0m2 0h0m2 0h0m1 0h0m1 0h0m1 0h0m1 0h0m1 0h0m1 0h0m1 0h0m1 0h0m1 0h0m1 0h0m1 0h0m1 0h0m1 0h0m1 0h0m1 0h0m1 0h0m1 0h0m1 0h0m1 0h0m1 0h0m1 0h0m1 0h0m1 0h0m1 0h0m1 0h0m1 0h0m2 0h0m1 0h0m1 0h0m2 0h0m1 0h0m1 0h0m4 0h0m3 0h0m1 0h0m2 0h0m2 0h0m4 0h0m1 0h0m3 0h0m2 0h0m3 0h0m1 0h0m2 0h0m1 0h0m1 0h0m1 0h0m1 0h0m4 0h0m2 0h0m1 0h0m1 0h0m3 0h0m2 0h0m2 0h0m4 0h0m3 0h0m3 0h0m3 0h0m4 0h0m1 0h0m12 0h0m-115 1h0m2 0h0m1 0h0m1 0h0m1 0h0m1 0h0m1 0h0m1 0h0m1 0h0m1 0h0m1 0h0m1 0h0m1 0h0m1 0h0m1 0h0m1 0h0m1 0h0m1 0h0m1 0h0m1 0h0m1 0h0m1 0h0m1 0h0m1 0h0m1 0h0m1 0h0m1 0h0m1 0h0m1 0h0m1 0h0m1 0h0m1 0h0m1 0h0m1 0h0m2 0h0m4 0h0m2 0h0m1 0h0m9 0h0m1 0h0m1 0h0m1 0h0m4 0h0m1 0h0m1 0h0m1 0h0m1 0h0m1 0h0m1 0h0m2 0h0m1 0h0m3 0h0m3 0h0m1 0h0m1 0h0m1 0h0m1 0h0m1 0h0m1 0h0m2 0h0m1 0h0m1 0h0m1 0h0m1 0h0m2 0h0m2 0h0m1 0h0m3 0h0m1 0h0m2 0h0m1 0h0m2 0h0m1 0h0m2 0h0m1 0h0m-107 1h0m4 0h0m2 0h0m1 0h0m1 0h0m1 0h0m1 0h0m1 0h0m1 0h0m1 0h0m1 0h0m1 0h0m1 0h0m1 0h0m1 0h0m1 0h0m1 0h0m1 0h0m1 0h0m1 0h0m1 0h0m1 0h0m1 0h0m1 0h0m1 0h0m1 0h0m1 0h0m1 0h0m1 0h0m1 0h0m1 0h0m1 0h0m2 0h0m2 0h0m1 0h0m1 0h0m1 0h0m1 0h0m1 0h0m1 0h0m1 0h0m1 0h0m4 0h0m1 0h0m1 0h0m2 0h0m1 0h0m3 0h0m1 0h0m1 0h0m1 0h0m1 0h0m3 0h0m2 0h0m1 0h0m2 0h0m1 0h0m1 0h0m1 0h0m1 0h0m2 0h0m2 0h0m3 0h0m1 0h0m1 0h0m1 0h0m3 0h0m2 0h0m3 0h0m1 0h0m1 0h0m1 0h0m1 0h0m2 0h0m1 0h0m1 0h0m1 0h0m1 0h0m1 0h0m5 0h0m1 0h0m1 0h0m2 0h0m1 0h0m1 0h0m-116 1h0m1 0h0m1 0h0m1 0h0m1 0h0m1 0h0m1 0h0m1 0h0m1 0h0m1 0h0m1 0h0m1 0h0m1 0h0m1 0h0m1 0h0m1 0h0m1 0h0m1 0h0m1 0h0m1 0h0m1 0h0m1 0h0m1 0h0m1 0h0m1 0h0m1 0h0m1 0h0m1 0h0m1 0h0m1 0h0m1 0h0m1 0h0m1 0h0m1 0h0m1 0h0m1 0h0m1 0h0m1 0h0m2 0h0m1 0h0m2 0h0m1 0h0m1 0h0m3 0h0m1 0h0m3 0h0m2 0h0m1 0h0m1 0h0m1 0h0m5 0h0m1 0h0m1 0h0m1 0h0m1 0h0m1 0h0m1 0h0m1 0h0m1 0h0m2 0h0m1 0h0m1 0h0m5 0h0m1 0h0m2 0h0m5 0h0m1 0h0m3 0h0m3 0h0m2 0h0m1 0h0m2 0h0m2 0h0m3 0h0m1 0h0m1 0h0m1 0h0m2 0h0m3 0h0m2 0h0m2 0h0m-115 1h0m1 0h0m3 0h0m2 0h0m1 0h0m1 0h0m1 0h0m1 0h0m1 0h0m1 0h0m1 0h0m1 0h0m1 0h0m1 0h0m1 0h0m1 0h0m1 0h0m1 0h0m1 0h0m1 0h0m1 0h0m1 0h0m1 0h0m1 0h0m1 0h0m1 0h0m1 0h0m1 0h0m1 0h0m1 0h0m1 0h0m1 0h0m1 0h0m1 0h0m1 0h0m1 0h0m2 0h0m1 0h0m1 0h0m6 0h0m7 0h0m1 0h0m1 0h0m1 0h0m1 0h0m2 0h0m1 0h0m3 0h0m2 0h0m3 0h0m1 0h0m2 0h0m1 0h0m6 0h0m1 0h0m1 0h0m1 0h0m2 0h0m1 0h0m4 0h0m3 0h0m1 0h0m1 0h0m3 0h0m1 0h0m1 0h0m1 0h0m3 0h0m2 0h0m1 0h0m2 0h0m6 0h0m-114 1h0m1 0h0m4 0h0m1 0h0m1 0h0m1 0h0m1 0h0m1 0h0m1 0h0m1 0h0m1 0h0m1 0h0m1 0h0m1 0h0m1 0h0m1 0h0m1 0h0m1 0h0m1 0h0m1 0h0m1 0h0m1 0h0m1 0h0m1 0h0m1 0h0m1 0h0m1 0h0m1 0h0m2 0h0m1 0h0m1 0h0m1 0h0m1 0h0m2 0h0m1 0h0m2 0h0m4 0h0m1 0h0m1 0h0m3 0h0m1 0h0m1 0h0m1 0h0m1 0h0m2 0h0m2 0h0m2 0h0m2 0h0m1 0h0m1 0h0m1 0h0m1 0h0m1 0h0m2 0h0m1 0h0m2 0h0m5 0h0m1 0h0m1 0h0m1 0h0m1 0h0m1 0h0m1 0h0m1 0h0m1 0h0m1 0h0m1 0h0m1 0h0m1 0h0m1 0h0m1 0h0m1 0h0m5 0h0m1 0h0m1 0h0m2 0h0m1 0h0m3 0h0m1 0h0m2 0h0m7 0h0m1 0h0m-117 1h0m1 0h0m1 0h0m1 0h0m1 0h0m1 0h0m1 0h0m1 0h0m1 0h0m1 0h0m1 0h0m1 0h0m1 0h0m1 0h0m1 0h0m1 0h0m1 0h0m1 0h0m1 0h0m1 0h0m1 0h0m1 0h0m1 0h0m1 0h0m1 0h0m1 0h0m1 0h0m1 0h0m1 0h0m1 0h0m1 0h0m1 0h0m1 0h0m1 0h0m1 0h0m1 0h0m1 0h0m1 0h0m4 0h0m1 0h0m1 0h0m3 0h0m1 0h0m4 0h0m1 0h0m1 0h0m1 0h0m1 0h0m1 0h0m3 0h0m1 0h0m1 0h0m2 0h0m1 0h0m1 0h0m1 0h0m1 0h0m2 0h0m2 0h0m1 0h0m1 0h0m1 0h0m1 0h0m4 0h0m1 0h0m5 0h0m1 0h0m1 0h0m1 0h0m1 0h0m1 0h0m1 0h0m1 0h0m2 0h0m1 0h0m1 0h0m1 0h0m1 0h0m1 0h0m2 0h0m2 0h0m1 0h0m1 0h0m1 0h0m1 0h0m1 0h0m1 0h0m1 0h0m1 0h0m2 0h0m1 0h0m5 0h0m2 0h0m1 0h0m-122 1h0m1 0h0m2 0h0m2 0h0m1 0h0m1 0h0m1 0h0m1 0h0m1 0h0m1 0h0m1 0h0m1 0h0m1 0h0m1 0h0m1 0h0m1 0h0m1 0h0m1 0h0m1 0h0m1 0h0m1 0h0m1 0h0m1 0h0m1 0h0m1 0h0m1 0h0m1 0h0m1 0h0m1 0h0m1 0h0m1 0h0m1 0h0m1 0h0m1 0h0m1 0h0m1 0h0m1 0h0m1 0h0m3 0h0m1 0h0m1 0h0m1 0h0m4 0h0m1 0h0m3 0h0m2 0h0m1 0h0m2 0h0m1 0h0m1 0h0m1 0h0m2 0h0m1 0h0m1 0h0m1 0h0m1 0h0m1 0h0m1 0h0m3 0h0m1 0h0m2 0h0m1 0h0m1 0h0m1 0h0m1 0h0m2 0h0m2 0h0m1 0h0m3 0h0m3 0h0m1 0h0m1 0h0m3 0h0m4 0h0m2 0h0m2 0h0m4 0h0m1 0h0m1 0h0m2 0h0m1 0h0m1 0h0m7 0h0m1 0h0m-123 1h0m1 0h0m1 0h0m1 0h0m1 0h0m1 0h0m1 0h0m1 0h0m2 0h0m1 0h0m1 0h0m1 0h0m1 0h0m1 0h0m1 0h0m1 0h0m1 0h0m1 0h0m1 0h0m1 0h0m1 0h0m1 0h0m1 0h0m1 0h0m1 0h0m1 0h0m1 0h0m1 0h0m1 0h0m1 0h0m1 0h0m1 0h0m1 0h0m1 0h0m1 0h0m1 0h0m3 0h0m2 0h0m3 0h0m3 0h0m1 0h0m1 0h0m1 0h0m1 0h0m1 0h0m2 0h0m1 0h0m2 0h0m1 0h0m1 0h0m2 0h0m2 0h0m1 0h0m2 0h0m1 0h0m2 0h0m1 0h0m1 0h0m1 0h0m1 0h0m2 0h0m1 0h0m2 0h0m1 0h0m1 0h0m2 0h0m2 0h0m2 0h0m1 0h0m2 0h0m1 0h0m3 0h0m2 0h0m1 0h0m2 0h0m1 0h0m2 0h0m1 0h0m1 0h0m1 0h0m2 0h0m1 0h0m3 0h0m2 0h0m1 0h0m2 0h0m7 0h0m1 0h0m-119 1h0m2 0h0m1 0h0m1 0h0m1 0h0m1 0h0m1 0h0m1 0h0m1 0h0m1 0h0m1 0h0m1 0h0m1 0h0m1 0h0m1 0h0m1 0h0m1 0h0m1 0h0m1 0h0m1 0h0m1 0h0m1 0h0m1 0h0m1 0h0m1 0h0m1 0h0m1 0h0m1 0h0m2 0h0m1 0h0m1 0h0m2 0h0m1 0h0m1 0h0m1 0h0m1 0h0m1 0h0m1 0h0m1 0h0m2 0h0m1 0h0m2 0h0m1 0h0m1 0h0m1 0h0m2 0h0m1 0h0m1 0h0m1 0h0m1 0h0m1 0h0m3 0h0m1 0h0m5 0h0m1 0h0m1 0h0m2 0h0m1 0h0m1 0h0m1 0h0m1 0h0m1 0h0m2 0h0m1 0h0m1 0h0m6 0h0m2 0h0m1 0h0m4 0h0m1 0h0m1 0h0m1 0h0m1 0h0m2 0h0m1 0h0m1 0h0m1 0h0m1 0h0m1 0h0m2 0h0m1 0h0m1 0h0m1 0h0m2 0h0m2 0h0m4 0h0m-124 1h0m7 0h0m1 0h0m1 0h0m2 0h0m1 0h0m1 0h0m1 0h0m1 0h0m1 0h0m1 0h0m1 0h0m1 0h0m1 0h0m1 0h0m1 0h0m1 0h0m1 0h0m1 0h0m1 0h0m1 0h0m1 0h0m1 0h0m1 0h0m1 0h0m1 0h0m1 0h0m1 0h0m1 0h0m1 0h0m1 0h0m1 0h0m1 0h0m1 0h0m1 0h0m5 0h0m1 0h0m3 0h0m2 0h0m3 0h0m1 0h0m1 0h0m1 0h0m1 0h0m2 0h0m4 0h0m1 0h0m2 0h0m1 0h0m1 0h0m1 0h0m1 0h0m1 0h0m1 0h0m1 0h0m1 0h0m3 0h0m1 0h0m3 0h0m1 0h0m2 0h0m1 0h0m4 0h0m2 0h0m1 0h0m1 0h0m1 0h0m1 0h0m1 0h0m1 0h0m3 0h0m2 0h0m1 0h0m1 0h0m1 0h0m3 0h0m2 0h0m1 0h0m3 0h0m2 0h0m1 0h0m1 0h0m-112 1h0m1 0h0m3 0h0m1 0h0m1 0h0m1 0h0m1 0h0m1 0h0m1 0h0m1 0h0m1 0h0m1 0h0m1 0h0m1 0h0m1 0h0m1 0h0m1 0h0m1 0h0m1 0h0m1 0h0m1 0h0m1 0h0m1 0h0m1 0h0m1 0h0m1 0h0m1 0h0m1 0h0m1 0h0m1 0h0m1 0h0m1 0h0m1 0h0m1 0h0m7 0h0m3 0h0m1 0h0m3 0h0m1 0h0m1 0h0m1 0h0m2 0h0m1 0h0m1 0h0m1 0h0m1 0h0m4 0h0m1 0h0m2 0h0m1 0h0m1 0h0m1 0h0m1 0h0m1 0h0m1 0h0m1 0h0m1 0h0m2 0h0m1 0h0m1 0h0m1 0h0m4 0h0m2 0h0m2 0h0m1 0h0m1 0h0m1 0h0m1 0h0m1 0h0m1 0h0m3 0h0m1 0h0m1 0h0m1 0h0m2 0h0m1 0h0m1 0h0m3 0h0m1 0h0m3 0h0m1 0h0m1 0h0m1 0h0m5 0h0m1 0h0m-123 1h0m5 0h0m1 0h0m1 0h0m1 0h0m1 0h0m1 0h0m1 0h0m1 0h0m1 0h0m1 0h0m1 0h0m1 0h0m1 0h0m1 0h0m1 0h0m1 0h0m1 0h0m1 0h0m1 0h0m1 0h0m1 0h0m1 0h0m1 0h0m1 0h0m1 0h0m1 0h0m1 0h0m1 0h0m1 0h0m2 0h0m2 0h0m1 0h0m3 0h0m1 0h0m4 0h0m2 0h0m2 0h0m4 0h0m1 0h0m2 0h0m1 0h0m1 0h0m1 0h0m1 0h0m4 0h0m3 0h0m2 0h0m1 0h0m1 0h0m1 0h0m1 0h0m2 0h0m2 0h0m1 0h0m2 0h0m1 0h0m1 0h0m1 0h0m1 0h0m1 0h0m1 0h0m1 0h0m1 0h0m1 0h0m1 0h0m1 0h0m2 0h0m2 0h0m2 0h0m3 0h0m2 0h0m1 0h0m1 0h0m1 0h0m1 0h0m2 0h0m2 0h0m3 0h0m3 0h0m6 0h0m-122 1h0m3 0h0m1 0h0m1 0h0m1 0h0m2 0h0m1 0h0m1 0h0m1 0h0m1 0h0m1 0h0m1 0h0m1 0h0m1 0h0m1 0h0m1 0h0m1 0h0m1 0h0m1 0h0m1 0h0m1 0h0m1 0h0m1 0h0m1 0h0m1 0h0m1 0h0m1 0h0m1 0h0m2 0h0m1 0h0m1 0h0m1 0h0m3 0h0m1 0h0m2 0h0m5 0h0m1 0h0m1 0h0m1 0h0m1 0h0m4 0h0m1 0h0m1 0h0m1 0h0m2 0h0m2 0h0m1 0h0m1 0h0m1 0h0m4 0h0m1 0h0m2 0h0m1 0h0m1 0h0m5 0h0m1 0h0m2 0h0m1 0h0m1 0h0m1 0h0m2 0h0m1 0h0m1 0h0m1 0h0m1 0h0m1 0h0m1 0h0m1 0h0m1 0h0m1 0h0m2 0h0m1 0h0m1 0h0m1 0h0m1 0h0m1 0h0m1 0h0m6 0h0m4 0h0m8 0h0m2 0h0m-123 1h0m1 0h0m1 0h0m1 0h0m1 0h0m1 0h0m1 0h0m1 0h0m1 0h0m1 0h0m1 0h0m1 0h0m1 0h0m1 0h0m1 0h0m1 0h0m1 0h0m1 0h0m1 0h0m1 0h0m1 0h0m1 0h0m1 0h0m1 0h0m1 0h0m1 0h0m1 0h0m1 0h0m1 0h0m1 0h0m1 0h0m1 0h0m2 0h0m1 0h0m2 0h0m3 0h0m1 0h0m5 0h0m2 0h0m1 0h0m2 0h0m1 0h0m2 0h0m2 0h0m1 0h0m1 0h0m2 0h0m1 0h0m1 0h0m1 0h0m1 0h0m1 0h0m4 0h0m2 0h0m9 0h0m2 0h0m3 0h0m1 0h0m1 0h0m2 0h0m3 0h0m2 0h0m1 0h0m1 0h0m1 0h0m1 0h0m3 0h0m1 0h0m2 0h0m1 0h0m1 0h0m3 0h0m1 0h0m5 0h0m1 0h0m1 0h0m2 0h0m6 0h0m-128 1h0m6 0h0m2 0h0m2 0h0m1 0h0m1 0h0m1 0h0m1 0h0m1 0h0m1 0h0m1 0h0m1 0h0m1 0h0m1 0h0m1 0h0m1 0h0m1 0h0m1 0h0m1 0h0m1 0h0m1 0h0m1 0h0m1 0h0m1 0h0m2 0h0m1 0h0m1 0h0m1 0h0m2 0h0m2 0h0m7 0h0m3 0h0m2 0h0m1 0h0m1 0h0m2 0h0m3 0h0m1 0h0m1 0h0m1 0h0m1 0h0m1 0h0m2 0h0m1 0h0m2 0h0m3 0h0m1 0h0m2 0h0m3 0h0m2 0h0m2 0h0m1 0h0m1 0h0m1 0h0m1 0h0m1 0h0m2 0h0m1 0h0m2 0h0m2 0h0m1 0h0m2 0h0m1 0h0m1 0h0m5 0h0m1 0h0m1 0h0m1 0h0m3 0h0m1 0h0m2 0h0m1 0h0m1 0h0m3 0h0m3 0h0m1 0h0m2 0h0m-124 1h0m1 0h0m4 0h0m3 0h0m1 0h0m1 0h0m1 0h0m1 0h0m1 0h0m1 0h0m1 0h0m1 0h0m1 0h0m1 0h0m1 0h0m1 0h0m1 0h0m1 0h0m1 0h0m1 0h0m1 0h0m1 0h0m1 0h0m1 0h0m1 0h0m1 0h0m1 0h0m1 0h0m1 0h0m1 0h0m1 0h0m1 0h0m1 0h0m2 0h0m1 0h0m4 0h0m4 0h0m2 0h0m2 0h0m1 0h0m2 0h0m1 0h0m3 0h0m1 0h0m2 0h0m1 0h0m1 0h0m2 0h0m2 0h0m1 0h0m2 0h0m1 0h0m1 0h0m1 0h0m1 0h0m1 0h0m2 0h0m1 0h0m2 0h0m1 0h0m1 0h0m2 0h0m1 0h0m1 0h0m2 0h0m2 0h0m1 0h0m5 0h0m2 0h0m2 0h0m2 0h0m6 0h0m3 0h0m2 0h0m3 0h0m2 0h0m1 0h0m3 0h0m1 0h0m-123 1h0m2 0h0m1 0h0m2 0h0m1 0h0m2 0h0m3 0h0m1 0h0m1 0h0m1 0h0m1 0h0m1 0h0m1 0h0m1 0h0m1 0h0m1 0h0m1 0h0m1 0h0m1 0h0m1 0h0m1 0h0m1 0h0m1 0h0m1 0h0m1 0h0m1 0h0m1 0h0m1 0h0m1 0h0m1 0h0m2 0h0m1 0h0m2 0h0m1 0h0m1 0h0m1 0h0m7 0h0m1 0h0m3 0h0m2 0h0m2 0h0m2 0h0m5 0h0m1 0h0m2 0h0m1 0h0m4 0h0m2 0h0m2 0h0m1 0h0m1 0h0m3 0h0m1 0h0m1 0h0m1 0h0m4 0h0m1 0h0m1 0h0m1 0h0m1 0h0m3 0h0m1 0h0m2 0h0m1 0h0m1 0h0m1 0h0m1 0h0m1 0h0m3 0h0m3 0h0m1 0h0m4 0h0m2 0h0m4 0h0m3 0h0m-124 1h0m2 0h0m1 0h0m1 0h0m1 0h0m3 0h0m1 0h0m2 0h0m1 0h0m2 0h0m1 0h0m1 0h0m1 0h0m1 0h0m1 0h0m1 0h0m1 0h0m1 0h0m1 0h0m1 0h0m1 0h0m1 0h0m1 0h0m1 0h0m1 0h0m2 0h0m3 0h0m1 0h0m1 0h0m1 0h0m3 0h0m3 0h0m8 0h0m1 0h0m7 0h0m1 0h0m2 0h0m1 0h0m3 0h0m4 0h0m3 0h0m1 0h0m1 0h0m1 0h0m2 0h0m3 0h0m2 0h0m1 0h0m1 0h0m13 0h0m4 0h0m5 0h0m1 0h0m5 0h0m3 0h0m9 0h0m-125 1h0m1 0h0m4 0h0m1 0h0m1 0h0m1 0h0m2 0h0m1 0h0m1 0h0m1 0h0m2 0h0m1 0h0m1 0h0m1 0h0m1 0h0m2 0h0m1 0h0m1 0h0m1 0h0m1 0h0m1 0h0m1 0h0m1 0h0m2 0h0m1 0h0m1 0h0m1 0h0m1 0h0m1 0h0m4 0h0m21 0h0m2 0h0m2 0h0m6 0h0m2 0h0m1 0h0m2 0h0m1 0h0m6 0h0m5 0h0m2 0h0m8 0h0m4 0h0m2 0h0m1 0h0m4 0h0m4 0h0m1 0h0m1 0h0m1 0h0m9 0h0m1 0h0m1 0h0m-120 1h0m1 0h0m1 0h0m1 0h0m1 0h0m1 0h0m1 0h0m1 0h0m2 0h0m1 0h0m1 0h0m1 0h0m1 0h0m1 0h0m1 0h0m1 0h0m1 0h0m1 0h0m1 0h0m1 0h0m1 0h0m1 0h0m1 0h0m3 0h0m1 0h0m3 0h0m1 0h0m19 0h0m5 0h0m1 0h0m2 0h0m1 0h0m1 0h0m3 0h0m3 0h0m5 0h0m1 0h0m1 0h0m4 0h0m4 0h0m1 0h0m9 0h0m4 0h0m2 0h0m2 0h0m1 0h0m1 0h0m1 0h0m1 0h0m4 0h0m-113 1h0m1 0h0m2 0h0m2 0h0m2 0h0m1 0h0m1 0h0m1 0h0m2 0h0m1 0h0m1 0h0m1 0h0m1 0h0m1 0h0m1 0h0m1 0h0m1 0h0m1 0h0m1 0h0m1 0h0m1 0h0m1 0h0m1 0h0m1 0h0m1 0h0m1 0h0m1 0h0m3 0h0m4 0h0m20 0h0m5 0h0m4 0h0m8 0h0m1 0h0m2 0h0m2 0h0m1 0h0m1 0h0m9 0h0m10 0h0m6 0h0m1 0h0m1 0h0m2 0h0m2 0h0m2 0h0m-114 1h0m1 0h0m2 0h0m1 0h0m1 0h0m1 0h0m1 0h0m1 0h0m2 0h0m2 0h0m1 0h0m2 0h0m1 0h0m1 0h0m1 0h0m2 0h0m2 0h0m1 0h0m1 0h0m2 0h0m2 0h0m1 0h0m3 0h0m1 0h0m1 0h0m23 0h0m4 0h0m11 0h0m3 0h0m3 0h0m4 0h0m1 0h0m6 0h0m1 0h0m5 0h0m4 0h0m5 0h0m2 0h0m1 0h0m1 0h0m3 0h0m2 0h0m14 0h0m-127 1h0m1 0h0m2 0h0m2 0h0m2 0h0m1 0h0m1 0h0m1 0h0m2 0h0m1 0h0m1 0h0m1 0h0m1 0h0m1 0h0m1 0h0m1 0h0m1 0h0m1 0h0m1 0h0m1 0h0m1 0h0m1 0h0m1 0h0m1 0h0m1 0h0m1 0h0m2 0h0m2 0h0m1 0h0m1 0h0m34 0h0m2 0h0m1 0h0m1 0h0m1 0h0m2 0h0m4 0h0m1 0h0m2 0h0m17 0h0m2 0h0m1 0h0m1 0h0m7 0h0m15 0h0m1 0h0m-127 1h0m1 0h0m1 0h0m2 0h0m1 0h0m1 0h0m1 0h0m1 0h0m2 0h0m1 0h0m2 0h0m1 0h0m1 0h0m1 0h0m1 0h0m1 0h0m1 0h0m1 0h0m1 0h0m1 0h0m2 0h0m1 0h0m1 0h0m6 0h0m32 0h0m1 0h0m4 0h0m1 0h0m1 0h0m1 0h0m4 0h0m2 0h0m1 0h0m22 0h0m4 0h0m1 0h0m1 0h0m9 0h0m4 0h0m8 0h0m-124 1h0m2 0h0m4 0h0m1 0h0m1 0h0m1 0h0m1 0h0m3 0h0m1 0h0m1 0h0m1 0h0m1 0h0m1 0h0m1 0h0m1 0h0m1 0h0m5 0h0m38 0h0m6 0h0m1 0h0m1 0h0m3 0h0m17 0h0m4 0h0m1 0h0m1 0h0m4 0h0m15 0h0m1 0h0m-121 1h0m4 0h0m1 0h0m1 0h0m1 0h0m1 0h0m1 0h0m1 0h0m1 0h0m1 0h0m3 0h0m1 0h0m1 0h0m2 0h0m1 0h0m2 0h0m1 0h0m5 0h0m1 0h0m1 0h0m4 0h0m32 0h0m8 0h0m35 0h0m4 0h0m1 0h0m7 0h0m-122 1h0m1 0h0m5 0h0m2 0h0m3 0h0m1 0h0m1 0h0m1 0h0m1 0h0m1 0h0m1 0h0m4 0h0m2 0h0m5 0h0m1 0h0m1 0h0m6 0h0m13 0h0m3 0h0m1 0h0m1 0h0m7 0h0m4 0h0m1 0h0m10 0h0m27 0h0m1 0h0m3 0h0m3 0h0m1 0h0m4 0h0m-115 1h0m1 0h0m5 0h0m1 0h0m1 0h0m2 0h0m1 0h0m1 0h0m1 0h0m4 0h0m1 0h0m1 0h0m2 0h0m2 0h0m2 0h0m3 0h0m2 0h0m18 0h0m2 0h0m3 0h0m8 0h0m1 0h0m2 0h0m4 0h0m3 0h0m12 0h0m1 0h0m1 0h0m18 0h0m1 0h0m2 0h0m4 0h0m-110 1h0m1 0h0m5 0h0m1 0h0m1 0h0m1 0h0m2 0h0m1 0h0m2 0h0m1 0h0m1 0h0m1 0h0m1 0h0m3 0h0m3 0h0m1 0h0m24 0h0m12 0h0m4 0h0m2 0h0m1 0h0m3 0h0m1 0h0m12 0h0m26 0h0m1 0h0m-111 1h0m5 0h0m3 0h0m3 0h0m4 0h0m2 0h0m3 0h0m45 0h0m19 0h0m13 0h0m3 0h0m1 0h0m2 0h0m10 0h0m1 0h0m-113 1h0m3 0h0m1 0h0m1 0h0m5 0h0m1 0h0m2 0h0m1 0h0m5 0h0m39 0h0m1 0h0m23 0h0m1 0h0m17 0h0m1 0h0m12 0h0m1 0h0m8 0h0m-122 1h0m1 0h0m6 0h0m6 0h0m6 0h0m7 0h0m32 0h0m8 0h0m15 0h0m41 0h0m1 0h0m-124 1h0m1 0h0m1 0h0m6 0h0m1 0h0m1 0h0m1 0h0m9 0h0m2 0h0m1 0h0m4 0h0m1 0h0m1 0h0m38 0h0m1 0h0m2 0h0m37 0h0m-106 1h0m11 0h0m8 0h0m3 0h0m13 0h0m-36 1h0m1 0h0m1 0h0m19 0h0m2 0h0m1 0h0m11 0h0m1 0h0m-35 1h0m26 0h0m48 0h0m24 0h0m-99 1h0m11 0h0m1 0h0m64 0h0m18 0h0m1 0h0m-95 1h0m12 0h0m8 0h0m57 0h0m3 0h0m1 0h0m1 0h0m13 0h0m-95 1h0m2 0h0m8 0h0m1 0h0m84 0h0m1 0h0m-95 1h0m8 0h0m9 0h0m1 0h0m-19 1h0m1 0h0m1 0h0m1 0h0m5 0h0m7 0h0m1 0h0m2 0h0m3 0h0m-20 1h0m2 0h0m4 0h0m7 0h0m1 0h0m2 0h0m2 0h0m2 0h0m1 0h0m79 0h0m5 0h0m-106 1h0m4 0h0m14 0h0m3 0h0m81 0h0m1 0h0m1 0h0m1 0h0m17 0h0m-122 1h0m1 0h0m11 0h0m1 0h0m1 0h0m4 0h0m-18 1h0m1 0h0m6 0h0m5 0h0m6 0h0m3 0h0m1 0h0m91 0h0m-111 1h0m3 0h0m2 0h0m1 0h0m5 0h0m4 0h0m4 0h0m1 0h0m-21 1h0m5 0h0m3 0h0m4 0h0m2 0h0m1 0h0m2 0h0m-18 1h0m11 0h0m1 0h0m1 0h0m2 0h0m2 0h0m2 0h0m-18 1h0m4 0h0m1 0h0m4 0h0m1 0h0m1 0h0m6 0h0m-18 1h0m6 0h0m13 0h0m-19 1h0m1 0h0m6 0h0m13 0h0m-19 1h0m5 0h0m-5 1h0m4 0h0m11 0h0m1 0h0m-16 1h0m15 0h0m14 2h0m-30 2h0m1 0h0m1 0h0m3 0h0m1 0h0m-5 1h0m3 0h0m1 0h0m-5 1h0m0 1h0m1 0h0m0 1h0m1 0h0m38 35h0m1 0h0m-1 1h0m16 4h0m-16 1h0m16 0h0m1 0h0m-17 1h0m1 0h0m16 0h0m-16 1h0m17 2h0m-11 1h0m1 0h0m1 0h0m5 0h0m10 0h0m1 0h0m-27 1h0m15 0h0m1 0h0m-16 1h0m1 0h0m0 1h0m-6 1h0m1 0h0m-1 1h0m12 0h0m-1 1h0m1 0h0m-3 3h0m31 0h0m-31 1h0m1 0h0m5 0h0m-6 1h0m5 0h0m2 0h0" stroke="#151515" stroke-width="1.2" stroke-linecap="square" fill="none"/><path d="M360.5 350.5h0m-26 2h0m25 0h0m7 0h0m-9 5h0m2 0h0m32 0h0m-49 1h0m41 0h0m-29 1h0m12 0h0m-17 1h0m2 0h0m9 0h0m6 0h0m39 0h0m-63 1h0m16 0h0m2 0h0m18 0h0m4 0h0m-34 2h0m2 0h0m4 0h0m8 0h0m41 0h0m17 0h0m-80 1h0m33 0h0m8 0h0m20 0h0m27 0h0m-94 1h0m21 0h0m20 0h0m5 0h0m43 0h0m-87 1h0m28 0h0m-32 1h0m2 0h0m4 0h0m46 0h0m10 0h0m4 0h0m26 0h0m4 0h0m7 0h0m-105 1h0m52 0h0m16 0h0m9 0h0m2 0h0m22 0h0m-99 1h0m39 0h0m9 0h0m44 0h0m-100 1h0m3 0h0m39 0h0m7 0h0m30 0h0m8 0h0m7 0h0m4 0h0m-47 1h0m9 0h0m15 0h0m8 0h0m2 0h0m6 0h0m9 0h0m7 0h0m3 0h0m-110 1h0m42 0h0m6 0h0m5 0h0m13 0h0m13 0h0m13 0h0m6 0h0m22 0h0m-128 1h0m59 0h0m11 0h0m20 0h0m4 0h0m3 0h0m6 0h0m9 0h0m2 0h0m6 0h0m-113 1h0m59 0h0m8 0h0m2 0h0m7 0h0m25 0h0m8 0h0m6 0h0m2 0h0m-70 1h0m20 0h0m19 0h0m25 0h0m3 0h0m-71 1h0m15 0h0m30 0h0m2 0h0m11 0h0m15 0h0m-5 1h0m-68 1h0m-43 1h0m67 0h0m3 0h0m-72 1h0m95 0h0m-97 1h0m59 0h0m32 0h0m29 0h0m-7 1h0m4 0h0m4 1h0m-124 2h0m52 0h0m73 0h0m2 0h0m-130 1h0m116 0h0m7 0h0m-126 1h0m52 0h0m74 2h0m-126 1h0m5 0h0m119 0h0m13 0h0m-11 1h0m8 0h0m-134 1h0m5 0h0m2 0h0m83 0h0m-88 1h0m-2 1h0m129 0h0m-126 1h0m113 0h0m7 0h0m-122 1h0m47 0h0m23 0h0m55 0h0m5 0h0m-89 1h0m87 0h0m-84 1h0m86 0h0m-83 1h0m57 0h0m-51 1h0m2 0h0m31 0h0m8 0h0m24 0h0m2 0h0m-74 1h0m43 0h0m3 0h0m35 0h0m-88 1h0m8 0h0m11 0h0m25 0h0m15 0h0m17 0h0m2 0h0m-76 1h0m4 0h0m4 0h0m5 0h0m13 0h0m2 0h0m22 0h0m3 0h0m2 0h0m23 0h0m6 0h0m6 0h0m-87 1h0m8 0h0m33 0h0m36 0h0m-83 1h0m3 0h0m12 0h0m2 0h0m6 0h0m4 0h0m20 0h0m2 0h0m4 0h0m2 0h0m19 0h0m17 0h0m-87 1h0m5 0h0m48 0h0m15 0h0m4 0h0m2 0h0m2 0h0m-91 1h0m8 0h0m4 0h0m11 0h0m5 0h0m4 0h0m3 0h0m19 0h0m2 0h0m1 0h0m8 0h0m6 0h0m10 0h0m16 0h0m4 0h0m-103 1h0m31 0h0m15 0h0m6 0h0m19 0h0m21 0h0m2 0h0m-76 1h0m11 0h0m25 0h0m11 0h0m34 0h0m4 0h0m4 0h0m3 0h0m-101 1h0m5 0h0m35 0h0m15 0h0m11 0h0m7 0h0m5 0h0m3 0h0m4 0h0m3 0h0m-119 1h0m39 0h0m2 0h0m10 0h0m4 0h0m33 0h0m4 0h0m10 0h0m12 0h0m8 0h0m-97 1h0m13 0h0m34 0h0m18 0h0m4 0h0m22 0h0m-97 1h0m38 0h0m4 0h0m14 0h0m2 0h0m23 0h0m6 0h0m17 0h0m-109 1h0m15 0h0m12 0h0m10 0h0m8 0h0m7 0h0m2 0h0m1 0h0m12 0h0m5 0h0m9 0h0m7 0h0m-100 1h0m53 0h0m55 0h0m5 0h0m-104 1h0m2 0h0m13 0h0m36 0h0m5 0h0m5 0h0m2 0h0m6 0h0m12 0h0m1 0h0m4 0h0m6 0h0m-104 1h0m8 0h0m3 0h0m14 0h0m21 0h0m12 0h0m13 0h0m25 0h0m10 0h0m2 0h0m14 0h0m1 0h0m-120 1h0m1 0h0m2 0h0m10 0h0m2 0h0m23 0h0m19 0h0m9 0h0m31 0h0m2 0h0m16 0h0m-107 1h0m13 0h0m56 0h0m15 0h0m5 0h0m28 0h0m2 0h0m-131 1h0m3 0h0m14 0h0m2 0h0m11 0h0m12 0h0m6 0h0m7 0h0m6 0h0m11 0h0m5 0h0m7 0h0m6 0h0m20 0h0m11 0h0m-107 1h0m7 0h0m1 0h0m11 0h0m28 0h0m13 0h0m30 0h0m8 0h0m3 0h0m1 0h0m8 0h0m-112 1h0m7 0h0m6 0h0m3 0h0m21 0h0m9 0h0m10 0h0m3 0h0m7 0h0m1 0h0m6 0h0m6 0h0m16 0h0m1 0h0m16 0h0m-116 1h0m21 0h0m17 0h0m7 0h0m6 0h0m25 0h0m16 0h0m4 0h0m-47 1h0m10 0h0m1 0h0m2 0h0m3 0h0m7 0h0m1 0h0m5 0h0m10 0h0m16 0h0m9 0h0m-117 1h0m3 0h0m15 0h0m6 0h0m29 0h0m2 0h0m18 0h0m42 0h0m-118 1h0m12 0h0m13 0h0m5 0h0m81 0h0m2 0h0m-87 1h0m11 0h0m11 0h0m27 0h0m3 0h0m18 0h0m12 0h0m-101 1h0m40 0h0m64 0h0m6 0h0m-116 1h0m21 0h0m3 0h0m6 0h0m5 0h0m22 0h0m5 0h0m20 0h0m11 0h0m-76 1h0m4 0h0m8 0h0m23 0h0m11 0h0m25 0h0m-83 1h0m20 0h0m22 0h0m21 0h0m5 0h0m3 0h0m2 0h0m1 0h0m-70 1h0m3 0h0m6 0h0m8 0h0m74 0h0m2 0h0m6 0h0m-103 1h0m7 0h0m61 0h0m6 0h0m29 0h0m6 0h0m-99 1h0m3 0h0m7 0h0m48 0h0m48 0h0m-121 1h0m8 0h0m23 0h0m94 0h0m-110 1h0m13 0h0m32 0h0m-64 1h0m8 0h0m5 0h0m9 0h0m7 0h0m10 0h0m88 0h0m-116 1h0m20 0h0m23 0h0m51 0h0m-88 1h0m10 0h0m35 0h0m29 0h0m-84 1h0m4 0h0m10 0h0m3 0h0m56 0h0m-71 1h0m12 0h0m7 0h0m37 0h0m-54 1h0m22 0h0m-12 1h0m2 0h0m6 0h0m-12 1h0m4 0h0m5 0h0m-13 1h0m1 0h0m3 0h0m9 0h0m7 0h0m66 0h0m8 0h0m-86 1h0m1 0h0m-12 1h0m8 0h0m1 0h0m-18 1h0m2 0h0m9 0h0m14 0h0m69 0h0m-76 1h0m-12 1h0m17 0h0m-9 1h0m2 1h0m-6 1h0m16 0h0m6 0h0m-24 1h0m7 0h0m4 1h0m9 0h0m-6 4h0m-5 1h0m-3 1h0m-7 1h0m2 2h0m-10 3h0m4 0h0m-4 1h0m6 1h0m21 0h0m-1 1h0m26 0h0m-33 1h0m2 0h0m26 0h0m-25 1h0m7 0h0m-18 1h0m1 0h0m7 0h0m6 0h0m-21 1h0m5 1h0m17 0h0m10 0h0m8 0h0m11 0h0m-54 1h0m6 0h0m44 0h0m-25 1h0m8 0h0m-19 1h0m18 0h0m9 0h0m3 0h0m-22 1h0m1 0h0m20 0h0m-9 1h0m-15 1h0m40 0h0m8 0h0m-58 1h0m7 0h0m6 0h0m2 0h0m12 0h0m23 0h0m-38 1h0m34 0h0m14 0h0m-34 1h0m17 0h0m7 0h0m19 0h0m-50 1h0m5 0h0m3 0h0m14 0h0m-16 2h0m20 0h0m5 0h0m5 0h0m-17 1h0m4 0h0m5 0h0m4 0h0m3 0h0m6 0h0m-27 1h0m3 0h0m4 0h0m2 0h0m14 0h0m-9 1h0m2 0h0m4 0h0m-46 1h0m17 0h0m17 0h0m15 0h0m4 0h0m-53 1h0m2 0h0m16 0h0m8 0h0m-23 1h0m10 0h0m17 0h0m1 0h0m3 0h0m15 0h0m2 0h0m3 0h0m-19 1h0m6 0h0m22 0h0m-68 1h0m27 0h0m20 0h0m-51 1h0m44 0h0m10 0h0m3 0h0m15 0h0m-47 1h0m7 0h0m20 0h0m8 0h0m-40 1h0m28 0h0m2 0h0m16 0h0m-52 1h0m14 0h0m8 1h0m17 0h0m2 0h0m10 0h0m-47 1h0m24 0h0m5 0h0m-32 1h0m11 0h0m13 0h0m5 0h0m10 0h0m2 0h0m-63 1h0m4 0h0m36 0h0m29 0h0m-22 2h0m-6 1h0m7 0h0m11 0h0m5 0h0m-20 2h0m3 0h0m4 0h0m-14 1h0m3 0h0m6 3h0m-6 3h0m39 3h0" stroke="#606060" stroke-width="1.35" stroke-linecap="square" fill="none"/>
<rect x="309.5" y="328.8" width="198.50" height="197.20" fill="none" stroke="#222" stroke-width="1.3"/>
<line x1="358.6" y1="328.8" x2="358.6" y2="526" stroke="#111" stroke-width="1.3"/>
<line x1="309.5" y1="460.7" x2="508" y2="460.7" stroke="#111" stroke-width="1.3"/>
<text x="312.50" y="343.90" font-size="16.6" font-weight="700" text-anchor="start" fill="#000" >72<tspan dx="1.1">,</tspan><tspan dx="1.3">19</tspan></text>
<text x="507.00" y="343.90" font-size="16.6" font-weight="700" text-anchor="end" fill="#000" >25<tspan dx="1.1">,</tspan><tspan dx="1.3">91</tspan></text>
<text x="312.70" y="523.40" font-size="16.6" font-weight="700" text-anchor="start" fill="#000" >0<tspan dx="1.1">,</tspan><tspan dx="1.3">96</tspan></text>
<text x="507.00" y="523.40" font-size="16.6" font-weight="700" text-anchor="end" fill="#000" >0<tspan dx="1.1">,</tspan><tspan dx="1.3">94</tspan></text>
<path d="M309.50 526.00v5.2M309.50 526.00h-5.2M324.44 526.00v3.0M309.50 511.16h-3.0M333.18 526.00v3.0M309.50 502.48h-3.0M339.38 526.00v3.0M309.50 496.32h-3.0M344.19 526.00v3.0M309.50 491.54h-3.0M348.12 526.00v3.0M309.50 487.64h-3.0M351.44 526.00v3.0M309.50 484.34h-3.0M354.32 526.00v3.0M309.50 481.48h-3.0M356.85 526.00v3.0M309.50 478.96h-3.0M359.12 526.00v5.2M309.50 476.70h-5.2M374.06 526.00v3.0M309.50 461.86h-3.0M382.80 526.00v3.0M309.50 453.18h-3.0M389.00 526.00v3.0M309.50 447.02h-3.0M393.81 526.00v3.0M309.50 442.24h-3.0M397.74 526.00v3.0M309.50 438.34h-3.0M401.06 526.00v3.0M309.50 435.04h-3.0M403.94 526.00v3.0M309.50 432.18h-3.0M406.48 526.00v3.0M309.50 429.66h-3.0M408.75 526.00v5.2M309.50 427.40h-5.2M423.69 526.00v3.0M309.50 412.56h-3.0M432.43 526.00v3.0M309.50 403.88h-3.0M438.63 526.00v3.0M309.50 397.72h-3.0M443.44 526.00v3.0M309.50 392.94h-3.0M447.37 526.00v3.0M309.50 389.04h-3.0M450.69 526.00v3.0M309.50 385.74h-3.0M453.57 526.00v3.0M309.50 382.88h-3.0M456.10 526.00v3.0M309.50 380.36h-3.0M458.38 526.00v5.2M309.50 378.10h-5.2M473.31 526.00v3.0M309.50 363.26h-3.0M482.05 526.00v3.0M309.50 354.58h-3.0M488.25 526.00v3.0M309.50 348.42h-3.0M493.06 526.00v3.0M309.50 343.64h-3.0M496.99 526.00v3.0M309.50 339.74h-3.0M500.31 526.00v3.0M309.50 336.44h-3.0M503.19 526.00v3.0M309.50 333.58h-3.0M505.73 526.00v3.0M309.50 331.06h-3.0" stroke="#444" stroke-width="0.9" fill="none"/>
<text x="312.90" y="549.50" font-size="10.6" text-anchor="end" fill="#222">10</text>
<text x="311.80" y="543.50" font-size="10.6" fill="#222">0</text>
<text x="297.70" y="533.50" font-size="10.6" text-anchor="end" fill="#222">10</text>
<text x="296.60" y="527.70" font-size="10.6" fill="#222">0</text>
<text x="362.52" y="549.50" font-size="10.6" text-anchor="end" fill="#222">10</text>
<text x="361.43" y="543.50" font-size="10.6" fill="#222">1</text>
<text x="297.70" y="484.20" font-size="10.6" text-anchor="end" fill="#222">10</text>
<text x="296.60" y="478.40" font-size="10.6" fill="#222">1</text>
<text x="412.15" y="549.50" font-size="10.6" text-anchor="end" fill="#222">10</text>
<text x="411.05" y="543.50" font-size="10.6" fill="#222">2</text>
<text x="297.70" y="434.90" font-size="10.6" text-anchor="end" fill="#222">10</text>
<text x="296.60" y="429.10" font-size="10.6" fill="#222">2</text>
<text x="461.77" y="549.50" font-size="10.6" text-anchor="end" fill="#222">10</text>
<text x="460.68" y="543.50" font-size="10.6" fill="#222">3</text>
<text x="297.70" y="385.60" font-size="10.6" text-anchor="end" fill="#222">10</text>
<text x="296.60" y="379.80" font-size="10.6" fill="#222">3</text>
<text x="0.00" y="632.50" font-size="24.5" font-weight="700" text-anchor="start" fill="#000" >B</text>
<line x1="85.4" y1="663.8" x2="85.4" y2="983.0" stroke="#000" stroke-width="1.7"/>
<line x1="84.6" y1="983.0" x2="517" y2="983.0" stroke="#000" stroke-width="1.8"/>
<line x1="82" y1="983.00" x2="85.4" y2="983.00" stroke="#000" stroke-width="1.5"/>
<text x="81.60" y="993.10" font-size="23" font-weight="700" text-anchor="end" fill="#000" >0</text>
<line x1="82" y1="919.15" x2="85.4" y2="919.15" stroke="#000" stroke-width="1.5"/>
<text x="81.60" y="929.25" font-size="23" font-weight="700" text-anchor="end" fill="#000" >5</text>
<line x1="82" y1="855.30" x2="85.4" y2="855.30" stroke="#000" stroke-width="1.5"/>
<text x="81.60" y="865.40" font-size="23" font-weight="700" text-anchor="end" fill="#000" >10</text>
<line x1="82" y1="791.45" x2="85.4" y2="791.45" stroke="#000" stroke-width="1.5"/>
<text x="81.60" y="801.55" font-size="23" font-weight="700" text-anchor="end" fill="#000" >15</text>
<line x1="82" y1="727.60" x2="85.4" y2="727.60" stroke="#000" stroke-width="1.5"/>
<text x="81.60" y="737.70" font-size="23" font-weight="700" text-anchor="end" fill="#000" >20</text>
<line x1="82" y1="663.75" x2="85.4" y2="663.75" stroke="#000" stroke-width="1.5"/>
<text x="81.60" y="673.85" font-size="23" font-weight="700" text-anchor="end" fill="#000" >25</text>
<text transform="translate(51.6 927.5) rotate(-90)" font-size="25.6" font-weight="700" fill="#000">CD107a</text>
<text transform="translate(39.4 832.6) rotate(-90)" font-size="16.8" font-weight="700" fill="#000">+</text>
<text transform="translate(51.5 814.3) rotate(-90)" font-size="25.5" font-weight="700" fill="#000">cells</text>
<text transform="translate(51.0 742.8) rotate(-90)" font-size="25.8" font-weight="700" fill="#000">(%)</text>
<defs><pattern id="st" x="0" y="0.3" width="10" height="3.4" patternUnits="userSpaceOnUse"><rect width="10" height="3.4" fill="#fff"/><rect y="0" width="10" height="1" fill="#4a4a4a"/><rect y="1" width="10" height="0.8" fill="#bdbdbd"/><rect y="2.6" width="10" height="0.8" fill="#bdbdbd"/></pattern></defs>
<line x1="117.85" y1="957.00" x2="117.85" y2="968.00" stroke="#000" stroke-width="1.6"/>
<line x1="110.85" y1="957.00" x2="124.85" y2="957.00" stroke="#000" stroke-width="1.6"/>
<rect x="105.05" y="967.55" width="25.60" height="15.45" fill="#fff" stroke="#000" stroke-width="1.1"/>
<line x1="157.75" y1="916.20" x2="157.75" y2="947.20" stroke="#000" stroke-width="1.6"/>
<line x1="150.75" y1="916.20" x2="164.75" y2="916.20" stroke="#000" stroke-width="1.6"/>
<rect x="144.95" y="946.75" width="25.60" height="36.25" fill="url(#st)" stroke="#000" stroke-width="1.1"/>
<line x1="196.75" y1="700.80" x2="196.75" y2="711.60" stroke="#000" stroke-width="1.6"/>
<line x1="189.75" y1="700.80" x2="203.75" y2="700.80" stroke="#000" stroke-width="1.6"/>
<rect x="183.95" y="711.15" width="25.60" height="271.85" fill="#000" stroke="#000" stroke-width="1.1"/>
<line x1="262.35" y1="962.20" x2="262.35" y2="969.30" stroke="#000" stroke-width="1.6"/>
<line x1="255.35" y1="962.20" x2="269.35" y2="962.20" stroke="#000" stroke-width="1.6"/>
<rect x="249.55" y="968.85" width="25.60" height="14.15" fill="#fff" stroke="#000" stroke-width="1.1"/>
<line x1="301.75" y1="906.50" x2="301.75" y2="930.30" stroke="#000" stroke-width="1.6"/>
<line x1="294.75" y1="906.50" x2="308.75" y2="906.50" stroke="#000" stroke-width="1.6"/>
<rect x="288.95" y="929.85" width="25.60" height="53.15" fill="url(#st)" stroke="#000" stroke-width="1.1"/>
<line x1="341.35" y1="908.00" x2="341.35" y2="913.30" stroke="#000" stroke-width="1.6"/>
<line x1="334.35" y1="908.00" x2="348.35" y2="908.00" stroke="#000" stroke-width="1.6"/>
<rect x="328.55" y="912.85" width="25.60" height="70.15" fill="#000" stroke="#000" stroke-width="1.1"/>
<line x1="406.45" y1="964.20" x2="406.45" y2="972.40" stroke="#000" stroke-width="1.6"/>
<line x1="399.45" y1="964.20" x2="413.45" y2="964.20" stroke="#000" stroke-width="1.6"/>
<rect x="393.65" y="971.95" width="25.60" height="11.05" fill="#fff" stroke="#000" stroke-width="1.1"/>
<line x1="445.95" y1="953.30" x2="445.95" y2="967.50" stroke="#000" stroke-width="1.6"/>
<line x1="438.95" y1="953.30" x2="452.95" y2="953.30" stroke="#000" stroke-width="1.6"/>
<rect x="433.15" y="967.05" width="25.60" height="15.95" fill="url(#st)" stroke="#000" stroke-width="1.1"/>
<line x1="485.75" y1="931.00" x2="485.75" y2="939.60" stroke="#000" stroke-width="1.6"/>
<line x1="478.75" y1="931.00" x2="492.75" y2="931.00" stroke="#000" stroke-width="1.6"/>
<rect x="472.95" y="939.15" width="25.60" height="43.85" fill="#000" stroke="#000" stroke-width="1.1"/>
<rect x="366.8" y="704.50" width="16.2" height="19.6" fill="#fff" stroke="#222" stroke-width="1.2"/>
<text x="389.20" y="721.20" font-size="19.5" font-weight="400" text-anchor="start" fill="#111" >Day 0</text>
<rect x="366.8" y="732.20" width="16.2" height="19.6" fill="url(#st)" stroke="#222" stroke-width="1.2"/>
<text x="389.20" y="748.90" font-size="19.5" font-weight="400" text-anchor="start" fill="#111" >Day 5</text>
<rect x="366.8" y="759.90" width="16.2" height="19.6" fill="#000" stroke="#222" stroke-width="1.2"/>
<text x="389.20" y="776.60" font-size="19.5" font-weight="400" text-anchor="start" fill="#111" >Day 20</text>
<text x="104.60" y="1010" font-size="21.5" font-weight="700" fill="#000">CD3<tspan dx="0.3" dy="-11.5" font-size="16.5">-</tspan><tspan dx="-0.9" dy="11.5">CD56</tspan><tspan dx="0.4" dy="-12.5" font-size="15.5">+</tspan></text>
<text x="249.60" y="1010" font-size="21.5" font-weight="700" fill="#000">CD3<tspan dx="0.4" dy="-11.5" font-size="16.5">+</tspan><tspan dx="-0.5" dy="11.5">CD56</tspan><tspan dx="0.2" dy="-12.5" font-size="15.5">+</tspan></text>
<text x="394.00" y="1010" font-size="21.5" font-weight="700" fill="#000">CD3<tspan dx="0.2" dy="-11.5" font-size="16.5">+</tspan><tspan dx="-0.5" dy="11.5">CD56</tspan><tspan dx="0.3" dy="-12.5" font-size="15.5">-</tspan></text>
</svg></body></html>
